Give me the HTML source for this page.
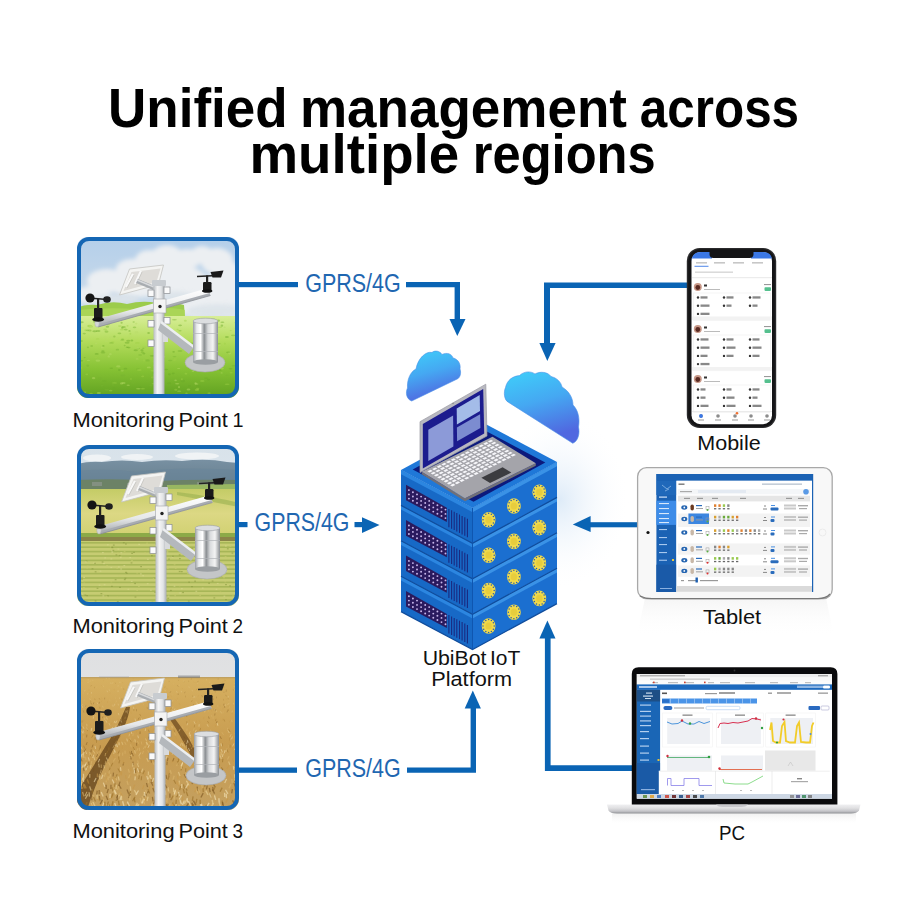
<!DOCTYPE html>
<html><head><meta charset="utf-8">
<style>
html,body{margin:0;padding:0;background:#fff;}
body{width:900px;height:900px;overflow:hidden;position:relative;font-family:"Liberation Sans",sans-serif;}
svg{position:absolute;left:0;top:0;}
</style></head>
<body>
<svg width="900" height="900" viewBox="0 0 900 900" font-family="Liberation Sans, sans-serif">
<defs>
  <filter id="cblur" x="-30%" y="-30%" width="160%" height="160%"><feGaussianBlur stdDeviation="2.2"/></filter>
  <clipPath id="pclip"><rect x="0" y="0" width="162" height="161" rx="11"/></clipPath>
  <linearGradient id="sky1" x1="0" y1="0" x2="0" y2="1">
    <stop offset="0" stop-color="#b4cfea"/><stop offset="0.6" stop-color="#d4e0ea"/><stop offset="1" stop-color="#dfe6ec"/>
  </linearGradient>
  <linearGradient id="grass1" x1="0" y1="0" x2="0" y2="1">
    <stop offset="0" stop-color="#d8ee98"/><stop offset="0.3" stop-color="#b4dc5c"/><stop offset="0.65" stop-color="#86c234"/><stop offset="1" stop-color="#5fa020"/>
  </linearGradient>
  <linearGradient id="sky2" x1="0" y1="0" x2="0" y2="1">
    <stop offset="0" stop-color="#d8e2ea"/><stop offset="1" stop-color="#e8eef0"/>
  </linearGradient>
  <linearGradient id="mtn2" x1="0" y1="0" x2="0" y2="1">
    <stop offset="0" stop-color="#7890a2"/><stop offset="1" stop-color="#67808e"/>
  </linearGradient>
  <linearGradient id="field2" x1="0" y1="0" x2="0" y2="1">
    <stop offset="0" stop-color="#c4cc66"/><stop offset="0.5" stop-color="#dcd884"/><stop offset="1" stop-color="#d0d070"/>
  </linearGradient>
  <linearGradient id="rice2" x1="0" y1="0" x2="0" y2="1">
    <stop offset="0" stop-color="#a8b050"/><stop offset="1" stop-color="#b8c060"/>
  </linearGradient>
  <pattern id="rows2" x="0" y="0" width="6" height="5" patternUnits="userSpaceOnUse">
    <rect width="6" height="5" fill="#c2c862"/>
    <rect y="3" width="6" height="2" fill="#8ea040"/>
    <rect x="2" y="0" width="1.5" height="3" fill="#d8d88a"/>
  </pattern>
  <linearGradient id="sky3" x1="0" y1="0" x2="0" y2="1">
    <stop offset="0" stop-color="#dfe0e2"/><stop offset="1" stop-color="#e8e8e6"/>
  </linearGradient>
  <linearGradient id="wheat3" x1="0" y1="0" x2="0" y2="1">
    <stop offset="0" stop-color="#d6b060"/><stop offset="0.5" stop-color="#c89c50"/><stop offset="1" stop-color="#c4a060"/>
  </linearGradient>
  <pattern id="wtex3" x="0" y="0" width="7" height="6" patternUnits="userSpaceOnUse">
    <rect width="7" height="6" fill="none"/>
    <path d="M1 5 L3 1 M4 6 L6 2" stroke="#e8c880" stroke-width="0.9" opacity="0.7"/>
    <path d="M0 2 L2 6" stroke="#7a5420" stroke-width="0.8" opacity="0.5"/>
  </pattern>
  <linearGradient id="poleG" x1="0" y1="0" x2="1" y2="0">
    <stop offset="0" stop-color="#b8bcc0"/><stop offset="0.35" stop-color="#f4f4f4"/><stop offset="0.7" stop-color="#e2e4e6"/><stop offset="1" stop-color="#a8acb0"/>
  </linearGradient>
  <linearGradient id="armG" x1="0" y1="0" x2="0" y2="1">
    <stop offset="0" stop-color="#ffffff"/><stop offset="0.6" stop-color="#e6e8ea"/><stop offset="1" stop-color="#a0a4a8"/>
  </linearGradient>
  <linearGradient id="canG" x1="0" y1="0" x2="1" y2="0">
    <stop offset="0" stop-color="#9a9ea2"/><stop offset="0.15" stop-color="#e8eaec"/><stop offset="0.3" stop-color="#ffffff"/><stop offset="0.45" stop-color="#8a8e92"/><stop offset="0.6" stop-color="#d8dadc"/><stop offset="0.8" stop-color="#f4f4f4"/><stop offset="1" stop-color="#8a8e92"/>
  </linearGradient>
  <g id="station">
    <!-- solar panel -->
    <path d="M42.5 58 L52.5 32 L86.5 28 L81.5 47.5 Z" fill="#f4f4f2" stroke="#c4c4c0" stroke-width="0.8"/>
    <path d="M46.5 54 L54.5 35 L83.5 31.5 L79.5 45 Z" fill="#dedcd8"/>
    <path d="M49 50 L56 37 M58 47 L64 34" stroke="#f8f8f8" stroke-width="2.2"/>
    <path d="M49 50 L56 37 M58 47 L64 34" stroke="#b8b8b4" stroke-width="0.6" transform="translate(1,1)"/>
    <path d="M60 44 L77 51" stroke="#a8acb0" stroke-width="4.5"/>
    <path d="M60 43 L77 50" stroke="#d8dadc" stroke-width="1.5"/>
    <!-- pole -->
    <rect x="76.5" y="46" width="11" height="112" fill="url(#poleG)"/>
    <rect x="75" y="43" width="14" height="6" rx="1" fill="#c8ccd0"/>
    <!-- crossarm -->
    <path d="M19 82.5 L131.5 51 L133.5 58.5 L21 90 Z" fill="url(#armG)"/>
    <path d="M20.2 87.5 L132.7 56 L133.5 58.5 L21 90 Z" fill="#a8acb2"/>
    <path d="M21 90 L133.5 58.5" stroke="#8a8e94" stroke-width="0.8"/>
    <ellipse cx="20" cy="86.3" rx="2.2" ry="3.8" fill="#d4d6d8" stroke="#aaa" stroke-width="0.5"/>
    <!-- brackets -->
    <rect x="71" y="53" width="6" height="6.5" fill="#fafafa" stroke="#8a8e92" stroke-width="0.7"/>
    <rect x="87" y="50" width="6" height="6.5" fill="#fafafa" stroke="#8a8e92" stroke-width="0.7"/>
    <rect x="76.5" y="62" width="12.5" height="14" fill="#f4f4f4" stroke="#a0a4a8" stroke-width="0.6"/>
    <circle cx="83" cy="69.5" r="1.7" fill="#222"/>
    <rect x="71" y="83.5" width="6" height="6.5" fill="#fafafa" stroke="#8a8e92" stroke-width="0.7"/>
    <rect x="87" y="80.5" width="6" height="6.5" fill="#fafafa" stroke="#8a8e92" stroke-width="0.7"/>
    <rect x="71" y="103" width="6" height="6.5" fill="#fafafa" stroke="#8a8e92" stroke-width="0.7"/>
    <rect x="86" y="97" width="5" height="8" fill="#d8dadc"/>
    <!-- support arm -->
    <path d="M84 85 L117 110 L112 117 L81 93 Z" fill="#b4b8bc"/>
    <path d="M84 85 L117 110" stroke="#eceef0" stroke-width="2.5"/>
    <!-- anemometer -->
    <rect x="17" y="71" width="8.5" height="11" rx="1" fill="#1c1c1c"/>
    <ellipse cx="21.2" cy="82.5" rx="6" ry="2.2" fill="#111"/>
    <rect x="20" y="62" width="2.2" height="10" fill="#222"/>
    <path d="M12 61 L30 62.5" stroke="#222" stroke-width="1.5"/>
    <ellipse cx="13" cy="61" rx="4.6" ry="4.5" fill="#151515"/>
    <ellipse cx="30" cy="62.5" rx="3.8" ry="3.2" fill="#202020"/>
    <!-- wind vane -->
    <rect x="126" y="45" width="8.5" height="9" rx="1.2" fill="#1a1a1a"/>
    <ellipse cx="130.2" cy="54" rx="5.2" ry="1.8" fill="#111"/>
    <rect x="129" y="38.5" width="2.2" height="7" fill="#222"/>
    <path d="M120 39.5 L140 38.5" stroke="#222" stroke-width="1.6"/>
    <path d="M133.5 35 L146.5 33.5 L144 40.5 L135.5 40.5 Z" fill="#1a1a1a"/>
    <!-- rain gauge -->
    <ellipse cx="128" cy="125.5" rx="20" ry="9.5" fill="#c4c6c8" stroke="#a8aaac" stroke-width="0.6"/>
    <rect x="116" y="84" width="25" height="41" fill="url(#canG)"/>
    <rect x="116" y="96" width="25" height="1" fill="#b0b4b8" opacity="0.7"/>
    <rect x="116" y="114" width="25" height="1" fill="#b0b4b8" opacity="0.7"/>
    <ellipse cx="128.5" cy="84" rx="12.5" ry="2.8" fill="#dcdee0" stroke="#9a9ea2" stroke-width="0.6"/>
    <ellipse cx="128.5" cy="125" rx="12.5" ry="2.8" fill="#9a9ea2"/>
  </g>
</defs>

<text transform="translate(108.11,127) scale(0.9633,1)" font-size="55" font-weight="bold" fill="#000">Unified</text>
<text transform="translate(299.94,127) scale(0.9642,1)" font-size="55" font-weight="bold" fill="#000">management</text>
<text transform="translate(639.80,127) scale(0.8983,1)" font-size="55" font-weight="bold" fill="#000">across</text>
<text transform="translate(249.42,172.5) scale(0.9951,1)" font-size="55" font-weight="bold" fill="#000">multiple</text>
<text transform="translate(472.82,172.5) scale(0.9208,1)" font-size="55" font-weight="bold" fill="#000">regions</text>
<g transform="translate(77,237)"><g clip-path="url(#pclip)">
<rect x="0" y="0" width="162" height="161" fill="url(#sky1)"/>
<g fill="#eceff2" filter="url(#cblur)">
<ellipse cx="55" cy="32" rx="16" ry="10"/>
<ellipse cx="72" cy="24" rx="14" ry="11"/>
<ellipse cx="90" cy="20" rx="16" ry="12"/>
<ellipse cx="110" cy="22" rx="14" ry="10"/>
<ellipse cx="125" cy="18" rx="12" ry="9"/>
<ellipse cx="140" cy="24" rx="16" ry="13"/>
<ellipse cx="150" cy="40" rx="16" ry="16"/>
<ellipse cx="30" cy="44" rx="20" ry="12"/>
<ellipse cx="60" cy="46" rx="30" ry="14"/>
<ellipse cx="100" cy="44" rx="30" ry="16"/>
<ellipse cx="135" cy="55" rx="28" ry="16"/>
<ellipse cx="15" cy="58" rx="18" ry="9"/>
<ellipse cx="150" cy="68" rx="22" ry="12"/>
<ellipse cx="120" cy="70" rx="20" ry="9"/>
</g>
<g fill="#dde4ea" opacity="0.9" filter="url(#cblur)"><ellipse cx="140" cy="74" rx="30" ry="7"/><ellipse cx="100" cy="60" rx="18" ry="6"/><ellipse cx="40" cy="62" rx="22" ry="5"/></g>
<path d="M0 71 Q8 67 20 68 Q35 63 50 67 Q65 63 80 66 Q95 64 107 68 L108 80 L0 80 Z" fill="#9ccc4c"/>
<path d="M0 73 Q30 70 60 72 Q90 69 108 73 L108 80 L0 80 Z" fill="#b0d85c" opacity="0.7"/>
<rect x="0" y="79" width="162" height="82" fill="url(#grass1)"/>
<ellipse cx="52.5" cy="93.9" rx="1.1" ry="0.9" fill="#6aa828" opacity="0.45"/>
<ellipse cx="59.2" cy="86.6" rx="1.1" ry="0.9" fill="#b8dc68" opacity="0.45"/>
<ellipse cx="11.3" cy="89.2" rx="1.1" ry="0.9" fill="#a0d048" opacity="0.45"/>
<ellipse cx="153.5" cy="131.8" rx="1.9" ry="0.8" fill="#6aa828" opacity="0.45"/>
<ellipse cx="158.2" cy="85.7" rx="1.4" ry="0.7" fill="#b8dc68" opacity="0.45"/>
<ellipse cx="19.1" cy="106.4" rx="1.2" ry="0.9" fill="#b8dc68" opacity="0.45"/>
<ellipse cx="30.4" cy="89.7" rx="1.8" ry="1.0" fill="#6aa828" opacity="0.45"/>
<ellipse cx="80.4" cy="124.0" rx="1.7" ry="1.2" fill="#78b430" opacity="0.45"/>
<ellipse cx="58.6" cy="101.6" rx="2.0" ry="0.7" fill="#b8dc68" opacity="0.45"/>
<ellipse cx="93.1" cy="123.5" rx="2.1" ry="0.8" fill="#78b430" opacity="0.45"/>
<ellipse cx="158.8" cy="91.3" rx="1.2" ry="0.8" fill="#a0d048" opacity="0.45"/>
<ellipse cx="151.2" cy="115.3" rx="2.1" ry="0.9" fill="#6aa828" opacity="0.45"/>
<ellipse cx="141.8" cy="106.8" rx="1.9" ry="0.9" fill="#78b430" opacity="0.45"/>
<ellipse cx="73.9" cy="148.4" rx="1.7" ry="1.0" fill="#78b430" opacity="0.45"/>
<ellipse cx="9.8" cy="137.4" rx="1.4" ry="0.8" fill="#a0d048" opacity="0.45"/>
<ellipse cx="108.3" cy="83.8" rx="1.5" ry="1.0" fill="#a0d048" opacity="0.45"/>
<ellipse cx="80.0" cy="99.2" rx="1.2" ry="0.7" fill="#78b430" opacity="0.45"/>
<ellipse cx="63.3" cy="150.8" rx="1.2" ry="0.8" fill="#6aa828" opacity="0.45"/>
<ellipse cx="45.0" cy="92.8" rx="2.3" ry="0.8" fill="#a0d048" opacity="0.45"/>
<ellipse cx="67.3" cy="110.3" rx="2.4" ry="0.7" fill="#a0d048" opacity="0.45"/>
<ellipse cx="28.5" cy="100.3" rx="1.0" ry="1.1" fill="#b8dc68" opacity="0.45"/>
<ellipse cx="29.5" cy="104.3" rx="1.6" ry="0.8" fill="#b8dc68" opacity="0.45"/>
<ellipse cx="91.7" cy="157.3" rx="1.7" ry="1.1" fill="#6aa828" opacity="0.45"/>
<ellipse cx="154.2" cy="135.8" rx="1.6" ry="0.8" fill="#a0d048" opacity="0.45"/>
<ellipse cx="78.0" cy="113.6" rx="1.1" ry="0.7" fill="#b8dc68" opacity="0.45"/>
<ellipse cx="26.3" cy="108.9" rx="1.2" ry="0.9" fill="#6aa828" opacity="0.45"/>
<ellipse cx="86.9" cy="157.0" rx="1.1" ry="0.7" fill="#6aa828" opacity="0.45"/>
<ellipse cx="60.9" cy="132.1" rx="1.9" ry="0.9" fill="#78b430" opacity="0.45"/>
<ellipse cx="18.7" cy="120.6" rx="1.7" ry="0.8" fill="#a0d048" opacity="0.45"/>
<ellipse cx="23.3" cy="141.2" rx="1.7" ry="1.0" fill="#78b430" opacity="0.45"/>
<ellipse cx="83.6" cy="98.2" rx="1.2" ry="0.9" fill="#78b430" opacity="0.45"/>
<ellipse cx="4.4" cy="123.7" rx="2.0" ry="0.8" fill="#6aa828" opacity="0.45"/>
<ellipse cx="59.4" cy="95.2" rx="1.8" ry="1.1" fill="#b8dc68" opacity="0.45"/>
<ellipse cx="53.4" cy="99.6" rx="2.2" ry="1.1" fill="#b8dc68" opacity="0.45"/>
<ellipse cx="119.9" cy="99.9" rx="1.5" ry="0.6" fill="#a0d048" opacity="0.45"/>
<ellipse cx="4.5" cy="104.1" rx="1.3" ry="1.0" fill="#78b430" opacity="0.45"/>
<ellipse cx="55.8" cy="145.9" rx="2.4" ry="0.8" fill="#78b430" opacity="0.45"/>
<ellipse cx="35.7" cy="99.9" rx="1.5" ry="0.9" fill="#b8dc68" opacity="0.45"/>
<ellipse cx="159.6" cy="130.2" rx="1.7" ry="1.0" fill="#6aa828" opacity="0.45"/>
<ellipse cx="129.5" cy="88.7" rx="2.4" ry="1.1" fill="#6aa828" opacity="0.45"/>
<ellipse cx="121.5" cy="119.8" rx="1.7" ry="1.0" fill="#b8dc68" opacity="0.45"/>
<ellipse cx="14.1" cy="156.7" rx="1.7" ry="1.0" fill="#a0d048" opacity="0.45"/>
<ellipse cx="13.8" cy="94.5" rx="1.0" ry="1.0" fill="#b8dc68" opacity="0.45"/>
<ellipse cx="75.4" cy="133.8" rx="2.0" ry="0.8" fill="#a0d048" opacity="0.45"/>
<ellipse cx="88.9" cy="92.3" rx="2.2" ry="1.0" fill="#6aa828" opacity="0.45"/>
<ellipse cx="16.6" cy="141.2" rx="1.7" ry="1.1" fill="#b8dc68" opacity="0.45"/>
<ellipse cx="133.8" cy="98.7" rx="1.3" ry="0.9" fill="#78b430" opacity="0.45"/>
<ellipse cx="123.7" cy="107.8" rx="2.3" ry="0.6" fill="#a0d048" opacity="0.45"/>
<ellipse cx="119.9" cy="152.9" rx="2.2" ry="1.1" fill="#a0d048" opacity="0.45"/>
<ellipse cx="21.2" cy="94.0" rx="2.3" ry="1.1" fill="#6aa828" opacity="0.45"/>
<ellipse cx="98.6" cy="143.3" rx="1.3" ry="0.9" fill="#b8dc68" opacity="0.45"/>
<ellipse cx="117.5" cy="126.0" rx="2.0" ry="0.9" fill="#78b430" opacity="0.45"/>
<ellipse cx="78.2" cy="143.3" rx="1.4" ry="0.8" fill="#6aa828" opacity="0.45"/>
<ellipse cx="125.1" cy="122.1" rx="2.1" ry="1.1" fill="#6aa828" opacity="0.45"/>
<ellipse cx="71.8" cy="130.4" rx="2.0" ry="0.9" fill="#b8dc68" opacity="0.45"/>
<ellipse cx="86.4" cy="119.8" rx="2.0" ry="1.1" fill="#b8dc68" opacity="0.45"/>
<ellipse cx="152.6" cy="102.5" rx="2.3" ry="0.7" fill="#b8dc68" opacity="0.45"/>
<ellipse cx="19.7" cy="116.9" rx="2.0" ry="0.9" fill="#6aa828" opacity="0.45"/>
<ellipse cx="34.5" cy="105.9" rx="2.3" ry="0.7" fill="#6aa828" opacity="0.45"/>
<ellipse cx="116.0" cy="134.2" rx="1.4" ry="0.7" fill="#b8dc68" opacity="0.45"/>
<ellipse cx="75.8" cy="141.0" rx="1.6" ry="0.9" fill="#6aa828" opacity="0.45"/>
<ellipse cx="160.4" cy="147.8" rx="2.1" ry="1.2" fill="#b8dc68" opacity="0.45"/>
<ellipse cx="65.4" cy="115.3" rx="1.5" ry="1.0" fill="#78b430" opacity="0.45"/>
<ellipse cx="3.2" cy="125.8" rx="2.1" ry="0.8" fill="#a0d048" opacity="0.45"/>
<ellipse cx="83.8" cy="105.3" rx="1.2" ry="1.2" fill="#6aa828" opacity="0.45"/>
<ellipse cx="37.0" cy="151.2" rx="1.4" ry="0.6" fill="#6aa828" opacity="0.45"/>
<ellipse cx="126.2" cy="103.4" rx="2.2" ry="1.1" fill="#b8dc68" opacity="0.45"/>
<ellipse cx="109.5" cy="156.7" rx="1.2" ry="1.2" fill="#a0d048" opacity="0.45"/>
<ellipse cx="92.4" cy="137.3" rx="1.4" ry="1.1" fill="#6aa828" opacity="0.45"/>
<ellipse cx="29.7" cy="152.7" rx="2.4" ry="1.0" fill="#78b430" opacity="0.45"/>
<ellipse cx="129.9" cy="88.6" rx="1.1" ry="1.1" fill="#b8dc68" opacity="0.45"/>
<ellipse cx="73.5" cy="108.8" rx="2.4" ry="0.8" fill="#a0d048" opacity="0.45"/>
<ellipse cx="20.9" cy="123.6" rx="2.4" ry="1.2" fill="#b8dc68" opacity="0.45"/>
<ellipse cx="42.4" cy="96.3" rx="1.9" ry="0.9" fill="#78b430" opacity="0.45"/>
<ellipse cx="33.4" cy="117.2" rx="1.4" ry="1.1" fill="#b8dc68" opacity="0.45"/>
<ellipse cx="161.1" cy="84.9" rx="2.1" ry="0.9" fill="#6aa828" opacity="0.45"/>
<ellipse cx="30.7" cy="119.5" rx="1.2" ry="1.1" fill="#a0d048" opacity="0.45"/>
<ellipse cx="70.0" cy="121.1" rx="2.5" ry="0.8" fill="#a0d048" opacity="0.45"/>
<ellipse cx="34.9" cy="100.1" rx="2.2" ry="1.0" fill="#b8dc68" opacity="0.45"/>
<ellipse cx="103.0" cy="114.0" rx="2.5" ry="1.1" fill="#78b430" opacity="0.45"/>
<ellipse cx="2.3" cy="131.4" rx="1.6" ry="0.6" fill="#78b430" opacity="0.45"/>
<ellipse cx="107.8" cy="112.1" rx="1.9" ry="1.0" fill="#78b430" opacity="0.45"/>
<ellipse cx="7.3" cy="96.6" rx="1.7" ry="0.8" fill="#78b430" opacity="0.45"/>
<ellipse cx="155.8" cy="158.8" rx="1.4" ry="1.2" fill="#78b430" opacity="0.45"/>
<ellipse cx="50.1" cy="110.2" rx="1.5" ry="0.7" fill="#6aa828" opacity="0.45"/>
<ellipse cx="45.2" cy="133.8" rx="1.8" ry="0.6" fill="#b8dc68" opacity="0.45"/>
<ellipse cx="42.8" cy="89.1" rx="1.9" ry="0.8" fill="#a0d048" opacity="0.45"/>
<ellipse cx="48.5" cy="131.7" rx="1.9" ry="0.9" fill="#6aa828" opacity="0.45"/>
<ellipse cx="121.6" cy="133.9" rx="2.1" ry="1.0" fill="#a0d048" opacity="0.45"/>
<ellipse cx="80.1" cy="104.4" rx="1.1" ry="1.1" fill="#b8dc68" opacity="0.45"/>
<ellipse cx="144.5" cy="131.6" rx="2.4" ry="1.1" fill="#b8dc68" opacity="0.45"/>
<ellipse cx="92.1" cy="146.2" rx="2.2" ry="1.0" fill="#6aa828" opacity="0.45"/>
<ellipse cx="144.6" cy="135.9" rx="1.1" ry="0.6" fill="#b8dc68" opacity="0.45"/>
<ellipse cx="103.2" cy="157.8" rx="2.3" ry="0.9" fill="#a0d048" opacity="0.45"/>
<ellipse cx="101.7" cy="131.5" rx="1.7" ry="0.6" fill="#b8dc68" opacity="0.45"/>
<ellipse cx="129.2" cy="141.1" rx="2.0" ry="0.6" fill="#6aa828" opacity="0.45"/>
<ellipse cx="119.4" cy="101.9" rx="2.3" ry="0.7" fill="#6aa828" opacity="0.45"/>
<ellipse cx="122.5" cy="100.2" rx="1.7" ry="0.8" fill="#a0d048" opacity="0.45"/>
<ellipse cx="77.6" cy="136.0" rx="1.9" ry="1.0" fill="#6aa828" opacity="0.45"/>
<ellipse cx="12.6" cy="93.6" rx="2.0" ry="1.0" fill="#78b430" opacity="0.45"/>
<ellipse cx="100.6" cy="92.5" rx="1.1" ry="0.8" fill="#a0d048" opacity="0.45"/>
<ellipse cx="108.9" cy="136.7" rx="1.4" ry="0.9" fill="#a0d048" opacity="0.45"/>
<ellipse cx="75.3" cy="118.8" rx="2.5" ry="0.9" fill="#6aa828" opacity="0.45"/>
<ellipse cx="50.5" cy="88.8" rx="1.0" ry="0.9" fill="#a0d048" opacity="0.45"/>
<ellipse cx="132.8" cy="158.5" rx="2.5" ry="0.8" fill="#a0d048" opacity="0.45"/>
<ellipse cx="148.5" cy="155.5" rx="1.9" ry="0.7" fill="#6aa828" opacity="0.45"/>
<ellipse cx="84.9" cy="157.3" rx="1.9" ry="1.0" fill="#b8dc68" opacity="0.45"/>
<ellipse cx="45.3" cy="90.9" rx="1.3" ry="1.1" fill="#78b430" opacity="0.45"/>
<ellipse cx="78.8" cy="84.0" rx="2.4" ry="1.0" fill="#6aa828" opacity="0.45"/>
<ellipse cx="65.7" cy="139.4" rx="1.5" ry="0.8" fill="#a0d048" opacity="0.45"/>
<ellipse cx="136.1" cy="82.1" rx="2.3" ry="0.7" fill="#78b430" opacity="0.45"/>
<ellipse cx="150.1" cy="138.3" rx="1.4" ry="0.6" fill="#78b430" opacity="0.45"/>
<ellipse cx="63.2" cy="150.7" rx="1.5" ry="0.9" fill="#6aa828" opacity="0.45"/>
<ellipse cx="44.6" cy="85.8" rx="1.1" ry="1.0" fill="#6aa828" opacity="0.45"/>
<ellipse cx="102.9" cy="93.8" rx="1.7" ry="0.8" fill="#78b430" opacity="0.45"/>
<ellipse cx="125.3" cy="144.0" rx="2.3" ry="1.1" fill="#a0d048" opacity="0.45"/>
<ellipse cx="102.2" cy="154.2" rx="2.1" ry="0.6" fill="#b8dc68" opacity="0.45"/>
<ellipse cx="118.6" cy="117.6" rx="2.0" ry="0.8" fill="#b8dc68" opacity="0.45"/>
<ellipse cx="7.9" cy="155.2" rx="1.3" ry="0.8" fill="#b8dc68" opacity="0.45"/>
<ellipse cx="45.6" cy="102.2" rx="1.6" ry="0.7" fill="#78b430" opacity="0.45"/>
<ellipse cx="78.3" cy="134.8" rx="1.3" ry="0.7" fill="#6aa828" opacity="0.45"/>
<ellipse cx="33.7" cy="153.6" rx="1.8" ry="0.9" fill="#a0d048" opacity="0.45"/>
<ellipse cx="53.9" cy="142.0" rx="1.2" ry="0.7" fill="#a0d048" opacity="0.45"/>
<ellipse cx="14.7" cy="109.0" rx="1.5" ry="0.8" fill="#6aa828" opacity="0.45"/>
<ellipse cx="131.1" cy="98.0" rx="2.1" ry="0.8" fill="#6aa828" opacity="0.45"/>
<ellipse cx="67.0" cy="123.4" rx="1.4" ry="1.1" fill="#a0d048" opacity="0.45"/>
<ellipse cx="80.7" cy="127.4" rx="1.2" ry="0.9" fill="#78b430" opacity="0.45"/>
<ellipse cx="102.0" cy="150.2" rx="1.1" ry="1.1" fill="#b8dc68" opacity="0.45"/>
<ellipse cx="62.3" cy="133.0" rx="2.4" ry="1.1" fill="#a0d048" opacity="0.45"/>
<ellipse cx="141.4" cy="83.7" rx="1.6" ry="1.1" fill="#6aa828" opacity="0.45"/>
<ellipse cx="130.3" cy="158.5" rx="1.0" ry="0.8" fill="#a0d048" opacity="0.45"/>
<ellipse cx="150.1" cy="147.2" rx="2.5" ry="0.7" fill="#a0d048" opacity="0.45"/>
<ellipse cx="17.7" cy="94.2" rx="2.4" ry="1.0" fill="#6aa828" opacity="0.45"/>
<ellipse cx="104.9" cy="142.4" rx="1.1" ry="1.1" fill="#a0d048" opacity="0.45"/>
<ellipse cx="0.2" cy="91.9" rx="2.0" ry="0.8" fill="#6aa828" opacity="0.45"/>
<ellipse cx="20.7" cy="101.9" rx="2.0" ry="0.7" fill="#a0d048" opacity="0.45"/>
<ellipse cx="11.4" cy="123.4" rx="1.6" ry="0.7" fill="#b8dc68" opacity="0.45"/>
<ellipse cx="97.4" cy="82.8" rx="2.5" ry="0.8" fill="#78b430" opacity="0.45"/>
<ellipse cx="51.2" cy="148.3" rx="1.7" ry="0.7" fill="#b8dc68" opacity="0.45"/>
<ellipse cx="40.0" cy="157.9" rx="1.1" ry="0.7" fill="#78b430" opacity="0.45"/>
<ellipse cx="143.3" cy="133.1" rx="1.4" ry="1.0" fill="#6aa828" opacity="0.45"/>
<ellipse cx="149.9" cy="99.9" rx="2.0" ry="1.0" fill="#6aa828" opacity="0.45"/>
<ellipse cx="58.7" cy="113.3" rx="2.2" ry="1.0" fill="#6aa828" opacity="0.45"/>
<ellipse cx="81.8" cy="98.2" rx="1.5" ry="1.1" fill="#b8dc68" opacity="0.45"/>
<ellipse cx="37.4" cy="99.5" rx="1.2" ry="1.0" fill="#78b430" opacity="0.45"/>
<ellipse cx="98.8" cy="152.8" rx="1.6" ry="1.0" fill="#a0d048" opacity="0.45"/>
<ellipse cx="153.7" cy="93.6" rx="1.1" ry="0.6" fill="#a0d048" opacity="0.45"/>
<ellipse cx="96.6" cy="114.8" rx="1.3" ry="0.9" fill="#6aa828" opacity="0.45"/>
<ellipse cx="115.3" cy="106.8" rx="2.5" ry="1.2" fill="#6aa828" opacity="0.45"/>
<ellipse cx="53.3" cy="96.7" rx="1.0" ry="1.0" fill="#a0d048" opacity="0.45"/>
<ellipse cx="61.3" cy="111.5" rx="1.7" ry="0.7" fill="#78b430" opacity="0.45"/>
<ellipse cx="12.7" cy="88.4" rx="2.4" ry="0.7" fill="#a0d048" opacity="0.45"/>
<ellipse cx="156.2" cy="98.4" rx="2.2" ry="0.8" fill="#78b430" opacity="0.45"/>
<ellipse cx="130.2" cy="88.9" rx="1.3" ry="0.9" fill="#a0d048" opacity="0.45"/>
<ellipse cx="72.3" cy="107.5" rx="1.0" ry="0.8" fill="#a0d048" opacity="0.45"/>
<ellipse cx="131.5" cy="142.6" rx="1.6" ry="0.9" fill="#6aa828" opacity="0.45"/>
<ellipse cx="130.1" cy="86.9" rx="2.1" ry="1.1" fill="#b8dc68" opacity="0.45"/>
<ellipse cx="54.9" cy="103.5" rx="1.4" ry="1.0" fill="#6aa828" opacity="0.45"/>
<ellipse cx="51.3" cy="103.8" rx="2.1" ry="1.0" fill="#6aa828" opacity="0.45"/>
<ellipse cx="130.5" cy="156.8" rx="1.0" ry="0.7" fill="#6aa828" opacity="0.45"/>
<ellipse cx="77.0" cy="157.6" rx="2.2" ry="1.1" fill="#a0d048" opacity="0.45"/>
<ellipse cx="132.0" cy="92.5" rx="1.3" ry="1.1" fill="#a0d048" opacity="0.45"/>
<ellipse cx="119.6" cy="147.0" rx="1.9" ry="0.8" fill="#b8dc68" opacity="0.45"/>
<ellipse cx="51.8" cy="110.6" rx="1.8" ry="0.8" fill="#6aa828" opacity="0.45"/>
<ellipse cx="25.9" cy="114.2" rx="1.7" ry="0.9" fill="#6aa828" opacity="0.45"/>
<ellipse cx="26.0" cy="115.7" rx="2.5" ry="0.8" fill="#6aa828" opacity="0.45"/>
<ellipse cx="13.6" cy="89.6" rx="2.5" ry="1.2" fill="#a0d048" opacity="0.45"/>
<ellipse cx="28.1" cy="92.5" rx="1.9" ry="1.0" fill="#a0d048" opacity="0.45"/>
<ellipse cx="121.2" cy="148.9" rx="2.2" ry="0.8" fill="#6aa828" opacity="0.45"/>
<ellipse cx="45.3" cy="103.1" rx="2.1" ry="0.7" fill="#78b430" opacity="0.45"/>
<ellipse cx="40.1" cy="101.4" rx="1.4" ry="1.1" fill="#b8dc68" opacity="0.45"/>
<ellipse cx="30.5" cy="87.1" rx="2.5" ry="0.9" fill="#78b430" opacity="0.45"/>
<ellipse cx="37.5" cy="145.9" rx="2.5" ry="0.7" fill="#a0d048" opacity="0.45"/>
<ellipse cx="76.9" cy="146.7" rx="2.4" ry="0.6" fill="#a0d048" opacity="0.45"/>
<ellipse cx="47.6" cy="91.4" rx="1.9" ry="1.1" fill="#b8dc68" opacity="0.45"/>
<ellipse cx="31.5" cy="87.9" rx="1.7" ry="0.8" fill="#b8dc68" opacity="0.45"/>
<ellipse cx="126.0" cy="156.7" rx="2.0" ry="1.0" fill="#6aa828" opacity="0.45"/>
<ellipse cx="56.7" cy="85.0" rx="1.2" ry="0.7" fill="#78b430" opacity="0.45"/>
<ellipse cx="41.3" cy="129.4" rx="2.2" ry="1.1" fill="#b8dc68" opacity="0.45"/>
<ellipse cx="66.3" cy="111.4" rx="1.1" ry="0.6" fill="#78b430" opacity="0.45"/>
<ellipse cx="80.3" cy="120.2" rx="1.2" ry="0.8" fill="#a0d048" opacity="0.45"/>
<ellipse cx="89.1" cy="132.5" rx="2.0" ry="0.8" fill="#6aa828" opacity="0.45"/>
<ellipse cx="43.9" cy="160.1" rx="1.6" ry="0.6" fill="#78b430" opacity="0.45"/>
<ellipse cx="120.7" cy="151.8" rx="1.6" ry="1.1" fill="#a0d048" opacity="0.45"/>
<ellipse cx="161.5" cy="110.7" rx="1.6" ry="0.8" fill="#b8dc68" opacity="0.45"/>
<ellipse cx="152.6" cy="116.3" rx="1.6" ry="1.1" fill="#b8dc68" opacity="0.45"/>
<ellipse cx="65.8" cy="151.7" rx="2.2" ry="0.7" fill="#a0d048" opacity="0.45"/>
<ellipse cx="8.4" cy="93.3" rx="1.1" ry="1.0" fill="#a0d048" opacity="0.45"/>
<ellipse cx="60.1" cy="121.9" rx="1.5" ry="0.7" fill="#b8dc68" opacity="0.45"/>
<ellipse cx="27.8" cy="87.3" rx="1.7" ry="1.1" fill="#a0d048" opacity="0.45"/>
<ellipse cx="156.6" cy="97.6" rx="2.3" ry="0.6" fill="#b8dc68" opacity="0.45"/>
<ellipse cx="147.9" cy="106.8" rx="1.1" ry="1.0" fill="#a0d048" opacity="0.45"/>
<ellipse cx="111.5" cy="152.4" rx="1.9" ry="1.0" fill="#b8dc68" opacity="0.45"/>
<ellipse cx="31.8" cy="119.4" rx="1.1" ry="1.2" fill="#b8dc68" opacity="0.45"/>
<ellipse cx="25.3" cy="110.4" rx="1.4" ry="1.0" fill="#b8dc68" opacity="0.45"/>
<ellipse cx="145.4" cy="85.2" rx="2.0" ry="0.8" fill="#6aa828" opacity="0.45"/>
<ellipse cx="63.2" cy="118.0" rx="2.0" ry="0.8" fill="#78b430" opacity="0.45"/>
<ellipse cx="40.4" cy="112.7" rx="1.7" ry="0.9" fill="#78b430" opacity="0.45"/>
<ellipse cx="3.8" cy="130.9" rx="1.7" ry="0.9" fill="#a0d048" opacity="0.45"/>
<ellipse cx="100.2" cy="146.7" rx="2.2" ry="0.8" fill="#b8dc68" opacity="0.45"/>
<ellipse cx="10.9" cy="110.3" rx="1.1" ry="0.9" fill="#78b430" opacity="0.45"/>
<ellipse cx="82.6" cy="85.2" rx="1.1" ry="1.0" fill="#b8dc68" opacity="0.45"/>
<ellipse cx="126.0" cy="122.4" rx="2.1" ry="1.1" fill="#6aa828" opacity="0.45"/>
<ellipse cx="105.7" cy="144.0" rx="2.3" ry="1.2" fill="#6aa828" opacity="0.45"/>
<ellipse cx="118.6" cy="146.4" rx="1.2" ry="1.1" fill="#b8dc68" opacity="0.45"/>
<ellipse cx="46.6" cy="146.1" rx="2.0" ry="1.0" fill="#b8dc68" opacity="0.45"/>
<ellipse cx="35.8" cy="147.8" rx="1.2" ry="1.1" fill="#78b430" opacity="0.45"/>
<ellipse cx="44.5" cy="146.4" rx="1.4" ry="1.2" fill="#b8dc68" opacity="0.45"/>
<ellipse cx="77.8" cy="128.8" rx="1.5" ry="0.6" fill="#b8dc68" opacity="0.45"/>
<ellipse cx="29.5" cy="94.7" rx="2.0" ry="1.1" fill="#78b430" opacity="0.45"/>
<ellipse cx="27.3" cy="144.0" rx="2.2" ry="0.6" fill="#6aa828" opacity="0.45"/>
<ellipse cx="139.0" cy="158.3" rx="1.8" ry="0.9" fill="#a0d048" opacity="0.45"/>
<ellipse cx="143.0" cy="90.3" rx="2.1" ry="0.8" fill="#a0d048" opacity="0.45"/>
<ellipse cx="60.9" cy="111.1" rx="1.5" ry="1.1" fill="#b8dc68" opacity="0.45"/>
<ellipse cx="71.6" cy="96.0" rx="1.4" ry="0.9" fill="#6aa828" opacity="0.45"/>
<ellipse cx="50.2" cy="158.3" rx="2.1" ry="1.0" fill="#78b430" opacity="0.45"/>
<ellipse cx="35.9" cy="105.0" rx="1.6" ry="0.8" fill="#a0d048" opacity="0.45"/>
<ellipse cx="7.7" cy="120.6" rx="1.0" ry="0.6" fill="#6aa828" opacity="0.45"/>
<ellipse cx="57.5" cy="90.4" rx="1.8" ry="0.8" fill="#78b430" opacity="0.45"/>
<ellipse cx="48.8" cy="92.6" rx="1.9" ry="0.9" fill="#78b430" opacity="0.45"/>
<ellipse cx="21.8" cy="156.0" rx="2.1" ry="0.9" fill="#b8dc68" opacity="0.45"/>
<ellipse cx="10.3" cy="93.4" rx="1.6" ry="0.8" fill="#78b430" opacity="0.45"/>
<ellipse cx="1.9" cy="133.0" rx="1.9" ry="0.9" fill="#78b430" opacity="0.45"/>
<ellipse cx="97.5" cy="122.9" rx="1.4" ry="1.1" fill="#a0d048" opacity="0.45"/>
<ellipse cx="7.1" cy="124.0" rx="1.3" ry="0.7" fill="#a0d048" opacity="0.45"/>
<ellipse cx="147.7" cy="90.3" rx="1.2" ry="0.7" fill="#b8dc68" opacity="0.45"/>
<ellipse cx="98.5" cy="122.0" rx="2.2" ry="0.7" fill="#a0d048" opacity="0.45"/>
<ellipse cx="50.1" cy="105.7" rx="2.5" ry="1.0" fill="#6aa828" opacity="0.45"/>
<ellipse cx="77.4" cy="124.5" rx="2.3" ry="1.0" fill="#a0d048" opacity="0.45"/>
<ellipse cx="75.4" cy="140.6" rx="1.3" ry="1.2" fill="#a0d048" opacity="0.45"/>
<ellipse cx="42.4" cy="132.9" rx="1.5" ry="1.0" fill="#6aa828" opacity="0.45"/>
<ellipse cx="112.6" cy="148.8" rx="1.4" ry="0.9" fill="#6aa828" opacity="0.45"/>
<ellipse cx="70.6" cy="144.3" rx="1.4" ry="1.2" fill="#78b430" opacity="0.45"/>
<ellipse cx="144.9" cy="88.7" rx="1.3" ry="1.1" fill="#6aa828" opacity="0.45"/>
<ellipse cx="136.4" cy="98.0" rx="2.1" ry="0.8" fill="#b8dc68" opacity="0.45"/>
<ellipse cx="142.6" cy="108.0" rx="1.6" ry="1.1" fill="#b8dc68" opacity="0.45"/>
<ellipse cx="149.3" cy="159.6" rx="1.7" ry="0.9" fill="#a0d048" opacity="0.45"/>
<ellipse cx="1.0" cy="84.1" rx="1.9" ry="0.8" fill="#b8dc68" opacity="0.45"/>
<ellipse cx="34.3" cy="131.2" rx="1.8" ry="0.7" fill="#6aa828" opacity="0.45"/>
<ellipse cx="5.3" cy="90.8" rx="1.5" ry="0.7" fill="#b8dc68" opacity="0.45"/>
<ellipse cx="4.7" cy="85.3" rx="2.0" ry="1.0" fill="#6aa828" opacity="0.45"/>
<ellipse cx="10.7" cy="128.6" rx="1.3" ry="1.2" fill="#78b430" opacity="0.45"/>
<ellipse cx="86.5" cy="134.5" rx="1.2" ry="0.7" fill="#a0d048" opacity="0.45"/>
<ellipse cx="18.1" cy="84.7" rx="2.2" ry="1.0" fill="#6aa828" opacity="0.45"/>
<ellipse cx="46.6" cy="89.9" rx="2.2" ry="1.0" fill="#6aa828" opacity="0.45"/>
<ellipse cx="47.7" cy="108.6" rx="1.0" ry="0.8" fill="#78b430" opacity="0.45"/>
<ellipse cx="45.8" cy="138.5" rx="2.4" ry="1.1" fill="#78b430" opacity="0.45"/>
<ellipse cx="97.5" cy="119.6" rx="1.9" ry="0.6" fill="#78b430" opacity="0.45"/>
<ellipse cx="66.9" cy="116.5" rx="1.5" ry="1.0" fill="#6aa828" opacity="0.45"/>
<ellipse cx="87.1" cy="99.1" rx="1.9" ry="0.8" fill="#6aa828" opacity="0.45"/>
<ellipse cx="70.6" cy="123.4" rx="2.1" ry="1.2" fill="#78b430" opacity="0.45"/>
<ellipse cx="0.7" cy="120.8" rx="2.0" ry="1.1" fill="#a0d048" opacity="0.45"/>
<ellipse cx="156.7" cy="128.8" rx="1.9" ry="0.7" fill="#78b430" opacity="0.45"/>
<ellipse cx="132.1" cy="156.1" rx="1.7" ry="0.7" fill="#b8dc68" opacity="0.45"/>
<ellipse cx="103.1" cy="88.4" rx="1.9" ry="0.8" fill="#6aa828" opacity="0.45"/>
<ellipse cx="65.0" cy="113.2" rx="1.6" ry="1.0" fill="#6aa828" opacity="0.45"/>
<ellipse cx="60.3" cy="105.9" rx="2.4" ry="0.9" fill="#a0d048" opacity="0.45"/>
<ellipse cx="61.4" cy="151.8" rx="2.4" ry="0.7" fill="#b8dc68" opacity="0.45"/>
<ellipse cx="96.2" cy="136.4" rx="1.5" ry="0.8" fill="#6aa828" opacity="0.45"/>
<ellipse cx="25.2" cy="148.6" rx="1.3" ry="0.9" fill="#78b430" opacity="0.45"/>
</g><use href="#station"/>
<rect x="2" y="2" width="158" height="157" rx="10" fill="none" stroke="#1466b4" stroke-width="4"/></g>
<g transform="translate(77,445)"><g clip-path="url(#pclip)">
<rect x="0" y="0" width="162" height="161" fill="url(#sky2)"/>
<g fill="#f4f6f7" opacity="0.85"><ellipse cx="20" cy="13" rx="14" ry="3.5"/><ellipse cx="60" cy="12" rx="16" ry="3"/><ellipse cx="120" cy="11" rx="22" ry="3.5"/></g>
<path d="M0 19 Q12 16 25 17 Q45 14 65 17 Q85 14 105 16 Q130 13 150 17 L162 18 L162 40 L0 40 Z" fill="url(#mtn2)"/>
<path d="M0 26 Q30 23 60 27 Q100 21 162 25 L162 40 L0 40 Z" fill="#68849a" opacity="0.5"/>
<path d="M0 35 Q40 33 80 36 Q120 34 162 35 L162 45 L0 45 Z" fill="#6c8266"/>
<path d="M15 37 h10 v4 h-10z M50 38 h8 v3 h-8z M120 37 h12 v3 h-12z" fill="#8a9488" opacity="0.8"/>
<path d="M90 40 L162 39 L162 45 L90 45 Z" fill="#a4c460" opacity="0.8"/>
<rect x="0" y="44" width="162" height="49" fill="url(#field2)"/>
<path d="M100 47 Q140 52 162 58 L162 62 Q130 56 100 50 Z" fill="#9ab050" opacity="0.6"/>
<rect x="0" y="88" width="162" height="9" fill="#8caa48"/>
<rect x="0" y="92" width="162" height="4" fill="#8a7a48" opacity="0.8"/>
<rect x="0" y="96" width="162" height="65" fill="#c6cc72"/>
<rect x="0" y="97.0" width="162" height="1.6" fill="#9aac4c" opacity="0.7"/>
<rect x="0" y="101.4" width="162" height="1.6" fill="#9aac4c" opacity="0.7"/>
<rect x="0" y="105.8" width="162" height="1.6" fill="#9aac4c" opacity="0.7"/>
<rect x="0" y="110.2" width="162" height="1.6" fill="#9aac4c" opacity="0.7"/>
<rect x="0" y="114.6" width="162" height="1.6" fill="#9aac4c" opacity="0.7"/>
<rect x="0" y="119.0" width="162" height="1.6" fill="#9aac4c" opacity="0.7"/>
<rect x="0" y="123.4" width="162" height="1.6" fill="#9aac4c" opacity="0.7"/>
<rect x="0" y="127.8" width="162" height="1.6" fill="#9aac4c" opacity="0.7"/>
<rect x="0" y="132.2" width="162" height="1.6" fill="#9aac4c" opacity="0.7"/>
<rect x="0" y="136.6" width="162" height="1.6" fill="#9aac4c" opacity="0.7"/>
<rect x="0" y="141.0" width="162" height="1.6" fill="#9aac4c" opacity="0.7"/>
<rect x="0" y="145.4" width="162" height="1.6" fill="#9aac4c" opacity="0.7"/>
<rect x="0" y="149.8" width="162" height="1.6" fill="#9aac4c" opacity="0.7"/>
<rect x="0" y="154.2" width="162" height="1.6" fill="#9aac4c" opacity="0.7"/>
<rect x="125.3" y="134.1" width="1.8" height="1.2" fill="#d8d890" opacity="0.6"/>
<rect x="54.1" y="138.1" width="1.8" height="1.2" fill="#c8cc70" opacity="0.6"/>
<rect x="38.5" y="109.3" width="1.8" height="1.2" fill="#8a9a40" opacity="0.6"/>
<rect x="122.3" y="149.9" width="1.8" height="1.2" fill="#c8cc70" opacity="0.6"/>
<rect x="25.0" y="107.0" width="1.8" height="1.2" fill="#d8d890" opacity="0.6"/>
<rect x="117.2" y="135.6" width="1.8" height="1.2" fill="#8a9a40" opacity="0.6"/>
<rect x="26.1" y="118.0" width="1.8" height="1.2" fill="#d8d890" opacity="0.6"/>
<rect x="41.9" y="158.1" width="1.8" height="1.2" fill="#d8d890" opacity="0.6"/>
<rect x="26.7" y="139.1" width="1.8" height="1.2" fill="#d8d890" opacity="0.6"/>
<rect x="62.2" y="160.0" width="1.8" height="1.2" fill="#8a9a40" opacity="0.6"/>
<rect x="118.8" y="124.8" width="1.8" height="1.2" fill="#d8d890" opacity="0.6"/>
<rect x="17.7" y="155.3" width="1.8" height="1.2" fill="#8a9a40" opacity="0.6"/>
<rect x="33.4" y="121.9" width="1.8" height="1.2" fill="#d8d890" opacity="0.6"/>
<rect x="2.0" y="151.7" width="1.8" height="1.2" fill="#8a9a40" opacity="0.6"/>
<rect x="112.3" y="129.0" width="1.8" height="1.2" fill="#c8cc70" opacity="0.6"/>
<rect x="48.0" y="98.4" width="1.8" height="1.2" fill="#8a9a40" opacity="0.6"/>
<rect x="97.8" y="122.9" width="1.8" height="1.2" fill="#c8cc70" opacity="0.6"/>
<rect x="39.3" y="151.6" width="1.8" height="1.2" fill="#c8cc70" opacity="0.6"/>
<rect x="93.0" y="144.9" width="1.8" height="1.2" fill="#8a9a40" opacity="0.6"/>
<rect x="137.1" y="139.7" width="1.8" height="1.2" fill="#c8cc70" opacity="0.6"/>
<rect x="142.6" y="146.5" width="1.8" height="1.2" fill="#c8cc70" opacity="0.6"/>
<rect x="94.6" y="111.6" width="1.8" height="1.2" fill="#d8d890" opacity="0.6"/>
<rect x="103.9" y="126.0" width="1.8" height="1.2" fill="#8a9a40" opacity="0.6"/>
<rect x="42.1" y="141.8" width="1.8" height="1.2" fill="#8a9a40" opacity="0.6"/>
<rect x="39.3" y="122.6" width="1.8" height="1.2" fill="#c8cc70" opacity="0.6"/>
<rect x="102.0" y="113.0" width="1.8" height="1.2" fill="#8a9a40" opacity="0.6"/>
<rect x="78.2" y="98.3" width="1.8" height="1.2" fill="#8a9a40" opacity="0.6"/>
<rect x="84.0" y="139.3" width="1.8" height="1.2" fill="#d8d890" opacity="0.6"/>
<rect x="144.9" y="118.0" width="1.8" height="1.2" fill="#d8d890" opacity="0.6"/>
<rect x="63.0" y="128.3" width="1.8" height="1.2" fill="#d8d890" opacity="0.6"/>
<rect x="6.2" y="131.8" width="1.8" height="1.2" fill="#d8d890" opacity="0.6"/>
<rect x="116.0" y="157.9" width="1.8" height="1.2" fill="#d8d890" opacity="0.6"/>
<rect x="84.1" y="103.5" width="1.8" height="1.2" fill="#c8cc70" opacity="0.6"/>
<rect x="74.0" y="110.1" width="1.8" height="1.2" fill="#8a9a40" opacity="0.6"/>
<rect x="83.0" y="137.9" width="1.8" height="1.2" fill="#8a9a40" opacity="0.6"/>
<rect x="84.5" y="123.3" width="1.8" height="1.2" fill="#8a9a40" opacity="0.6"/>
<rect x="34.0" y="140.8" width="1.8" height="1.2" fill="#8a9a40" opacity="0.6"/>
<rect x="83.2" y="156.7" width="1.8" height="1.2" fill="#c8cc70" opacity="0.6"/>
<rect x="159.5" y="119.8" width="1.8" height="1.2" fill="#d8d890" opacity="0.6"/>
<rect x="40.9" y="121.4" width="1.8" height="1.2" fill="#d8d890" opacity="0.6"/>
<rect x="2.2" y="123.8" width="1.8" height="1.2" fill="#8a9a40" opacity="0.6"/>
<rect x="101.8" y="140.2" width="1.8" height="1.2" fill="#c8cc70" opacity="0.6"/>
<rect x="43.0" y="111.4" width="1.8" height="1.2" fill="#c8cc70" opacity="0.6"/>
<rect x="64.9" y="158.0" width="1.8" height="1.2" fill="#d8d890" opacity="0.6"/>
<rect x="161.1" y="158.5" width="1.8" height="1.2" fill="#8a9a40" opacity="0.6"/>
<rect x="34.3" y="105.3" width="1.8" height="1.2" fill="#d8d890" opacity="0.6"/>
<rect x="131.2" y="137.6" width="1.8" height="1.2" fill="#8a9a40" opacity="0.6"/>
<rect x="104.0" y="143.1" width="1.8" height="1.2" fill="#d8d890" opacity="0.6"/>
<rect x="57.2" y="137.9" width="1.8" height="1.2" fill="#8a9a40" opacity="0.6"/>
<rect x="75.8" y="115.8" width="1.8" height="1.2" fill="#c8cc70" opacity="0.6"/>
<rect x="105.2" y="146.9" width="1.8" height="1.2" fill="#8a9a40" opacity="0.6"/>
<rect x="57.5" y="151.4" width="1.8" height="1.2" fill="#8a9a40" opacity="0.6"/>
<rect x="114.1" y="141.0" width="1.8" height="1.2" fill="#8a9a40" opacity="0.6"/>
<rect x="110.0" y="127.8" width="1.8" height="1.2" fill="#c8cc70" opacity="0.6"/>
<rect x="129.4" y="119.9" width="1.8" height="1.2" fill="#c8cc70" opacity="0.6"/>
<rect x="48.9" y="127.7" width="1.8" height="1.2" fill="#8a9a40" opacity="0.6"/>
<rect x="101.0" y="102.5" width="1.8" height="1.2" fill="#8a9a40" opacity="0.6"/>
<rect x="24.7" y="116.4" width="1.8" height="1.2" fill="#8a9a40" opacity="0.6"/>
<rect x="9.2" y="150.0" width="1.8" height="1.2" fill="#8a9a40" opacity="0.6"/>
<rect x="127.0" y="106.0" width="1.8" height="1.2" fill="#8a9a40" opacity="0.6"/>
<rect x="102.6" y="98.0" width="1.8" height="1.2" fill="#d8d890" opacity="0.6"/>
<rect x="34.0" y="101.6" width="1.8" height="1.2" fill="#8a9a40" opacity="0.6"/>
<rect x="40.5" y="103.5" width="1.8" height="1.2" fill="#d8d890" opacity="0.6"/>
<rect x="138.4" y="108.9" width="1.8" height="1.2" fill="#8a9a40" opacity="0.6"/>
<rect x="56.1" y="106.8" width="1.8" height="1.2" fill="#8a9a40" opacity="0.6"/>
<rect x="128.3" y="107.7" width="1.8" height="1.2" fill="#c8cc70" opacity="0.6"/>
<rect x="98.6" y="147.0" width="1.8" height="1.2" fill="#c8cc70" opacity="0.6"/>
<rect x="146.1" y="132.1" width="1.8" height="1.2" fill="#c8cc70" opacity="0.6"/>
<rect x="135.9" y="109.6" width="1.8" height="1.2" fill="#c8cc70" opacity="0.6"/>
<rect x="34.5" y="102.0" width="1.8" height="1.2" fill="#8a9a40" opacity="0.6"/>
<rect x="108.7" y="104.5" width="1.8" height="1.2" fill="#d8d890" opacity="0.6"/>
<rect x="42.8" y="112.0" width="1.8" height="1.2" fill="#d8d890" opacity="0.6"/>
<rect x="76.7" y="132.7" width="1.8" height="1.2" fill="#8a9a40" opacity="0.6"/>
<rect x="75.7" y="106.2" width="1.8" height="1.2" fill="#8a9a40" opacity="0.6"/>
<rect x="39.9" y="107.5" width="1.8" height="1.2" fill="#c8cc70" opacity="0.6"/>
<rect x="139.8" y="97.4" width="1.8" height="1.2" fill="#8a9a40" opacity="0.6"/>
<rect x="75.8" y="133.0" width="1.8" height="1.2" fill="#c8cc70" opacity="0.6"/>
<rect x="48.1" y="126.8" width="1.8" height="1.2" fill="#8a9a40" opacity="0.6"/>
<rect x="67.8" y="158.5" width="1.8" height="1.2" fill="#d8d890" opacity="0.6"/>
<rect x="29.2" y="120.1" width="1.8" height="1.2" fill="#c8cc70" opacity="0.6"/>
<rect x="4.6" y="136.0" width="1.8" height="1.2" fill="#c8cc70" opacity="0.6"/>
<rect x="119.3" y="160.9" width="1.8" height="1.2" fill="#d8d890" opacity="0.6"/>
<rect x="82.7" y="128.0" width="1.8" height="1.2" fill="#d8d890" opacity="0.6"/>
<rect x="5.5" y="143.0" width="1.8" height="1.2" fill="#c8cc70" opacity="0.6"/>
<rect x="20.6" y="103.0" width="1.8" height="1.2" fill="#c8cc70" opacity="0.6"/>
<rect x="59.3" y="127.4" width="1.8" height="1.2" fill="#c8cc70" opacity="0.6"/>
<rect x="89.8" y="155.4" width="1.8" height="1.2" fill="#8a9a40" opacity="0.6"/>
<rect x="70.5" y="124.0" width="1.8" height="1.2" fill="#c8cc70" opacity="0.6"/>
<rect x="8.5" y="115.5" width="1.8" height="1.2" fill="#8a9a40" opacity="0.6"/>
<rect x="134.1" y="122.8" width="1.8" height="1.2" fill="#c8cc70" opacity="0.6"/>
<rect x="159.5" y="152.9" width="1.8" height="1.2" fill="#8a9a40" opacity="0.6"/>
<rect x="157.9" y="138.9" width="1.8" height="1.2" fill="#d8d890" opacity="0.6"/>
<rect x="53.6" y="117.3" width="1.8" height="1.2" fill="#8a9a40" opacity="0.6"/>
<rect x="20.7" y="159.3" width="1.8" height="1.2" fill="#d8d890" opacity="0.6"/>
<rect x="127.0" y="99.6" width="1.8" height="1.2" fill="#c8cc70" opacity="0.6"/>
<rect x="89.8" y="123.0" width="1.8" height="1.2" fill="#c8cc70" opacity="0.6"/>
<rect x="8.1" y="116.2" width="1.8" height="1.2" fill="#d8d890" opacity="0.6"/>
<rect x="7.5" y="149.6" width="1.8" height="1.2" fill="#8a9a40" opacity="0.6"/>
<rect x="98.6" y="139.1" width="1.8" height="1.2" fill="#c8cc70" opacity="0.6"/>
<rect x="147.4" y="136.2" width="1.8" height="1.2" fill="#c8cc70" opacity="0.6"/>
<rect x="23.8" y="140.1" width="1.8" height="1.2" fill="#c8cc70" opacity="0.6"/>
<rect x="96.6" y="140.6" width="1.8" height="1.2" fill="#d8d890" opacity="0.6"/>
<rect x="6.4" y="137.5" width="1.8" height="1.2" fill="#c8cc70" opacity="0.6"/>
<rect x="123.6" y="103.5" width="1.8" height="1.2" fill="#d8d890" opacity="0.6"/>
<rect x="140.8" y="124.0" width="1.8" height="1.2" fill="#d8d890" opacity="0.6"/>
<rect x="148.1" y="139.0" width="1.8" height="1.2" fill="#8a9a40" opacity="0.6"/>
<rect x="141.3" y="105.9" width="1.8" height="1.2" fill="#8a9a40" opacity="0.6"/>
<rect x="91.1" y="113.5" width="1.8" height="1.2" fill="#8a9a40" opacity="0.6"/>
<rect x="29.9" y="99.2" width="1.8" height="1.2" fill="#d8d890" opacity="0.6"/>
<rect x="69.8" y="138.1" width="1.8" height="1.2" fill="#d8d890" opacity="0.6"/>
<rect x="80.6" y="130.4" width="1.8" height="1.2" fill="#d8d890" opacity="0.6"/>
<rect x="125.4" y="123.9" width="1.8" height="1.2" fill="#c8cc70" opacity="0.6"/>
<rect x="148.8" y="125.6" width="1.8" height="1.2" fill="#d8d890" opacity="0.6"/>
<rect x="110.2" y="135.0" width="1.8" height="1.2" fill="#c8cc70" opacity="0.6"/>
<rect x="158.9" y="127.4" width="1.8" height="1.2" fill="#8a9a40" opacity="0.6"/>
<rect x="88.9" y="102.3" width="1.8" height="1.2" fill="#8a9a40" opacity="0.6"/>
<rect x="34.4" y="106.7" width="1.8" height="1.2" fill="#d8d890" opacity="0.6"/>
<rect x="69.2" y="97.6" width="1.8" height="1.2" fill="#c8cc70" opacity="0.6"/>
<rect x="19.7" y="158.8" width="1.8" height="1.2" fill="#d8d890" opacity="0.6"/>
<rect x="35.4" y="104.8" width="1.8" height="1.2" fill="#8a9a40" opacity="0.6"/>
<rect x="2.9" y="143.0" width="1.8" height="1.2" fill="#d8d890" opacity="0.6"/>
<rect x="73.0" y="144.6" width="1.8" height="1.2" fill="#d8d890" opacity="0.6"/>
<rect x="59.3" y="144.8" width="1.8" height="1.2" fill="#c8cc70" opacity="0.6"/>
<rect x="138.6" y="143.7" width="1.8" height="1.2" fill="#d8d890" opacity="0.6"/>
<rect x="47.5" y="132.7" width="1.8" height="1.2" fill="#8a9a40" opacity="0.6"/>
<rect x="74.6" y="156.7" width="1.8" height="1.2" fill="#8a9a40" opacity="0.6"/>
<rect x="148.0" y="100.4" width="1.8" height="1.2" fill="#d8d890" opacity="0.6"/>
<rect x="1.8" y="97.9" width="1.8" height="1.2" fill="#c8cc70" opacity="0.6"/>
<rect x="111.2" y="136.6" width="1.8" height="1.2" fill="#8a9a40" opacity="0.6"/>
<rect x="50.4" y="143.7" width="1.8" height="1.2" fill="#d8d890" opacity="0.6"/>
<rect x="155.1" y="150.4" width="1.8" height="1.2" fill="#c8cc70" opacity="0.6"/>
<rect x="9.7" y="120.5" width="1.8" height="1.2" fill="#c8cc70" opacity="0.6"/>
<rect x="117.9" y="127.1" width="1.8" height="1.2" fill="#d8d890" opacity="0.6"/>
<rect x="23.5" y="148.0" width="1.8" height="1.2" fill="#8a9a40" opacity="0.6"/>
<rect x="154.5" y="107.5" width="1.8" height="1.2" fill="#8a9a40" opacity="0.6"/>
<rect x="77.3" y="146.8" width="1.8" height="1.2" fill="#8a9a40" opacity="0.6"/>
<rect x="153.1" y="147.2" width="1.8" height="1.2" fill="#c8cc70" opacity="0.6"/>
<rect x="54.1" y="114.9" width="1.8" height="1.2" fill="#c8cc70" opacity="0.6"/>
<rect x="157.8" y="142.0" width="1.8" height="1.2" fill="#c8cc70" opacity="0.6"/>
<rect x="53.8" y="135.8" width="1.8" height="1.2" fill="#d8d890" opacity="0.6"/>
<rect x="134.7" y="135.5" width="1.8" height="1.2" fill="#8a9a40" opacity="0.6"/>
<rect x="94.7" y="159.5" width="1.8" height="1.2" fill="#d8d890" opacity="0.6"/>
<rect x="61.0" y="140.8" width="1.8" height="1.2" fill="#c8cc70" opacity="0.6"/>
<rect x="125.0" y="112.0" width="1.8" height="1.2" fill="#8a9a40" opacity="0.6"/>
<rect x="45.9" y="97.1" width="1.8" height="1.2" fill="#8a9a40" opacity="0.6"/>
<rect x="43.4" y="107.1" width="1.8" height="1.2" fill="#d8d890" opacity="0.6"/>
<rect x="46.7" y="106.0" width="1.8" height="1.2" fill="#c8cc70" opacity="0.6"/>
<rect x="23.8" y="159.4" width="1.8" height="1.2" fill="#c8cc70" opacity="0.6"/>
<rect x="110.9" y="155.5" width="1.8" height="1.2" fill="#8a9a40" opacity="0.6"/>
<rect x="86.6" y="131.6" width="1.8" height="1.2" fill="#8a9a40" opacity="0.6"/>
<rect x="129.2" y="109.8" width="1.8" height="1.2" fill="#c8cc70" opacity="0.6"/>
<rect x="150.9" y="112.0" width="1.8" height="1.2" fill="#c8cc70" opacity="0.6"/>
<rect x="9.3" y="122.3" width="1.8" height="1.2" fill="#c8cc70" opacity="0.6"/>
<rect x="33.5" y="113.3" width="1.8" height="1.2" fill="#d8d890" opacity="0.6"/>
<rect x="128.2" y="126.4" width="1.8" height="1.2" fill="#d8d890" opacity="0.6"/>
<rect x="86.9" y="119.7" width="1.8" height="1.2" fill="#d8d890" opacity="0.6"/>
<rect x="37.7" y="134.1" width="1.8" height="1.2" fill="#8a9a40" opacity="0.6"/>
<rect x="143.4" y="130.4" width="1.8" height="1.2" fill="#8a9a40" opacity="0.6"/>
<rect x="82.0" y="109.9" width="1.8" height="1.2" fill="#d8d890" opacity="0.6"/>
<rect x="31.2" y="108.6" width="1.8" height="1.2" fill="#c8cc70" opacity="0.6"/>
<rect x="46.9" y="134.0" width="1.8" height="1.2" fill="#8a9a40" opacity="0.6"/>
<rect x="65.2" y="130.1" width="1.8" height="1.2" fill="#d8d890" opacity="0.6"/>
<rect x="39.9" y="156.0" width="1.8" height="1.2" fill="#8a9a40" opacity="0.6"/>
<rect x="60.6" y="103.8" width="1.8" height="1.2" fill="#c8cc70" opacity="0.6"/>
<rect x="75.1" y="102.2" width="1.8" height="1.2" fill="#8a9a40" opacity="0.6"/>
<rect x="96.7" y="119.1" width="1.8" height="1.2" fill="#c8cc70" opacity="0.6"/>
<rect x="98.4" y="103.0" width="1.8" height="1.2" fill="#d8d890" opacity="0.6"/>
<rect x="160.4" y="152.4" width="1.8" height="1.2" fill="#8a9a40" opacity="0.6"/>
<rect x="95.0" y="110.7" width="1.8" height="1.2" fill="#8a9a40" opacity="0.6"/>
<rect x="69.0" y="157.6" width="1.8" height="1.2" fill="#c8cc70" opacity="0.6"/>
<rect x="132.7" y="158.7" width="1.8" height="1.2" fill="#8a9a40" opacity="0.6"/>
<rect x="136.7" y="118.7" width="1.8" height="1.2" fill="#d8d890" opacity="0.6"/>
<rect x="61.3" y="98.8" width="1.8" height="1.2" fill="#d8d890" opacity="0.6"/>
<rect x="90.3" y="152.7" width="1.8" height="1.2" fill="#8a9a40" opacity="0.6"/>
<rect x="78.9" y="151.1" width="1.8" height="1.2" fill="#d8d890" opacity="0.6"/>
<rect x="139.8" y="137.9" width="1.8" height="1.2" fill="#d8d890" opacity="0.6"/>
<rect x="114.4" y="102.8" width="1.8" height="1.2" fill="#8a9a40" opacity="0.6"/>
<rect x="91.4" y="138.0" width="1.8" height="1.2" fill="#c8cc70" opacity="0.6"/>
<rect x="82.1" y="108.7" width="1.8" height="1.2" fill="#d8d890" opacity="0.6"/>
<rect x="60.1" y="112.0" width="1.8" height="1.2" fill="#c8cc70" opacity="0.6"/>
<rect x="35.9" y="99.5" width="1.8" height="1.2" fill="#8a9a40" opacity="0.6"/>
<rect x="152.5" y="100.8" width="1.8" height="1.2" fill="#c8cc70" opacity="0.6"/>
<rect x="146.5" y="150.6" width="1.8" height="1.2" fill="#d8d890" opacity="0.6"/>
<rect x="41.8" y="129.9" width="1.8" height="1.2" fill="#c8cc70" opacity="0.6"/>
<rect x="104.8" y="160.1" width="1.8" height="1.2" fill="#d8d890" opacity="0.6"/>
<rect x="16.4" y="117.3" width="1.8" height="1.2" fill="#d8d890" opacity="0.6"/>
<rect x="152.2" y="140.3" width="1.8" height="1.2" fill="#8a9a40" opacity="0.6"/>
<rect x="95.5" y="125.2" width="1.8" height="1.2" fill="#c8cc70" opacity="0.6"/>
<rect x="17.1" y="117.7" width="1.8" height="1.2" fill="#8a9a40" opacity="0.6"/>
<rect x="63.2" y="121.0" width="1.8" height="1.2" fill="#8a9a40" opacity="0.6"/>
<rect x="27.3" y="112.3" width="1.8" height="1.2" fill="#d8d890" opacity="0.6"/>
<rect x="148.1" y="154.1" width="1.8" height="1.2" fill="#8a9a40" opacity="0.6"/>
<rect x="116.2" y="109.5" width="1.8" height="1.2" fill="#d8d890" opacity="0.6"/>
<rect x="25.4" y="150.3" width="1.8" height="1.2" fill="#d8d890" opacity="0.6"/>
<rect x="151.3" y="152.5" width="1.8" height="1.2" fill="#c8cc70" opacity="0.6"/>
<rect x="22.6" y="125.6" width="1.8" height="1.2" fill="#d8d890" opacity="0.6"/>
<rect x="150.0" y="121.6" width="1.8" height="1.2" fill="#d8d890" opacity="0.6"/>
<rect x="101.8" y="125.9" width="1.8" height="1.2" fill="#8a9a40" opacity="0.6"/>
<rect x="52.3" y="112.0" width="1.8" height="1.2" fill="#d8d890" opacity="0.6"/>
<rect x="101.8" y="106.1" width="1.8" height="1.2" fill="#d8d890" opacity="0.6"/>
<rect x="119.2" y="108.5" width="1.8" height="1.2" fill="#8a9a40" opacity="0.6"/>
<rect x="89.6" y="106.3" width="1.8" height="1.2" fill="#d8d890" opacity="0.6"/>
<rect x="43.2" y="123.4" width="1.8" height="1.2" fill="#d8d890" opacity="0.6"/>
<rect x="4.1" y="133.5" width="1.8" height="1.2" fill="#8a9a40" opacity="0.6"/>
<rect x="54.2" y="107.7" width="1.8" height="1.2" fill="#8a9a40" opacity="0.6"/>
<rect x="17.7" y="126.2" width="1.8" height="1.2" fill="#8a9a40" opacity="0.6"/>
<rect x="18.5" y="159.6" width="1.8" height="1.2" fill="#d8d890" opacity="0.6"/>
<rect x="102.2" y="147.4" width="1.8" height="1.2" fill="#d8d890" opacity="0.6"/>
<rect x="90.7" y="150.5" width="1.8" height="1.2" fill="#d8d890" opacity="0.6"/>
<rect x="41.8" y="109.9" width="1.8" height="1.2" fill="#8a9a40" opacity="0.6"/>
<rect x="70.0" y="113.7" width="1.8" height="1.2" fill="#d8d890" opacity="0.6"/>
<rect x="149.9" y="103.2" width="1.8" height="1.2" fill="#8a9a40" opacity="0.6"/>
<rect x="67.3" y="107.4" width="1.8" height="1.2" fill="#c8cc70" opacity="0.6"/>
<rect x="158.5" y="106.2" width="1.8" height="1.2" fill="#c8cc70" opacity="0.6"/>
<rect x="2.6" y="148.6" width="1.8" height="1.2" fill="#8a9a40" opacity="0.6"/>
<rect x="82.7" y="125.4" width="1.8" height="1.2" fill="#c8cc70" opacity="0.6"/>
<rect x="46.4" y="120.0" width="1.8" height="1.2" fill="#d8d890" opacity="0.6"/>
<rect x="147.7" y="111.0" width="1.8" height="1.2" fill="#c8cc70" opacity="0.6"/>
<rect x="29.3" y="151.0" width="1.8" height="1.2" fill="#c8cc70" opacity="0.6"/>
<rect x="124.8" y="142.5" width="1.8" height="1.2" fill="#d8d890" opacity="0.6"/>
<rect x="97.3" y="150.1" width="1.8" height="1.2" fill="#c8cc70" opacity="0.6"/>
<rect x="118.4" y="145.7" width="1.8" height="1.2" fill="#d8d890" opacity="0.6"/>
<rect x="33.4" y="136.2" width="1.8" height="1.2" fill="#c8cc70" opacity="0.6"/>
<rect x="101.8" y="109.3" width="1.8" height="1.2" fill="#8a9a40" opacity="0.6"/>
<rect x="32.8" y="101.2" width="1.8" height="1.2" fill="#c8cc70" opacity="0.6"/>
<rect x="84.2" y="150.8" width="1.8" height="1.2" fill="#d8d890" opacity="0.6"/>
<rect x="84.0" y="119.2" width="1.8" height="1.2" fill="#8a9a40" opacity="0.6"/>
<rect x="136.4" y="152.3" width="1.8" height="1.2" fill="#8a9a40" opacity="0.6"/>
<rect x="14.6" y="123.2" width="1.8" height="1.2" fill="#8a9a40" opacity="0.6"/>
<rect x="21.6" y="139.6" width="1.8" height="1.2" fill="#d8d890" opacity="0.6"/>
<rect x="30.1" y="150.2" width="1.8" height="1.2" fill="#8a9a40" opacity="0.6"/>
<rect x="5.9" y="141.9" width="1.8" height="1.2" fill="#c8cc70" opacity="0.6"/>
<rect x="96.4" y="97.3" width="1.8" height="1.2" fill="#c8cc70" opacity="0.6"/>
<rect x="151.0" y="159.0" width="1.8" height="1.2" fill="#d8d890" opacity="0.6"/>
<rect x="19.6" y="142.7" width="1.8" height="1.2" fill="#8a9a40" opacity="0.6"/>
<rect x="126.2" y="152.6" width="1.8" height="1.2" fill="#c8cc70" opacity="0.6"/>
<rect x="121.7" y="100.9" width="1.8" height="1.2" fill="#d8d890" opacity="0.6"/>
<rect x="154.6" y="128.7" width="1.8" height="1.2" fill="#c8cc70" opacity="0.6"/>
<rect x="4.2" y="148.5" width="1.8" height="1.2" fill="#d8d890" opacity="0.6"/>
<rect x="3.4" y="158.9" width="1.8" height="1.2" fill="#d8d890" opacity="0.6"/>
</g><use href="#station" transform="translate(2,-1)"/>
<rect x="2" y="2" width="158" height="157" rx="10" fill="none" stroke="#1466b4" stroke-width="4"/></g>
<g transform="translate(77,649)"><g clip-path="url(#pclip)">
<rect x="0" y="0" width="162" height="161" fill="url(#sky3)"/>
<rect x="0" y="28" width="162" height="133" fill="url(#wheat3)"/>
<path d="M0 28.2 H162 V29.2 H0 Z" fill="#a89060" opacity="0.6"/>
<path d="M101 26.5 h22 v2.5 h-22z" fill="#777" opacity="0.55"/><path d="M22 27.6 h30 v1 h-30z" fill="#999" opacity="0.5"/>
<path d="M49 58 Q40 80 28 98 Q16 118 2 140 L0 146 L0 161 L10 161 Q18 136 28 116 Q40 94 48 76 Q52 66 53 58 Z" fill="#4a2c0c" opacity="0.6"/>
<path d="M90 66 Q100 80 107 94 Q113 104 117 113 L123 113 Q118 100 112 90 Q103 76 95 66 Z" fill="#4a2c0c" opacity="0.55"/>
<line x1="100.3" y1="52.0" x2="99.8" y2="50.2" stroke="#dcb870" stroke-width="0.7" opacity="0.40"/>
<line x1="132.4" y1="33.9" x2="133.0" y2="32.6" stroke="#ecd498" stroke-width="0.5" opacity="0.36"/>
<line x1="119.7" y1="64.2" x2="120.0" y2="62.1" stroke="#7a5420" stroke-width="0.7" opacity="0.43"/>
<line x1="75.2" y1="61.2" x2="74.2" y2="59.2" stroke="#f4e4b8" stroke-width="0.7" opacity="0.42"/>
<line x1="140.9" y1="123.9" x2="139.9" y2="120.2" stroke="#ecd498" stroke-width="1.1" opacity="0.57"/>
<line x1="75.3" y1="106.8" x2="73.8" y2="103.5" stroke="#dcb870" stroke-width="1.0" opacity="0.53"/>
<line x1="19.7" y1="145.9" x2="20.2" y2="141.6" stroke="#7a5420" stroke-width="1.3" opacity="0.62"/>
<line x1="139.5" y1="49.3" x2="139.4" y2="47.6" stroke="#7a5420" stroke-width="0.6" opacity="0.39"/>
<line x1="64.3" y1="154.2" x2="66.6" y2="149.7" stroke="#ecd498" stroke-width="1.4" opacity="0.63"/>
<line x1="63.0" y1="85.1" x2="63.1" y2="82.4" stroke="#7a5420" stroke-width="0.9" opacity="0.48"/>
<line x1="64.1" y1="153.3" x2="63.2" y2="148.8" stroke="#dcb870" stroke-width="1.3" opacity="0.63"/>
<line x1="38.9" y1="73.9" x2="39.9" y2="71.5" stroke="#f4e4b8" stroke-width="0.8" opacity="0.45"/>
<line x1="91.4" y1="159.1" x2="93.2" y2="154.5" stroke="#dcb870" stroke-width="1.4" opacity="0.65"/>
<line x1="137.3" y1="37.0" x2="136.7" y2="35.6" stroke="#7a5420" stroke-width="0.5" opacity="0.37"/>
<line x1="110.2" y1="76.3" x2="110.7" y2="73.9" stroke="#f4e4b8" stroke-width="0.8" opacity="0.46"/>
<line x1="1.9" y1="44.3" x2="1.1" y2="42.7" stroke="#9a7028" stroke-width="0.6" opacity="0.38"/>
<line x1="70.2" y1="96.1" x2="69.2" y2="93.2" stroke="#ecd498" stroke-width="1.0" opacity="0.50"/>
<line x1="68.2" y1="82.0" x2="68.6" y2="79.4" stroke="#f4e4b8" stroke-width="0.9" opacity="0.47"/>
<line x1="131.1" y1="145.9" x2="128.7" y2="141.6" stroke="#ecd498" stroke-width="1.3" opacity="0.62"/>
<line x1="103.9" y1="64.8" x2="104.3" y2="62.7" stroke="#c89848" stroke-width="0.7" opacity="0.43"/>
<line x1="101.8" y1="135.6" x2="102.4" y2="131.6" stroke="#ecd498" stroke-width="1.2" opacity="0.59"/>
<line x1="40.6" y1="98.2" x2="39.6" y2="95.1" stroke="#f4e4b8" stroke-width="1.0" opacity="0.51"/>
<line x1="6.4" y1="44.8" x2="6.7" y2="43.2" stroke="#dcb870" stroke-width="0.6" opacity="0.38"/>
<line x1="19.5" y1="107.9" x2="21.1" y2="104.6" stroke="#7a5420" stroke-width="1.0" opacity="0.53"/>
<line x1="13.7" y1="107.3" x2="13.4" y2="104.1" stroke="#9a7028" stroke-width="1.0" opacity="0.53"/>
<line x1="82.9" y1="146.0" x2="83.3" y2="141.7" stroke="#f4e4b8" stroke-width="1.3" opacity="0.62"/>
<line x1="44.4" y1="126.4" x2="44.6" y2="122.6" stroke="#c89848" stroke-width="1.2" opacity="0.57"/>
<line x1="136.0" y1="109.9" x2="134.9" y2="106.6" stroke="#7a5420" stroke-width="1.0" opacity="0.53"/>
<line x1="62.6" y1="101.9" x2="62.5" y2="98.7" stroke="#dcb870" stroke-width="1.0" opacity="0.51"/>
<line x1="88.8" y1="110.3" x2="90.1" y2="106.9" stroke="#f4e4b8" stroke-width="1.1" opacity="0.53"/>
<line x1="5.0" y1="73.7" x2="5.1" y2="71.3" stroke="#9a7028" stroke-width="0.8" opacity="0.45"/>
<line x1="62.1" y1="106.7" x2="63.7" y2="103.5" stroke="#ecd498" stroke-width="1.0" opacity="0.53"/>
<line x1="26.3" y1="154.7" x2="26.6" y2="150.2" stroke="#dcb870" stroke-width="1.4" opacity="0.64"/>
<line x1="79.6" y1="67.3" x2="79.1" y2="65.1" stroke="#9a7028" stroke-width="0.8" opacity="0.44"/>
<line x1="125.1" y1="50.8" x2="125.3" y2="49.0" stroke="#ecd498" stroke-width="0.6" opacity="0.40"/>
<line x1="56.4" y1="116.2" x2="55.9" y2="112.7" stroke="#7a5420" stroke-width="1.1" opacity="0.55"/>
<line x1="71.3" y1="126.3" x2="71.4" y2="122.6" stroke="#ecd498" stroke-width="1.2" opacity="0.57"/>
<line x1="160.3" y1="118.8" x2="159.9" y2="115.2" stroke="#9a7028" stroke-width="1.1" opacity="0.55"/>
<line x1="108.3" y1="48.4" x2="108.5" y2="46.7" stroke="#9a7028" stroke-width="0.6" opacity="0.39"/>
<line x1="137.7" y1="137.6" x2="135.7" y2="133.5" stroke="#7a5420" stroke-width="1.2" opacity="0.60"/>
<line x1="138.7" y1="150.8" x2="137.5" y2="146.4" stroke="#f4e4b8" stroke-width="1.3" opacity="0.63"/>
<line x1="102.2" y1="112.8" x2="100.6" y2="109.4" stroke="#c89848" stroke-width="1.1" opacity="0.54"/>
<line x1="141.1" y1="30.6" x2="141.2" y2="29.4" stroke="#7a5420" stroke-width="0.5" opacity="0.35"/>
<line x1="80.7" y1="156.1" x2="78.7" y2="151.5" stroke="#7a5420" stroke-width="1.4" opacity="0.64"/>
<line x1="137.7" y1="66.6" x2="138.0" y2="64.4" stroke="#7a5420" stroke-width="0.8" opacity="0.43"/>
<line x1="61.5" y1="89.2" x2="60.8" y2="86.5" stroke="#f4e4b8" stroke-width="0.9" opacity="0.49"/>
<line x1="57.1" y1="76.2" x2="57.3" y2="73.8" stroke="#7a5420" stroke-width="0.8" opacity="0.46"/>
<line x1="62.3" y1="72.2" x2="63.3" y2="69.9" stroke="#c89848" stroke-width="0.8" opacity="0.45"/>
<line x1="80.9" y1="88.2" x2="81.0" y2="85.4" stroke="#9a7028" stroke-width="0.9" opacity="0.48"/>
<line x1="130.1" y1="87.1" x2="130.3" y2="84.3" stroke="#f4e4b8" stroke-width="0.9" opacity="0.48"/>
<line x1="14.2" y1="150.5" x2="16.7" y2="146.1" stroke="#dcb870" stroke-width="1.3" opacity="0.63"/>
<line x1="98.5" y1="61.8" x2="97.8" y2="59.7" stroke="#dcb870" stroke-width="0.7" opacity="0.42"/>
<line x1="69.1" y1="149.3" x2="66.6" y2="144.9" stroke="#ecd498" stroke-width="1.3" opacity="0.62"/>
<line x1="41.6" y1="147.4" x2="43.7" y2="143.0" stroke="#dcb870" stroke-width="1.3" opacity="0.62"/>
<line x1="125.3" y1="100.5" x2="125.4" y2="97.5" stroke="#f4e4b8" stroke-width="1.0" opacity="0.51"/>
<line x1="83.8" y1="119.8" x2="83.6" y2="116.2" stroke="#f4e4b8" stroke-width="1.1" opacity="0.56"/>
<line x1="6.6" y1="118.6" x2="8.5" y2="115.0" stroke="#f4e4b8" stroke-width="1.1" opacity="0.55"/>
<line x1="109.6" y1="98.8" x2="109.3" y2="95.8" stroke="#ecd498" stroke-width="1.0" opacity="0.51"/>
<line x1="81.1" y1="115.0" x2="79.7" y2="111.5" stroke="#7a5420" stroke-width="1.1" opacity="0.54"/>
<line x1="30.5" y1="85.2" x2="30.3" y2="82.5" stroke="#f4e4b8" stroke-width="0.9" opacity="0.48"/>
<line x1="101.2" y1="160.5" x2="102.3" y2="155.8" stroke="#dcb870" stroke-width="1.4" opacity="0.65"/>
<line x1="120.9" y1="42.1" x2="120.6" y2="40.6" stroke="#dcb870" stroke-width="0.6" opacity="0.38"/>
<line x1="158.5" y1="138.2" x2="156.9" y2="134.1" stroke="#7a5420" stroke-width="1.2" opacity="0.60"/>
<line x1="106.3" y1="68.6" x2="107.1" y2="66.4" stroke="#dcb870" stroke-width="0.8" opacity="0.44"/>
<line x1="160.4" y1="146.3" x2="161.1" y2="142.0" stroke="#f4e4b8" stroke-width="1.3" opacity="0.62"/>
<line x1="84.9" y1="136.9" x2="84.9" y2="132.9" stroke="#9a7028" stroke-width="1.2" opacity="0.59"/>
<line x1="30.5" y1="53.9" x2="30.6" y2="52.1" stroke="#c89848" stroke-width="0.7" opacity="0.40"/>
<line x1="17.3" y1="104.7" x2="17.8" y2="101.5" stroke="#c89848" stroke-width="1.0" opacity="0.52"/>
<line x1="6.9" y1="83.9" x2="6.2" y2="81.3" stroke="#ecd498" stroke-width="0.9" opacity="0.47"/>
<line x1="111.9" y1="30.5" x2="111.7" y2="29.3" stroke="#dcb870" stroke-width="0.5" opacity="0.35"/>
<line x1="16.0" y1="32.0" x2="15.5" y2="30.8" stroke="#ecd498" stroke-width="0.5" opacity="0.35"/>
<line x1="80.7" y1="102.5" x2="82.1" y2="99.3" stroke="#dcb870" stroke-width="1.0" opacity="0.52"/>
<line x1="145.1" y1="97.4" x2="145.3" y2="94.4" stroke="#9a7028" stroke-width="1.0" opacity="0.50"/>
<line x1="66.6" y1="45.9" x2="66.6" y2="44.3" stroke="#9a7028" stroke-width="0.6" opacity="0.39"/>
<line x1="82.5" y1="33.8" x2="82.0" y2="32.5" stroke="#ecd498" stroke-width="0.5" opacity="0.36"/>
<line x1="84.6" y1="137.8" x2="84.3" y2="133.8" stroke="#7a5420" stroke-width="1.2" opacity="0.60"/>
<line x1="129.6" y1="115.2" x2="130.8" y2="111.7" stroke="#c89848" stroke-width="1.1" opacity="0.55"/>
<line x1="52.3" y1="123.7" x2="51.3" y2="120.0" stroke="#dcb870" stroke-width="1.1" opacity="0.56"/>
<line x1="5.3" y1="112.4" x2="3.5" y2="109.0" stroke="#7a5420" stroke-width="1.1" opacity="0.54"/>
<line x1="31.0" y1="111.7" x2="29.2" y2="108.4" stroke="#ecd498" stroke-width="1.1" opacity="0.54"/>
<line x1="144.3" y1="106.3" x2="144.0" y2="103.1" stroke="#ecd498" stroke-width="1.0" opacity="0.52"/>
<line x1="100.5" y1="62.7" x2="99.6" y2="60.6" stroke="#ecd498" stroke-width="0.7" opacity="0.42"/>
<line x1="95.1" y1="52.7" x2="96.0" y2="50.9" stroke="#ecd498" stroke-width="0.7" opacity="0.40"/>
<line x1="132.2" y1="69.8" x2="131.5" y2="67.5" stroke="#7a5420" stroke-width="0.8" opacity="0.44"/>
<line x1="143.7" y1="158.3" x2="142.2" y2="153.7" stroke="#ecd498" stroke-width="1.4" opacity="0.64"/>
<line x1="63.1" y1="124.1" x2="62.8" y2="120.4" stroke="#9a7028" stroke-width="1.1" opacity="0.57"/>
<line x1="64.6" y1="123.2" x2="65.9" y2="119.6" stroke="#ecd498" stroke-width="1.1" opacity="0.56"/>
<line x1="39.4" y1="52.7" x2="39.2" y2="50.9" stroke="#dcb870" stroke-width="0.7" opacity="0.40"/>
<line x1="1.2" y1="145.6" x2="1.6" y2="141.3" stroke="#f4e4b8" stroke-width="1.3" opacity="0.61"/>
<line x1="18.6" y1="99.9" x2="18.0" y2="96.9" stroke="#f4e4b8" stroke-width="1.0" opacity="0.51"/>
<line x1="105.5" y1="155.9" x2="107.3" y2="151.4" stroke="#f4e4b8" stroke-width="1.4" opacity="0.64"/>
<line x1="56.9" y1="62.1" x2="56.8" y2="60.0" stroke="#9a7028" stroke-width="0.7" opacity="0.42"/>
<line x1="55.8" y1="87.1" x2="56.3" y2="84.3" stroke="#dcb870" stroke-width="0.9" opacity="0.48"/>
<line x1="55.3" y1="50.4" x2="54.5" y2="48.7" stroke="#c89848" stroke-width="0.6" opacity="0.40"/>
<line x1="31.8" y1="101.4" x2="32.0" y2="98.3" stroke="#9a7028" stroke-width="1.0" opacity="0.51"/>
<line x1="75.7" y1="134.1" x2="74.0" y2="130.2" stroke="#9a7028" stroke-width="1.2" opacity="0.59"/>
<line x1="57.2" y1="124.6" x2="57.8" y2="120.9" stroke="#f4e4b8" stroke-width="1.2" opacity="0.57"/>
<line x1="94.1" y1="68.9" x2="94.1" y2="66.7" stroke="#f4e4b8" stroke-width="0.8" opacity="0.44"/>
<line x1="36.8" y1="89.3" x2="38.3" y2="86.5" stroke="#9a7028" stroke-width="0.9" opacity="0.49"/>
<line x1="161.7" y1="108.1" x2="162.0" y2="104.8" stroke="#f4e4b8" stroke-width="1.0" opacity="0.53"/>
<line x1="59.6" y1="62.3" x2="59.6" y2="60.2" stroke="#7a5420" stroke-width="0.7" opacity="0.42"/>
<line x1="20.3" y1="128.3" x2="20.4" y2="124.5" stroke="#c89848" stroke-width="1.2" opacity="0.58"/>
<line x1="87.9" y1="65.4" x2="86.7" y2="63.3" stroke="#f4e4b8" stroke-width="0.7" opacity="0.43"/>
<line x1="116.4" y1="49.0" x2="116.1" y2="47.3" stroke="#ecd498" stroke-width="0.6" opacity="0.39"/>
<line x1="13.9" y1="53.2" x2="13.5" y2="51.4" stroke="#9a7028" stroke-width="0.7" opacity="0.40"/>
<line x1="107.4" y1="44.3" x2="108.2" y2="42.7" stroke="#7a5420" stroke-width="0.6" opacity="0.38"/>
<line x1="130.4" y1="129.4" x2="128.4" y2="125.5" stroke="#9a7028" stroke-width="1.2" opacity="0.58"/>
<line x1="50.4" y1="59.7" x2="51.2" y2="57.7" stroke="#9a7028" stroke-width="0.7" opacity="0.42"/>
<line x1="64.6" y1="76.6" x2="65.4" y2="74.2" stroke="#f4e4b8" stroke-width="0.8" opacity="0.46"/>
<line x1="143.0" y1="142.8" x2="145.2" y2="138.6" stroke="#9a7028" stroke-width="1.3" opacity="0.61"/>
<line x1="28.6" y1="78.0" x2="29.1" y2="75.5" stroke="#c89848" stroke-width="0.8" opacity="0.46"/>
<line x1="145.3" y1="33.3" x2="145.6" y2="32.0" stroke="#c89848" stroke-width="0.5" opacity="0.36"/>
<line x1="40.2" y1="140.9" x2="42.3" y2="136.8" stroke="#dcb870" stroke-width="1.3" opacity="0.60"/>
<line x1="15.8" y1="68.2" x2="16.9" y2="66.0" stroke="#dcb870" stroke-width="0.8" opacity="0.44"/>
<line x1="118.9" y1="123.3" x2="118.5" y2="119.7" stroke="#ecd498" stroke-width="1.1" opacity="0.56"/>
<line x1="98.6" y1="86.4" x2="97.5" y2="83.7" stroke="#dcb870" stroke-width="0.9" opacity="0.48"/>
<line x1="119.6" y1="102.4" x2="120.1" y2="99.2" stroke="#c89848" stroke-width="1.0" opacity="0.52"/>
<line x1="29.1" y1="140.0" x2="29.1" y2="135.8" stroke="#7a5420" stroke-width="1.3" opacity="0.60"/>
<line x1="84.4" y1="151.3" x2="85.3" y2="146.8" stroke="#c89848" stroke-width="1.3" opacity="0.63"/>
<line x1="56.5" y1="30.1" x2="56.2" y2="28.9" stroke="#c89848" stroke-width="0.5" opacity="0.35"/>
<line x1="7.0" y1="141.9" x2="7.9" y2="137.7" stroke="#7a5420" stroke-width="1.3" opacity="0.61"/>
<line x1="157.8" y1="119.2" x2="159.1" y2="115.6" stroke="#ecd498" stroke-width="1.1" opacity="0.55"/>
<line x1="34.0" y1="149.8" x2="36.2" y2="145.4" stroke="#c89848" stroke-width="1.3" opacity="0.62"/>
<line x1="67.6" y1="127.5" x2="68.1" y2="123.7" stroke="#c89848" stroke-width="1.2" opacity="0.57"/>
<line x1="35.8" y1="99.1" x2="37.4" y2="96.0" stroke="#dcb870" stroke-width="1.0" opacity="0.51"/>
<line x1="68.7" y1="151.9" x2="68.7" y2="147.4" stroke="#c89848" stroke-width="1.3" opacity="0.63"/>
<line x1="111.5" y1="139.9" x2="111.3" y2="135.8" stroke="#c89848" stroke-width="1.3" opacity="0.60"/>
<line x1="8.8" y1="121.5" x2="9.6" y2="117.8" stroke="#f4e4b8" stroke-width="1.1" opacity="0.56"/>
<line x1="137.1" y1="132.0" x2="138.4" y2="128.0" stroke="#f4e4b8" stroke-width="1.2" opacity="0.58"/>
<line x1="7.1" y1="122.1" x2="6.0" y2="118.4" stroke="#7a5420" stroke-width="1.1" opacity="0.56"/>
<line x1="88.5" y1="157.0" x2="87.1" y2="152.4" stroke="#c89848" stroke-width="1.4" opacity="0.64"/>
<line x1="42.2" y1="156.2" x2="41.4" y2="151.7" stroke="#9a7028" stroke-width="1.4" opacity="0.64"/>
<line x1="66.7" y1="56.4" x2="65.9" y2="54.5" stroke="#dcb870" stroke-width="0.7" opacity="0.41"/>
<line x1="111.2" y1="93.7" x2="110.3" y2="90.8" stroke="#f4e4b8" stroke-width="0.9" opacity="0.50"/>
<line x1="39.2" y1="97.5" x2="37.8" y2="94.5" stroke="#f4e4b8" stroke-width="1.0" opacity="0.50"/>
<line x1="103.8" y1="121.4" x2="105.5" y2="117.8" stroke="#9a7028" stroke-width="1.1" opacity="0.56"/>
<line x1="23.0" y1="103.8" x2="23.5" y2="100.6" stroke="#dcb870" stroke-width="1.0" opacity="0.52"/>
<line x1="19.1" y1="85.6" x2="19.7" y2="82.9" stroke="#9a7028" stroke-width="0.9" opacity="0.48"/>
<line x1="25.1" y1="158.3" x2="26.9" y2="153.7" stroke="#f4e4b8" stroke-width="1.4" opacity="0.64"/>
<line x1="18.5" y1="67.9" x2="18.5" y2="65.7" stroke="#dcb870" stroke-width="0.8" opacity="0.44"/>
<line x1="7.0" y1="147.4" x2="5.5" y2="143.0" stroke="#dcb870" stroke-width="1.3" opacity="0.62"/>
<line x1="113.7" y1="88.7" x2="112.5" y2="85.9" stroke="#ecd498" stroke-width="0.9" opacity="0.48"/>
<line x1="72.1" y1="104.6" x2="70.8" y2="101.4" stroke="#dcb870" stroke-width="1.0" opacity="0.52"/>
<line x1="11.6" y1="31.4" x2="11.0" y2="30.2" stroke="#f4e4b8" stroke-width="0.5" opacity="0.35"/>
<line x1="116.2" y1="158.4" x2="114.9" y2="153.8" stroke="#7a5420" stroke-width="1.4" opacity="0.64"/>
<line x1="104.5" y1="155.3" x2="102.8" y2="150.8" stroke="#f4e4b8" stroke-width="1.4" opacity="0.64"/>
<line x1="88.0" y1="31.1" x2="88.2" y2="29.9" stroke="#ecd498" stroke-width="0.5" opacity="0.35"/>
<line x1="101.7" y1="152.5" x2="102.8" y2="148.0" stroke="#c89848" stroke-width="1.3" opacity="0.63"/>
<line x1="105.8" y1="40.2" x2="105.0" y2="38.8" stroke="#c89848" stroke-width="0.6" opacity="0.37"/>
<line x1="125.5" y1="140.0" x2="124.8" y2="135.8" stroke="#dcb870" stroke-width="1.3" opacity="0.60"/>
<line x1="155.8" y1="98.8" x2="154.6" y2="95.8" stroke="#c89848" stroke-width="1.0" opacity="0.51"/>
<line x1="127.1" y1="138.8" x2="127.7" y2="134.7" stroke="#c89848" stroke-width="1.2" opacity="0.60"/>
<line x1="61.5" y1="114.8" x2="60.7" y2="111.3" stroke="#dcb870" stroke-width="1.1" opacity="0.54"/>
<line x1="59.7" y1="102.2" x2="61.0" y2="99.1" stroke="#dcb870" stroke-width="1.0" opacity="0.52"/>
<line x1="41.1" y1="37.6" x2="41.2" y2="36.2" stroke="#ecd498" stroke-width="0.6" opacity="0.37"/>
<line x1="101.8" y1="137.4" x2="101.3" y2="133.3" stroke="#c89848" stroke-width="1.2" opacity="0.60"/>
<line x1="8.2" y1="58.4" x2="8.2" y2="56.4" stroke="#f4e4b8" stroke-width="0.7" opacity="0.41"/>
<line x1="25.5" y1="69.2" x2="25.9" y2="67.0" stroke="#7a5420" stroke-width="0.8" opacity="0.44"/>
<line x1="23.0" y1="59.8" x2="22.8" y2="57.8" stroke="#9a7028" stroke-width="0.7" opacity="0.42"/>
<line x1="157.1" y1="41.7" x2="157.7" y2="40.2" stroke="#ecd498" stroke-width="0.6" opacity="0.38"/>
<line x1="77.7" y1="58.6" x2="76.5" y2="56.6" stroke="#dcb870" stroke-width="0.7" opacity="0.42"/>
<line x1="136.2" y1="142.0" x2="135.8" y2="137.9" stroke="#7a5420" stroke-width="1.3" opacity="0.61"/>
<line x1="45.9" y1="116.7" x2="46.8" y2="113.2" stroke="#7a5420" stroke-width="1.1" opacity="0.55"/>
<line x1="144.3" y1="38.2" x2="144.6" y2="36.8" stroke="#ecd498" stroke-width="0.6" opacity="0.37"/>
<line x1="133.8" y1="148.4" x2="133.2" y2="144.1" stroke="#9a7028" stroke-width="1.3" opacity="0.62"/>
<line x1="0.7" y1="135.3" x2="-0.1" y2="131.3" stroke="#c89848" stroke-width="1.2" opacity="0.59"/>
<line x1="31.7" y1="41.1" x2="31.7" y2="39.6" stroke="#dcb870" stroke-width="0.6" opacity="0.38"/>
<line x1="69.4" y1="100.0" x2="70.7" y2="97.0" stroke="#c89848" stroke-width="1.0" opacity="0.51"/>
<line x1="157.8" y1="156.0" x2="155.6" y2="151.4" stroke="#7a5420" stroke-width="1.4" opacity="0.64"/>
<line x1="131.2" y1="124.7" x2="131.7" y2="121.0" stroke="#dcb870" stroke-width="1.2" opacity="0.57"/>
<line x1="48.1" y1="104.8" x2="48.0" y2="101.6" stroke="#dcb870" stroke-width="1.0" opacity="0.52"/>
<line x1="104.9" y1="69.2" x2="105.0" y2="67.0" stroke="#dcb870" stroke-width="0.8" opacity="0.44"/>
<line x1="102.7" y1="141.1" x2="103.6" y2="136.9" stroke="#9a7028" stroke-width="1.3" opacity="0.60"/>
<line x1="72.5" y1="41.2" x2="72.6" y2="39.7" stroke="#c89848" stroke-width="0.6" opacity="0.38"/>
<line x1="89.9" y1="153.6" x2="90.1" y2="149.1" stroke="#dcb870" stroke-width="1.3" opacity="0.63"/>
<line x1="91.5" y1="81.9" x2="90.7" y2="79.3" stroke="#ecd498" stroke-width="0.9" opacity="0.47"/>
<line x1="156.9" y1="56.6" x2="156.0" y2="54.7" stroke="#c89848" stroke-width="0.7" opacity="0.41"/>
<line x1="139.7" y1="63.2" x2="138.9" y2="61.1" stroke="#ecd498" stroke-width="0.7" opacity="0.43"/>
<line x1="108.6" y1="122.9" x2="108.8" y2="119.2" stroke="#9a7028" stroke-width="1.1" opacity="0.56"/>
<line x1="36.7" y1="105.0" x2="37.6" y2="101.8" stroke="#ecd498" stroke-width="1.0" opacity="0.52"/>
<line x1="147.3" y1="104.3" x2="148.0" y2="101.1" stroke="#f4e4b8" stroke-width="1.0" opacity="0.52"/>
<line x1="129.7" y1="47.6" x2="129.8" y2="45.9" stroke="#7a5420" stroke-width="0.6" opacity="0.39"/>
<line x1="115.8" y1="129.2" x2="116.4" y2="125.3" stroke="#ecd498" stroke-width="1.2" opacity="0.58"/>
<line x1="155.6" y1="97.5" x2="156.8" y2="94.5" stroke="#f4e4b8" stroke-width="1.0" opacity="0.50"/>
<line x1="63.5" y1="52.4" x2="63.6" y2="50.6" stroke="#9a7028" stroke-width="0.7" opacity="0.40"/>
<line x1="125.5" y1="47.9" x2="124.7" y2="46.2" stroke="#7a5420" stroke-width="0.6" opacity="0.39"/>
<line x1="38.4" y1="78.8" x2="39.0" y2="76.3" stroke="#ecd498" stroke-width="0.8" opacity="0.46"/>
<line x1="154.8" y1="90.2" x2="155.5" y2="87.4" stroke="#ecd498" stroke-width="0.9" opacity="0.49"/>
<line x1="69.0" y1="146.4" x2="71.5" y2="142.1" stroke="#7a5420" stroke-width="1.3" opacity="0.62"/>
<line x1="32.7" y1="45.0" x2="33.4" y2="43.4" stroke="#c89848" stroke-width="0.6" opacity="0.38"/>
<line x1="27.2" y1="127.7" x2="28.6" y2="123.8" stroke="#dcb870" stroke-width="1.2" opacity="0.57"/>
<line x1="119.2" y1="31.5" x2="118.7" y2="30.3" stroke="#dcb870" stroke-width="0.5" opacity="0.35"/>
<line x1="60.4" y1="126.6" x2="61.4" y2="122.8" stroke="#dcb870" stroke-width="1.2" opacity="0.57"/>
<line x1="7.0" y1="109.1" x2="6.5" y2="105.8" stroke="#ecd498" stroke-width="1.0" opacity="0.53"/>
<line x1="53.0" y1="109.0" x2="54.7" y2="105.7" stroke="#ecd498" stroke-width="1.0" opacity="0.53"/>
<line x1="109.4" y1="63.4" x2="109.9" y2="61.3" stroke="#9a7028" stroke-width="0.7" opacity="0.43"/>
<line x1="3.4" y1="159.5" x2="1.3" y2="154.9" stroke="#f4e4b8" stroke-width="1.4" opacity="0.65"/>
<line x1="3.4" y1="44.5" x2="2.8" y2="42.9" stroke="#dcb870" stroke-width="0.6" opacity="0.38"/>
<line x1="89.8" y1="68.0" x2="90.2" y2="65.8" stroke="#c89848" stroke-width="0.8" opacity="0.44"/>
<line x1="135.5" y1="107.1" x2="135.6" y2="103.8" stroke="#dcb870" stroke-width="1.0" opacity="0.53"/>
<line x1="111.7" y1="135.9" x2="109.4" y2="131.8" stroke="#f4e4b8" stroke-width="1.2" opacity="0.59"/>
<line x1="55.5" y1="49.8" x2="55.4" y2="48.0" stroke="#7a5420" stroke-width="0.6" opacity="0.40"/>
<line x1="5.1" y1="139.7" x2="3.6" y2="135.5" stroke="#ecd498" stroke-width="1.3" opacity="0.60"/>
<line x1="132.6" y1="119.0" x2="134.0" y2="115.4" stroke="#f4e4b8" stroke-width="1.1" opacity="0.55"/>
<line x1="156.7" y1="120.8" x2="156.3" y2="117.1" stroke="#f4e4b8" stroke-width="1.1" opacity="0.56"/>
<line x1="141.4" y1="110.0" x2="140.9" y2="106.7" stroke="#ecd498" stroke-width="1.0" opacity="0.53"/>
<line x1="85.6" y1="70.8" x2="85.8" y2="68.5" stroke="#9a7028" stroke-width="0.8" opacity="0.44"/>
<line x1="7.1" y1="52.2" x2="7.6" y2="50.4" stroke="#dcb870" stroke-width="0.7" opacity="0.40"/>
<line x1="53.7" y1="91.4" x2="53.0" y2="88.5" stroke="#dcb870" stroke-width="0.9" opacity="0.49"/>
<line x1="54.4" y1="93.3" x2="52.7" y2="90.4" stroke="#9a7028" stroke-width="0.9" opacity="0.50"/>
<line x1="74.4" y1="159.2" x2="75.2" y2="154.6" stroke="#ecd498" stroke-width="1.4" opacity="0.65"/>
<line x1="117.8" y1="48.8" x2="117.3" y2="47.1" stroke="#f4e4b8" stroke-width="0.6" opacity="0.39"/>
<line x1="81.0" y1="64.3" x2="81.2" y2="62.2" stroke="#7a5420" stroke-width="0.7" opacity="0.43"/>
<line x1="94.7" y1="48.2" x2="93.7" y2="46.5" stroke="#c89848" stroke-width="0.6" opacity="0.39"/>
<line x1="90.8" y1="131.0" x2="92.1" y2="127.1" stroke="#9a7028" stroke-width="1.2" opacity="0.58"/>
<line x1="102.6" y1="113.1" x2="103.8" y2="109.7" stroke="#dcb870" stroke-width="1.1" opacity="0.54"/>
<line x1="128.5" y1="61.2" x2="128.9" y2="59.1" stroke="#9a7028" stroke-width="0.7" opacity="0.42"/>
<line x1="49.2" y1="130.0" x2="48.6" y2="126.1" stroke="#c89848" stroke-width="1.2" opacity="0.58"/>
<line x1="138.2" y1="62.1" x2="138.8" y2="60.1" stroke="#7a5420" stroke-width="0.7" opacity="0.42"/>
<line x1="54.2" y1="122.3" x2="53.4" y2="118.6" stroke="#c89848" stroke-width="1.1" opacity="0.56"/>
<line x1="160.1" y1="93.1" x2="161.5" y2="90.2" stroke="#dcb870" stroke-width="0.9" opacity="0.49"/>
<line x1="131.1" y1="160.6" x2="129.0" y2="155.9" stroke="#9a7028" stroke-width="1.4" opacity="0.65"/>
<line x1="1.2" y1="144.1" x2="0.7" y2="139.8" stroke="#f4e4b8" stroke-width="1.3" opacity="0.61"/>
<line x1="64.2" y1="131.2" x2="64.6" y2="127.3" stroke="#9a7028" stroke-width="1.2" opacity="0.58"/>
<line x1="23.3" y1="124.3" x2="24.3" y2="120.6" stroke="#dcb870" stroke-width="1.1" opacity="0.57"/>
<line x1="89.3" y1="152.8" x2="87.0" y2="148.3" stroke="#dcb870" stroke-width="1.3" opacity="0.63"/>
<line x1="30.8" y1="151.1" x2="29.1" y2="146.7" stroke="#7a5420" stroke-width="1.3" opacity="0.63"/>
<line x1="94.0" y1="159.4" x2="96.7" y2="154.7" stroke="#dcb870" stroke-width="1.4" opacity="0.65"/>
<line x1="111.8" y1="124.5" x2="113.3" y2="120.8" stroke="#ecd498" stroke-width="1.1" opacity="0.57"/>
<line x1="51.7" y1="53.0" x2="51.8" y2="51.1" stroke="#dcb870" stroke-width="0.7" opacity="0.40"/>
<line x1="122.9" y1="112.1" x2="123.7" y2="108.7" stroke="#9a7028" stroke-width="1.1" opacity="0.54"/>
<line x1="35.4" y1="82.3" x2="36.6" y2="79.7" stroke="#9a7028" stroke-width="0.9" opacity="0.47"/>
<line x1="45.8" y1="95.8" x2="44.7" y2="92.8" stroke="#ecd498" stroke-width="1.0" opacity="0.50"/>
<line x1="118.9" y1="156.2" x2="116.4" y2="151.6" stroke="#7a5420" stroke-width="1.4" opacity="0.64"/>
<line x1="11.9" y1="136.9" x2="11.1" y2="132.9" stroke="#7a5420" stroke-width="1.2" opacity="0.59"/>
<line x1="22.1" y1="54.7" x2="22.5" y2="52.8" stroke="#7a5420" stroke-width="0.7" opacity="0.41"/>
<line x1="2.4" y1="72.3" x2="1.6" y2="70.0" stroke="#ecd498" stroke-width="0.8" opacity="0.45"/>
<line x1="52.9" y1="128.2" x2="52.9" y2="124.3" stroke="#c89848" stroke-width="1.2" opacity="0.57"/>
<line x1="98.8" y1="134.8" x2="96.7" y2="130.8" stroke="#9a7028" stroke-width="1.2" opacity="0.59"/>
<line x1="67.1" y1="36.0" x2="67.3" y2="34.6" stroke="#c89848" stroke-width="0.5" opacity="0.36"/>
<line x1="125.7" y1="159.4" x2="124.3" y2="154.7" stroke="#f4e4b8" stroke-width="1.4" opacity="0.65"/>
<line x1="75.1" y1="31.8" x2="75.2" y2="30.5" stroke="#dcb870" stroke-width="0.5" opacity="0.35"/>
<line x1="160.0" y1="37.3" x2="160.3" y2="35.9" stroke="#7a5420" stroke-width="0.6" opacity="0.37"/>
<line x1="135.3" y1="50.5" x2="134.5" y2="48.8" stroke="#ecd498" stroke-width="0.6" opacity="0.40"/>
<line x1="23.1" y1="130.5" x2="22.4" y2="126.6" stroke="#ecd498" stroke-width="1.2" opacity="0.58"/>
<line x1="58.6" y1="75.1" x2="58.9" y2="72.7" stroke="#c89848" stroke-width="0.8" opacity="0.45"/>
<line x1="89.9" y1="116.1" x2="90.2" y2="112.6" stroke="#7a5420" stroke-width="1.1" opacity="0.55"/>
<line x1="37.3" y1="111.0" x2="37.2" y2="107.7" stroke="#c89848" stroke-width="1.1" opacity="0.54"/>
<line x1="5.1" y1="114.8" x2="6.3" y2="111.3" stroke="#c89848" stroke-width="1.1" opacity="0.54"/>
<line x1="158.3" y1="89.4" x2="157.9" y2="86.6" stroke="#dcb870" stroke-width="0.9" opacity="0.49"/>
<line x1="85.8" y1="65.9" x2="84.5" y2="63.7" stroke="#dcb870" stroke-width="0.7" opacity="0.43"/>
<line x1="77.1" y1="115.9" x2="75.6" y2="112.4" stroke="#dcb870" stroke-width="1.1" opacity="0.55"/>
<line x1="101.9" y1="82.5" x2="103.2" y2="79.9" stroke="#ecd498" stroke-width="0.9" opacity="0.47"/>
<line x1="101.2" y1="46.0" x2="101.2" y2="44.4" stroke="#7a5420" stroke-width="0.6" opacity="0.39"/>
<line x1="90.0" y1="53.8" x2="89.7" y2="52.0" stroke="#7a5420" stroke-width="0.7" opacity="0.40"/>
<line x1="24.2" y1="53.2" x2="25.0" y2="51.4" stroke="#c89848" stroke-width="0.7" opacity="0.40"/>
<line x1="126.2" y1="99.2" x2="127.2" y2="96.2" stroke="#dcb870" stroke-width="1.0" opacity="0.51"/>
<line x1="39.3" y1="158.7" x2="37.7" y2="154.0" stroke="#f4e4b8" stroke-width="1.4" opacity="0.64"/>
<line x1="147.8" y1="148.0" x2="147.6" y2="143.7" stroke="#f4e4b8" stroke-width="1.3" opacity="0.62"/>
<line x1="52.5" y1="148.4" x2="53.3" y2="144.0" stroke="#ecd498" stroke-width="1.3" opacity="0.62"/>
<line x1="2.5" y1="135.7" x2="3.3" y2="131.7" stroke="#f4e4b8" stroke-width="1.2" opacity="0.59"/>
<line x1="56.8" y1="59.9" x2="56.6" y2="57.9" stroke="#f4e4b8" stroke-width="0.7" opacity="0.42"/>
<line x1="148.9" y1="153.8" x2="150.8" y2="149.3" stroke="#c89848" stroke-width="1.4" opacity="0.63"/>
<line x1="5.0" y1="32.7" x2="4.9" y2="31.4" stroke="#c89848" stroke-width="0.5" opacity="0.36"/>
<line x1="37.5" y1="56.6" x2="37.8" y2="54.7" stroke="#f4e4b8" stroke-width="0.7" opacity="0.41"/>
<line x1="48.4" y1="160.3" x2="51.1" y2="155.6" stroke="#9a7028" stroke-width="1.4" opacity="0.65"/>
<line x1="128.1" y1="92.5" x2="129.7" y2="89.7" stroke="#dcb870" stroke-width="0.9" opacity="0.49"/>
<line x1="22.1" y1="69.3" x2="21.7" y2="67.1" stroke="#ecd498" stroke-width="0.8" opacity="0.44"/>
<line x1="78.7" y1="146.7" x2="77.7" y2="142.4" stroke="#9a7028" stroke-width="1.3" opacity="0.62"/>
<line x1="98.9" y1="155.3" x2="99.3" y2="150.8" stroke="#9a7028" stroke-width="1.4" opacity="0.64"/>
<line x1="143.0" y1="57.5" x2="142.7" y2="55.6" stroke="#c89848" stroke-width="0.7" opacity="0.41"/>
<line x1="126.3" y1="143.1" x2="126.0" y2="138.9" stroke="#9a7028" stroke-width="1.3" opacity="0.61"/>
<line x1="22.6" y1="152.6" x2="20.1" y2="148.2" stroke="#c89848" stroke-width="1.3" opacity="0.63"/>
<line x1="18.1" y1="157.6" x2="16.0" y2="153.0" stroke="#ecd498" stroke-width="1.4" opacity="0.64"/>
<line x1="49.0" y1="95.8" x2="47.6" y2="92.9" stroke="#dcb870" stroke-width="1.0" opacity="0.50"/>
<line x1="27.3" y1="119.4" x2="27.0" y2="115.9" stroke="#ecd498" stroke-width="1.1" opacity="0.55"/>
<line x1="104.0" y1="117.2" x2="105.6" y2="113.6" stroke="#f4e4b8" stroke-width="1.1" opacity="0.55"/>
<line x1="158.7" y1="34.3" x2="158.2" y2="33.0" stroke="#9a7028" stroke-width="0.5" opacity="0.36"/>
<line x1="101.6" y1="32.0" x2="101.6" y2="30.8" stroke="#9a7028" stroke-width="0.5" opacity="0.35"/>
<line x1="37.5" y1="86.4" x2="38.3" y2="83.7" stroke="#ecd498" stroke-width="0.9" opacity="0.48"/>
<line x1="7.8" y1="147.1" x2="9.8" y2="142.8" stroke="#ecd498" stroke-width="1.3" opacity="0.62"/>
<line x1="19.5" y1="93.8" x2="19.6" y2="90.9" stroke="#9a7028" stroke-width="0.9" opacity="0.50"/>
<line x1="0.4" y1="59.3" x2="-0.4" y2="57.3" stroke="#7a5420" stroke-width="0.7" opacity="0.42"/>
<line x1="119.6" y1="95.6" x2="119.7" y2="92.6" stroke="#ecd498" stroke-width="1.0" opacity="0.50"/>
<line x1="136.0" y1="155.4" x2="135.2" y2="150.8" stroke="#ecd498" stroke-width="1.4" opacity="0.64"/>
<line x1="34.9" y1="156.7" x2="36.1" y2="152.2" stroke="#9a7028" stroke-width="1.4" opacity="0.64"/>
<line x1="44.2" y1="53.2" x2="43.7" y2="51.4" stroke="#dcb870" stroke-width="0.7" opacity="0.40"/>
<line x1="156.5" y1="55.7" x2="156.3" y2="53.8" stroke="#ecd498" stroke-width="0.7" opacity="0.41"/>
<line x1="90.2" y1="77.5" x2="89.7" y2="75.0" stroke="#ecd498" stroke-width="0.8" opacity="0.46"/>
<line x1="6.7" y1="89.4" x2="6.9" y2="86.7" stroke="#dcb870" stroke-width="0.9" opacity="0.49"/>
<line x1="111.8" y1="158.7" x2="113.0" y2="154.1" stroke="#c89848" stroke-width="1.4" opacity="0.64"/>
<line x1="64.7" y1="71.7" x2="64.4" y2="69.4" stroke="#f4e4b8" stroke-width="0.8" opacity="0.45"/>
<line x1="24.5" y1="129.7" x2="25.9" y2="125.8" stroke="#f4e4b8" stroke-width="1.2" opacity="0.58"/>
<line x1="145.5" y1="113.2" x2="145.9" y2="109.8" stroke="#9a7028" stroke-width="1.1" opacity="0.54"/>
<line x1="150.1" y1="63.4" x2="150.6" y2="61.3" stroke="#7a5420" stroke-width="0.7" opacity="0.43"/>
<line x1="160.5" y1="138.1" x2="158.7" y2="134.1" stroke="#c89848" stroke-width="1.2" opacity="0.60"/>
<line x1="136.6" y1="132.7" x2="134.4" y2="128.8" stroke="#c89848" stroke-width="1.2" opacity="0.59"/>
<line x1="112.5" y1="72.5" x2="112.3" y2="70.2" stroke="#c89848" stroke-width="0.8" opacity="0.45"/>
<line x1="108.2" y1="89.7" x2="106.5" y2="86.9" stroke="#7a5420" stroke-width="0.9" opacity="0.49"/>
<line x1="120.9" y1="141.8" x2="120.1" y2="137.6" stroke="#7a5420" stroke-width="1.3" opacity="0.61"/>
<line x1="88.5" y1="79.8" x2="89.4" y2="77.2" stroke="#c89848" stroke-width="0.8" opacity="0.46"/>
<line x1="140.8" y1="76.5" x2="140.5" y2="74.1" stroke="#ecd498" stroke-width="0.8" opacity="0.46"/>
<line x1="85.3" y1="110.3" x2="86.6" y2="106.9" stroke="#c89848" stroke-width="1.1" opacity="0.53"/>
<line x1="11.7" y1="134.4" x2="10.3" y2="130.5" stroke="#c89848" stroke-width="1.2" opacity="0.59"/>
<line x1="99.2" y1="64.7" x2="100.1" y2="62.6" stroke="#f4e4b8" stroke-width="0.7" opacity="0.43"/>
<line x1="56.3" y1="107.2" x2="55.2" y2="104.0" stroke="#7a5420" stroke-width="1.0" opacity="0.53"/>
<line x1="23.0" y1="151.5" x2="22.3" y2="147.0" stroke="#7a5420" stroke-width="1.3" opacity="0.63"/>
<line x1="33.2" y1="52.2" x2="32.6" y2="50.4" stroke="#dcb870" stroke-width="0.7" opacity="0.40"/>
<line x1="27.9" y1="137.7" x2="26.3" y2="133.6" stroke="#f4e4b8" stroke-width="1.2" opacity="0.60"/>
<line x1="153.5" y1="142.1" x2="155.3" y2="137.9" stroke="#c89848" stroke-width="1.3" opacity="0.61"/>
<line x1="7.0" y1="79.9" x2="5.9" y2="77.4" stroke="#f4e4b8" stroke-width="0.8" opacity="0.46"/>
<line x1="24.9" y1="62.9" x2="24.6" y2="60.9" stroke="#ecd498" stroke-width="0.7" opacity="0.43"/>
<line x1="107.4" y1="98.5" x2="107.2" y2="95.4" stroke="#dcb870" stroke-width="1.0" opacity="0.51"/>
<line x1="14.3" y1="81.8" x2="14.9" y2="79.2" stroke="#f4e4b8" stroke-width="0.9" opacity="0.47"/>
<line x1="72.8" y1="92.7" x2="73.7" y2="89.8" stroke="#9a7028" stroke-width="0.9" opacity="0.49"/>
<line x1="24.3" y1="119.1" x2="24.2" y2="115.5" stroke="#dcb870" stroke-width="1.1" opacity="0.55"/>
<line x1="107.0" y1="111.6" x2="106.3" y2="108.2" stroke="#7a5420" stroke-width="1.1" opacity="0.54"/>
<line x1="61.7" y1="32.3" x2="61.0" y2="31.1" stroke="#9a7028" stroke-width="0.5" opacity="0.36"/>
<line x1="42.1" y1="107.4" x2="42.9" y2="104.1" stroke="#dcb870" stroke-width="1.0" opacity="0.53"/>
<line x1="44.5" y1="72.4" x2="43.8" y2="70.1" stroke="#9a7028" stroke-width="0.8" opacity="0.45"/>
<line x1="71.0" y1="98.8" x2="72.3" y2="95.8" stroke="#f4e4b8" stroke-width="1.0" opacity="0.51"/>
<line x1="32.7" y1="85.4" x2="33.1" y2="82.8" stroke="#dcb870" stroke-width="0.9" opacity="0.48"/>
<line x1="60.2" y1="35.8" x2="60.0" y2="34.4" stroke="#f4e4b8" stroke-width="0.5" opacity="0.36"/>
<line x1="6.8" y1="128.7" x2="6.4" y2="124.8" stroke="#f4e4b8" stroke-width="1.2" opacity="0.58"/>
<line x1="98.4" y1="63.6" x2="98.1" y2="61.5" stroke="#9a7028" stroke-width="0.7" opacity="0.43"/>
<line x1="93.7" y1="151.2" x2="96.3" y2="146.7" stroke="#9a7028" stroke-width="1.3" opacity="0.63"/>
<line x1="138.0" y1="106.0" x2="138.6" y2="102.8" stroke="#ecd498" stroke-width="1.0" opacity="0.52"/>
<line x1="53.4" y1="39.3" x2="53.2" y2="37.8" stroke="#f4e4b8" stroke-width="0.6" opacity="0.37"/>
<line x1="85.2" y1="95.1" x2="86.1" y2="92.1" stroke="#c89848" stroke-width="0.9" opacity="0.50"/>
<line x1="4.1" y1="107.7" x2="5.9" y2="104.4" stroke="#f4e4b8" stroke-width="1.0" opacity="0.53"/>
<line x1="113.6" y1="87.1" x2="112.5" y2="84.4" stroke="#f4e4b8" stroke-width="0.9" opacity="0.48"/>
<line x1="10.5" y1="82.1" x2="10.6" y2="79.5" stroke="#9a7028" stroke-width="0.9" opacity="0.47"/>
<line x1="133.6" y1="117.8" x2="132.3" y2="114.3" stroke="#c89848" stroke-width="1.1" opacity="0.55"/>
<line x1="87.7" y1="151.3" x2="88.0" y2="146.8" stroke="#dcb870" stroke-width="1.3" opacity="0.63"/>
<line x1="124.6" y1="130.9" x2="122.7" y2="127.0" stroke="#ecd498" stroke-width="1.2" opacity="0.58"/>
<line x1="137.4" y1="104.8" x2="135.8" y2="101.6" stroke="#ecd498" stroke-width="1.0" opacity="0.52"/>
<line x1="14.3" y1="128.7" x2="14.1" y2="124.8" stroke="#7a5420" stroke-width="1.2" opacity="0.58"/>
<line x1="133.5" y1="56.2" x2="133.4" y2="54.3" stroke="#dcb870" stroke-width="0.7" opacity="0.41"/>
<line x1="8.9" y1="120.5" x2="10.4" y2="116.9" stroke="#f4e4b8" stroke-width="1.1" opacity="0.56"/>
<line x1="22.7" y1="83.3" x2="23.9" y2="80.7" stroke="#ecd498" stroke-width="0.9" opacity="0.47"/>
<line x1="23.6" y1="73.8" x2="24.9" y2="71.4" stroke="#7a5420" stroke-width="0.8" opacity="0.45"/>
<line x1="30.2" y1="100.6" x2="29.3" y2="97.5" stroke="#7a5420" stroke-width="1.0" opacity="0.51"/>
<line x1="50.7" y1="63.4" x2="50.9" y2="61.3" stroke="#dcb870" stroke-width="0.7" opacity="0.43"/>
<line x1="82.8" y1="85.0" x2="82.2" y2="82.4" stroke="#ecd498" stroke-width="0.9" opacity="0.48"/>
<line x1="40.3" y1="79.8" x2="41.3" y2="77.3" stroke="#f4e4b8" stroke-width="0.8" opacity="0.46"/>
<line x1="41.6" y1="56.5" x2="41.0" y2="54.6" stroke="#ecd498" stroke-width="0.7" opacity="0.41"/>
<line x1="105.7" y1="152.2" x2="105.6" y2="147.7" stroke="#c89848" stroke-width="1.3" opacity="0.63"/>
<line x1="94.6" y1="77.9" x2="93.7" y2="75.4" stroke="#dcb870" stroke-width="0.8" opacity="0.46"/>
<line x1="148.9" y1="102.9" x2="149.8" y2="99.7" stroke="#ecd498" stroke-width="1.0" opacity="0.52"/>
<line x1="1.4" y1="38.9" x2="1.9" y2="37.4" stroke="#7a5420" stroke-width="0.6" opacity="0.37"/>
<line x1="5.7" y1="58.8" x2="5.2" y2="56.8" stroke="#f4e4b8" stroke-width="0.7" opacity="0.42"/>
<line x1="115.1" y1="135.1" x2="115.6" y2="131.1" stroke="#7a5420" stroke-width="1.2" opacity="0.59"/>
<line x1="65.8" y1="125.3" x2="67.5" y2="121.6" stroke="#9a7028" stroke-width="1.2" opacity="0.57"/>
<line x1="9.4" y1="86.8" x2="8.1" y2="84.1" stroke="#c89848" stroke-width="0.9" opacity="0.48"/>
<line x1="22.2" y1="145.3" x2="22.2" y2="141.0" stroke="#7a5420" stroke-width="1.3" opacity="0.61"/>
<line x1="2.3" y1="124.5" x2="3.6" y2="120.8" stroke="#c89848" stroke-width="1.1" opacity="0.57"/>
<line x1="80.7" y1="118.3" x2="81.8" y2="114.7" stroke="#c89848" stroke-width="1.1" opacity="0.55"/>
<line x1="129.9" y1="100.0" x2="128.6" y2="96.9" stroke="#9a7028" stroke-width="1.0" opacity="0.51"/>
<line x1="148.7" y1="57.1" x2="148.6" y2="55.2" stroke="#ecd498" stroke-width="0.7" opacity="0.41"/>
<line x1="32.7" y1="42.0" x2="32.5" y2="40.5" stroke="#ecd498" stroke-width="0.6" opacity="0.38"/>
<line x1="106.7" y1="63.7" x2="107.2" y2="61.6" stroke="#f4e4b8" stroke-width="0.7" opacity="0.43"/>
<line x1="25.1" y1="37.4" x2="24.5" y2="36.0" stroke="#c89848" stroke-width="0.6" opacity="0.37"/>
<line x1="25.9" y1="88.5" x2="27.2" y2="85.7" stroke="#9a7028" stroke-width="0.9" opacity="0.48"/>
<line x1="129.1" y1="122.6" x2="127.6" y2="118.9" stroke="#c89848" stroke-width="1.1" opacity="0.56"/>
<line x1="147.7" y1="72.5" x2="146.8" y2="70.2" stroke="#9a7028" stroke-width="0.8" opacity="0.45"/>
<line x1="129.5" y1="158.4" x2="132.1" y2="153.8" stroke="#f4e4b8" stroke-width="1.4" opacity="0.64"/>
<line x1="53.1" y1="50.4" x2="52.5" y2="48.7" stroke="#dcb870" stroke-width="0.6" opacity="0.40"/>
<line x1="88.4" y1="42.3" x2="87.8" y2="40.7" stroke="#f4e4b8" stroke-width="0.6" opacity="0.38"/>
<line x1="29.8" y1="73.6" x2="28.7" y2="71.3" stroke="#f4e4b8" stroke-width="0.8" opacity="0.45"/>
<line x1="134.2" y1="46.0" x2="135.2" y2="44.4" stroke="#9a7028" stroke-width="0.6" opacity="0.39"/>
<line x1="152.2" y1="98.9" x2="152.2" y2="95.9" stroke="#dcb870" stroke-width="1.0" opacity="0.51"/>
<line x1="2.9" y1="132.4" x2="1.5" y2="128.4" stroke="#ecd498" stroke-width="1.2" opacity="0.58"/>
<line x1="45.4" y1="69.7" x2="45.5" y2="67.4" stroke="#7a5420" stroke-width="0.8" opacity="0.44"/>
<line x1="14.3" y1="48.3" x2="14.9" y2="46.6" stroke="#dcb870" stroke-width="0.6" opacity="0.39"/>
<line x1="123.9" y1="148.5" x2="126.2" y2="144.1" stroke="#7a5420" stroke-width="1.3" opacity="0.62"/>
<line x1="5.2" y1="108.4" x2="4.6" y2="105.1" stroke="#ecd498" stroke-width="1.0" opacity="0.53"/>
<line x1="153.0" y1="116.0" x2="151.6" y2="112.5" stroke="#ecd498" stroke-width="1.1" opacity="0.55"/>
<line x1="56.7" y1="93.0" x2="57.6" y2="90.1" stroke="#dcb870" stroke-width="0.9" opacity="0.49"/>
<line x1="29.0" y1="133.2" x2="30.4" y2="129.2" stroke="#dcb870" stroke-width="1.2" opacity="0.59"/>
<line x1="117.2" y1="89.6" x2="117.4" y2="86.8" stroke="#c89848" stroke-width="0.9" opacity="0.49"/>
<line x1="127.7" y1="108.0" x2="125.8" y2="104.7" stroke="#f4e4b8" stroke-width="1.0" opacity="0.53"/>
<line x1="6.4" y1="105.9" x2="7.0" y2="102.7" stroke="#f4e4b8" stroke-width="1.0" opacity="0.52"/>
<line x1="21.4" y1="105.7" x2="19.7" y2="102.5" stroke="#dcb870" stroke-width="1.0" opacity="0.52"/>
<line x1="117.9" y1="126.2" x2="116.4" y2="122.4" stroke="#dcb870" stroke-width="1.2" opacity="0.57"/>
<line x1="152.5" y1="73.4" x2="153.6" y2="71.1" stroke="#c89848" stroke-width="0.8" opacity="0.45"/>
<line x1="77.8" y1="49.5" x2="77.0" y2="47.8" stroke="#ecd498" stroke-width="0.6" opacity="0.39"/>
<line x1="38.7" y1="50.1" x2="38.7" y2="48.3" stroke="#dcb870" stroke-width="0.6" opacity="0.40"/>
<line x1="19.0" y1="91.3" x2="19.3" y2="88.4" stroke="#9a7028" stroke-width="0.9" opacity="0.49"/>
<line x1="6.8" y1="63.6" x2="6.3" y2="61.5" stroke="#9a7028" stroke-width="0.7" opacity="0.43"/>
<line x1="90.0" y1="159.4" x2="91.2" y2="154.8" stroke="#9a7028" stroke-width="1.4" opacity="0.65"/>
<line x1="86.6" y1="61.4" x2="85.5" y2="59.4" stroke="#ecd498" stroke-width="0.7" opacity="0.42"/>
<line x1="152.8" y1="94.0" x2="153.1" y2="91.1" stroke="#c89848" stroke-width="0.9" opacity="0.50"/>
<line x1="111.6" y1="60.0" x2="110.8" y2="58.0" stroke="#9a7028" stroke-width="0.7" opacity="0.42"/>
<line x1="42.8" y1="34.1" x2="43.0" y2="32.7" stroke="#f4e4b8" stroke-width="0.5" opacity="0.36"/>
<line x1="17.8" y1="104.6" x2="16.2" y2="101.5" stroke="#ecd498" stroke-width="1.0" opacity="0.52"/>
<line x1="93.7" y1="60.6" x2="94.4" y2="58.6" stroke="#7a5420" stroke-width="0.7" opacity="0.42"/>
<line x1="83.1" y1="137.3" x2="81.0" y2="133.2" stroke="#9a7028" stroke-width="1.2" opacity="0.60"/>
<line x1="54.6" y1="42.8" x2="54.9" y2="41.3" stroke="#9a7028" stroke-width="0.6" opacity="0.38"/>
<line x1="112.1" y1="136.7" x2="110.1" y2="132.7" stroke="#dcb870" stroke-width="1.2" opacity="0.59"/>
<line x1="123.0" y1="107.5" x2="121.1" y2="104.3" stroke="#9a7028" stroke-width="1.0" opacity="0.53"/>
<line x1="152.3" y1="84.0" x2="150.8" y2="81.3" stroke="#f4e4b8" stroke-width="0.9" opacity="0.47"/>
<line x1="127.8" y1="49.4" x2="128.1" y2="47.7" stroke="#7a5420" stroke-width="0.6" opacity="0.39"/>
<line x1="24.5" y1="75.1" x2="23.6" y2="72.7" stroke="#9a7028" stroke-width="0.8" opacity="0.45"/>
<line x1="149.8" y1="119.9" x2="151.9" y2="116.3" stroke="#c89848" stroke-width="1.1" opacity="0.56"/>
<line x1="161.6" y1="133.7" x2="159.4" y2="129.7" stroke="#f4e4b8" stroke-width="1.2" opacity="0.59"/>
<line x1="85.1" y1="73.2" x2="85.9" y2="70.9" stroke="#ecd498" stroke-width="0.8" opacity="0.45"/>
<line x1="103.1" y1="56.1" x2="102.1" y2="54.2" stroke="#c89848" stroke-width="0.7" opacity="0.41"/>
<line x1="59.2" y1="83.9" x2="59.9" y2="81.2" stroke="#c89848" stroke-width="0.9" opacity="0.47"/>
<line x1="56.6" y1="51.3" x2="56.9" y2="49.5" stroke="#f4e4b8" stroke-width="0.6" opacity="0.40"/>
<line x1="120.8" y1="47.7" x2="121.7" y2="46.0" stroke="#c89848" stroke-width="0.6" opacity="0.39"/>
<line x1="146.6" y1="127.6" x2="147.0" y2="123.8" stroke="#c89848" stroke-width="1.2" opacity="0.57"/>
<line x1="70.5" y1="138.1" x2="69.5" y2="134.0" stroke="#7a5420" stroke-width="1.2" opacity="0.60"/>
<line x1="155.7" y1="99.6" x2="154.3" y2="96.6" stroke="#c89848" stroke-width="1.0" opacity="0.51"/>
<line x1="156.9" y1="133.2" x2="158.1" y2="129.2" stroke="#dcb870" stroke-width="1.2" opacity="0.59"/>
<line x1="137.3" y1="61.5" x2="137.2" y2="59.4" stroke="#7a5420" stroke-width="0.7" opacity="0.42"/>
<line x1="38.3" y1="94.5" x2="39.7" y2="91.6" stroke="#c89848" stroke-width="0.9" opacity="0.50"/>
<line x1="8.1" y1="116.9" x2="9.4" y2="113.4" stroke="#f4e4b8" stroke-width="1.1" opacity="0.55"/>
<line x1="110.6" y1="153.4" x2="110.1" y2="148.9" stroke="#f4e4b8" stroke-width="1.3" opacity="0.63"/>
<line x1="14.1" y1="115.5" x2="14.8" y2="112.0" stroke="#dcb870" stroke-width="1.1" opacity="0.55"/>
<line x1="146.5" y1="85.9" x2="144.9" y2="83.2" stroke="#dcb870" stroke-width="0.9" opacity="0.48"/>
<line x1="79.2" y1="32.1" x2="79.8" y2="30.9" stroke="#ecd498" stroke-width="0.5" opacity="0.35"/>
<line x1="77.0" y1="83.8" x2="76.9" y2="81.2" stroke="#dcb870" stroke-width="0.9" opacity="0.47"/>
<line x1="54.3" y1="58.0" x2="54.1" y2="56.0" stroke="#dcb870" stroke-width="0.7" opacity="0.41"/>
<line x1="75.5" y1="34.3" x2="74.8" y2="33.0" stroke="#dcb870" stroke-width="0.5" opacity="0.36"/>
<line x1="43.9" y1="121.9" x2="43.5" y2="118.2" stroke="#f4e4b8" stroke-width="1.1" opacity="0.56"/>
<line x1="87.2" y1="61.7" x2="87.6" y2="59.6" stroke="#9a7028" stroke-width="0.7" opacity="0.42"/>
<line x1="6.7" y1="137.8" x2="6.2" y2="133.7" stroke="#9a7028" stroke-width="1.2" opacity="0.60"/>
<line x1="53.9" y1="49.8" x2="53.3" y2="48.0" stroke="#9a7028" stroke-width="0.6" opacity="0.40"/>
<line x1="144.2" y1="109.9" x2="143.4" y2="106.6" stroke="#f4e4b8" stroke-width="1.0" opacity="0.53"/>
<line x1="51.6" y1="144.8" x2="50.0" y2="140.5" stroke="#7a5420" stroke-width="1.3" opacity="0.61"/>
<line x1="134.6" y1="51.3" x2="133.5" y2="49.5" stroke="#7a5420" stroke-width="0.6" opacity="0.40"/>
<line x1="138.3" y1="43.6" x2="138.2" y2="42.0" stroke="#9a7028" stroke-width="0.6" opacity="0.38"/>
<line x1="131.1" y1="62.9" x2="131.6" y2="60.8" stroke="#dcb870" stroke-width="0.7" opacity="0.43"/>
<line x1="159.5" y1="126.2" x2="160.2" y2="122.5" stroke="#7a5420" stroke-width="1.2" opacity="0.57"/>
<line x1="21.9" y1="128.7" x2="22.6" y2="124.8" stroke="#dcb870" stroke-width="1.2" opacity="0.58"/>
<line x1="12.3" y1="111.7" x2="11.3" y2="108.4" stroke="#f4e4b8" stroke-width="1.1" opacity="0.54"/>
<line x1="47.9" y1="70.0" x2="48.3" y2="67.7" stroke="#c89848" stroke-width="0.8" opacity="0.44"/>
<line x1="60.9" y1="98.4" x2="59.3" y2="95.4" stroke="#c89848" stroke-width="1.0" opacity="0.51"/>
<line x1="106.0" y1="94.6" x2="107.7" y2="91.7" stroke="#c89848" stroke-width="0.9" opacity="0.50"/>
<line x1="9.2" y1="139.4" x2="7.3" y2="135.2" stroke="#c89848" stroke-width="1.3" opacity="0.60"/>
<line x1="61.1" y1="70.8" x2="62.2" y2="68.5" stroke="#7a5420" stroke-width="0.8" opacity="0.44"/>
<line x1="118.1" y1="128.2" x2="120.1" y2="124.4" stroke="#ecd498" stroke-width="1.2" opacity="0.57"/>
<line x1="78.2" y1="30.9" x2="77.6" y2="29.7" stroke="#dcb870" stroke-width="0.5" opacity="0.35"/>
<line x1="95.2" y1="105.6" x2="97.1" y2="102.3" stroke="#ecd498" stroke-width="1.0" opacity="0.52"/>
<line x1="28.1" y1="107.2" x2="28.6" y2="104.0" stroke="#dcb870" stroke-width="1.0" opacity="0.53"/>
<line x1="39.2" y1="131.2" x2="38.8" y2="127.3" stroke="#ecd498" stroke-width="1.2" opacity="0.58"/>
<line x1="158.5" y1="115.0" x2="159.0" y2="111.5" stroke="#c89848" stroke-width="1.1" opacity="0.54"/>
<line x1="79.9" y1="157.7" x2="80.9" y2="153.1" stroke="#dcb870" stroke-width="1.4" opacity="0.64"/>
<line x1="45.0" y1="51.2" x2="44.9" y2="49.4" stroke="#7a5420" stroke-width="0.6" opacity="0.40"/>
<line x1="7.8" y1="99.7" x2="6.7" y2="96.7" stroke="#9a7028" stroke-width="1.0" opacity="0.51"/>
<line x1="130.8" y1="38.1" x2="131.2" y2="36.7" stroke="#dcb870" stroke-width="0.6" opacity="0.37"/>
<line x1="27.6" y1="70.9" x2="27.9" y2="68.6" stroke="#ecd498" stroke-width="0.8" opacity="0.44"/>
<line x1="157.4" y1="131.8" x2="159.6" y2="127.9" stroke="#dcb870" stroke-width="1.2" opacity="0.58"/>
<line x1="30.3" y1="70.5" x2="29.5" y2="68.2" stroke="#f4e4b8" stroke-width="0.8" opacity="0.44"/>
<line x1="52.0" y1="87.4" x2="52.6" y2="84.7" stroke="#ecd498" stroke-width="0.9" opacity="0.48"/>
<line x1="58.6" y1="71.9" x2="58.0" y2="69.6" stroke="#f4e4b8" stroke-width="0.8" opacity="0.45"/>
<line x1="33.0" y1="149.0" x2="33.1" y2="144.7" stroke="#f4e4b8" stroke-width="1.3" opacity="0.62"/>
<line x1="66.1" y1="50.9" x2="65.2" y2="49.2" stroke="#dcb870" stroke-width="0.6" opacity="0.40"/>
<line x1="45.2" y1="100.2" x2="45.4" y2="97.1" stroke="#c89848" stroke-width="1.0" opacity="0.51"/>
<line x1="108.6" y1="128.6" x2="108.1" y2="124.8" stroke="#dcb870" stroke-width="1.2" opacity="0.58"/>
<line x1="116.2" y1="81.8" x2="117.3" y2="79.2" stroke="#dcb870" stroke-width="0.9" opacity="0.47"/>
<line x1="19.6" y1="88.9" x2="18.1" y2="86.1" stroke="#ecd498" stroke-width="0.9" opacity="0.48"/>
<line x1="133.9" y1="104.2" x2="134.3" y2="101.0" stroke="#dcb870" stroke-width="1.0" opacity="0.52"/>
<line x1="58.3" y1="158.4" x2="60.4" y2="153.8" stroke="#ecd498" stroke-width="1.4" opacity="0.64"/>
<line x1="15.6" y1="109.0" x2="16.9" y2="105.7" stroke="#f4e4b8" stroke-width="1.0" opacity="0.53"/>
<line x1="115.3" y1="151.8" x2="116.1" y2="147.4" stroke="#9a7028" stroke-width="1.3" opacity="0.63"/>
<line x1="156.7" y1="113.0" x2="155.1" y2="109.6" stroke="#c89848" stroke-width="1.1" opacity="0.54"/>
<line x1="65.4" y1="140.3" x2="67.1" y2="136.1" stroke="#c89848" stroke-width="1.3" opacity="0.60"/>
<line x1="64.8" y1="95.5" x2="64.3" y2="92.5" stroke="#dcb870" stroke-width="0.9" opacity="0.50"/>
<line x1="30.1" y1="144.2" x2="31.3" y2="139.9" stroke="#7a5420" stroke-width="1.3" opacity="0.61"/>
<line x1="67.0" y1="151.5" x2="65.1" y2="147.0" stroke="#dcb870" stroke-width="1.3" opacity="0.63"/>
<line x1="54.9" y1="38.6" x2="54.1" y2="37.2" stroke="#f4e4b8" stroke-width="0.6" opacity="0.37"/>
<line x1="0.5" y1="105.2" x2="0.8" y2="102.0" stroke="#9a7028" stroke-width="1.0" opacity="0.52"/>
<line x1="65.4" y1="105.2" x2="66.5" y2="101.9" stroke="#dcb870" stroke-width="1.0" opacity="0.52"/>
<line x1="110.1" y1="141.7" x2="108.3" y2="137.6" stroke="#9a7028" stroke-width="1.3" opacity="0.61"/>
<line x1="108.8" y1="128.8" x2="107.1" y2="124.9" stroke="#7a5420" stroke-width="1.2" opacity="0.58"/>
<line x1="45.8" y1="34.4" x2="45.6" y2="33.1" stroke="#c89848" stroke-width="0.5" opacity="0.36"/>
<line x1="46.6" y1="114.8" x2="46.1" y2="111.4" stroke="#c89848" stroke-width="1.1" opacity="0.54"/>
<line x1="145.2" y1="123.3" x2="145.7" y2="119.6" stroke="#7a5420" stroke-width="1.1" opacity="0.56"/>
<line x1="82.5" y1="109.6" x2="81.7" y2="106.3" stroke="#9a7028" stroke-width="1.0" opacity="0.53"/>
<line x1="58.3" y1="104.5" x2="57.7" y2="101.3" stroke="#ecd498" stroke-width="1.0" opacity="0.52"/>
<line x1="113.3" y1="39.5" x2="112.8" y2="38.0" stroke="#dcb870" stroke-width="0.6" opacity="0.37"/>
<line x1="74.2" y1="130.1" x2="73.1" y2="126.2" stroke="#f4e4b8" stroke-width="1.2" opacity="0.58"/>
<line x1="9.6" y1="88.4" x2="9.9" y2="85.6" stroke="#7a5420" stroke-width="0.9" opacity="0.48"/>
<line x1="5.2" y1="100.5" x2="3.8" y2="97.4" stroke="#f4e4b8" stroke-width="1.0" opacity="0.51"/>
<line x1="36.4" y1="112.5" x2="38.3" y2="109.1" stroke="#dcb870" stroke-width="1.1" opacity="0.54"/>
<line x1="86.0" y1="60.2" x2="86.7" y2="58.2" stroke="#7a5420" stroke-width="0.7" opacity="0.42"/>
<line x1="33.9" y1="140.0" x2="34.0" y2="135.8" stroke="#7a5420" stroke-width="1.3" opacity="0.60"/>
<line x1="4.9" y1="131.9" x2="6.4" y2="128.0" stroke="#ecd498" stroke-width="1.2" opacity="0.58"/>
<line x1="43.4" y1="79.0" x2="42.7" y2="76.5" stroke="#c89848" stroke-width="0.8" opacity="0.46"/>
<line x1="14.5" y1="44.7" x2="14.5" y2="43.1" stroke="#f4e4b8" stroke-width="0.6" opacity="0.38"/>
<line x1="95.4" y1="59.6" x2="96.1" y2="57.7" stroke="#ecd498" stroke-width="0.7" opacity="0.42"/>
<line x1="155.7" y1="73.2" x2="154.5" y2="70.8" stroke="#dcb870" stroke-width="0.8" opacity="0.45"/>
<line x1="77.4" y1="47.5" x2="78.4" y2="45.9" stroke="#f4e4b8" stroke-width="0.6" opacity="0.39"/>
<line x1="142.6" y1="110.9" x2="142.0" y2="107.6" stroke="#9a7028" stroke-width="1.1" opacity="0.54"/>
<line x1="30.8" y1="82.8" x2="31.6" y2="80.2" stroke="#dcb870" stroke-width="0.9" opacity="0.47"/>
<line x1="12.4" y1="147.6" x2="12.1" y2="143.2" stroke="#ecd498" stroke-width="1.3" opacity="0.62"/>
<line x1="32.0" y1="122.2" x2="33.2" y2="118.5" stroke="#9a7028" stroke-width="1.1" opacity="0.56"/>
<line x1="32.6" y1="129.0" x2="33.7" y2="125.1" stroke="#dcb870" stroke-width="1.2" opacity="0.58"/>
<line x1="153.6" y1="150.5" x2="154.2" y2="146.1" stroke="#c89848" stroke-width="1.3" opacity="0.63"/>
<line x1="2.6" y1="76.4" x2="1.1" y2="73.9" stroke="#f4e4b8" stroke-width="0.8" opacity="0.46"/>
<line x1="139.9" y1="124.6" x2="140.1" y2="120.9" stroke="#c89848" stroke-width="1.1" opacity="0.57"/>
<line x1="90.4" y1="112.2" x2="90.9" y2="108.8" stroke="#7a5420" stroke-width="1.1" opacity="0.54"/>
<line x1="160.6" y1="70.1" x2="161.3" y2="67.8" stroke="#ecd498" stroke-width="0.8" opacity="0.44"/>
<line x1="112.0" y1="85.2" x2="113.0" y2="82.5" stroke="#ecd498" stroke-width="0.9" opacity="0.48"/>
<line x1="73.7" y1="43.4" x2="74.4" y2="41.8" stroke="#ecd498" stroke-width="0.6" opacity="0.38"/>
<line x1="58.9" y1="145.8" x2="61.5" y2="141.5" stroke="#f4e4b8" stroke-width="1.3" opacity="0.62"/>
<line x1="147.7" y1="134.1" x2="149.6" y2="130.1" stroke="#f4e4b8" stroke-width="1.2" opacity="0.59"/>
<line x1="158.2" y1="141.3" x2="158.5" y2="137.2" stroke="#7a5420" stroke-width="1.3" opacity="0.60"/>
<line x1="82.3" y1="57.4" x2="82.6" y2="55.5" stroke="#dcb870" stroke-width="0.7" opacity="0.41"/>
<line x1="151.9" y1="55.3" x2="152.9" y2="53.4" stroke="#dcb870" stroke-width="0.7" opacity="0.41"/>
<line x1="158.8" y1="87.2" x2="159.6" y2="84.5" stroke="#c89848" stroke-width="0.9" opacity="0.48"/>
<line x1="26.1" y1="147.4" x2="24.2" y2="143.1" stroke="#f4e4b8" stroke-width="1.3" opacity="0.62"/>
<line x1="2.1" y1="58.0" x2="2.2" y2="56.1" stroke="#7a5420" stroke-width="0.7" opacity="0.41"/>
<line x1="4.5" y1="136.5" x2="4.3" y2="132.5" stroke="#ecd498" stroke-width="1.2" opacity="0.59"/>
<line x1="7.0" y1="146.5" x2="9.1" y2="142.2" stroke="#7a5420" stroke-width="1.3" opacity="0.62"/>
<line x1="139.1" y1="74.3" x2="140.2" y2="72.0" stroke="#7a5420" stroke-width="0.8" opacity="0.45"/>
<line x1="78.5" y1="113.8" x2="76.5" y2="110.3" stroke="#9a7028" stroke-width="1.1" opacity="0.54"/>
<line x1="33.1" y1="76.5" x2="31.9" y2="74.0" stroke="#ecd498" stroke-width="0.8" opacity="0.46"/>
<line x1="142.2" y1="153.8" x2="141.9" y2="149.3" stroke="#f4e4b8" stroke-width="1.4" opacity="0.63"/>
<line x1="94.9" y1="113.4" x2="96.6" y2="109.9" stroke="#c89848" stroke-width="1.1" opacity="0.54"/>
<line x1="123.4" y1="104.7" x2="121.7" y2="101.5" stroke="#c89848" stroke-width="1.0" opacity="0.52"/>
<line x1="76.2" y1="82.4" x2="77.4" y2="79.8" stroke="#c89848" stroke-width="0.9" opacity="0.47"/>
<line x1="160.4" y1="123.9" x2="161.2" y2="120.2" stroke="#f4e4b8" stroke-width="1.1" opacity="0.57"/>
<line x1="76.4" y1="48.6" x2="76.6" y2="46.9" stroke="#f4e4b8" stroke-width="0.6" opacity="0.39"/>
<line x1="10.2" y1="61.3" x2="9.0" y2="59.2" stroke="#9a7028" stroke-width="0.7" opacity="0.42"/>
<line x1="91.7" y1="127.6" x2="92.3" y2="123.8" stroke="#9a7028" stroke-width="1.2" opacity="0.57"/>
<line x1="120.1" y1="35.0" x2="120.8" y2="33.7" stroke="#ecd498" stroke-width="0.5" opacity="0.36"/>
<line x1="32.4" y1="30.1" x2="31.8" y2="28.9" stroke="#f4e4b8" stroke-width="0.5" opacity="0.35"/>
<line x1="39.0" y1="151.9" x2="40.4" y2="147.5" stroke="#9a7028" stroke-width="1.3" opacity="0.63"/>
<line x1="7.2" y1="102.9" x2="8.7" y2="99.7" stroke="#7a5420" stroke-width="1.0" opacity="0.52"/>
<line x1="42.6" y1="50.1" x2="42.6" y2="48.4" stroke="#ecd498" stroke-width="0.6" opacity="0.40"/>
<line x1="154.9" y1="129.5" x2="153.1" y2="125.6" stroke="#c89848" stroke-width="1.2" opacity="0.58"/>
<line x1="23.2" y1="99.3" x2="23.3" y2="96.3" stroke="#7a5420" stroke-width="1.0" opacity="0.51"/>
<line x1="17.1" y1="133.1" x2="19.1" y2="129.1" stroke="#f4e4b8" stroke-width="1.2" opacity="0.59"/>
<line x1="0.4" y1="141.5" x2="1.1" y2="137.4" stroke="#7a5420" stroke-width="1.3" opacity="0.61"/>
<line x1="13.9" y1="103.6" x2="14.2" y2="100.4" stroke="#7a5420" stroke-width="1.0" opacity="0.52"/>
<line x1="129.5" y1="40.2" x2="129.8" y2="38.7" stroke="#ecd498" stroke-width="0.6" opacity="0.37"/>
<line x1="99.6" y1="89.9" x2="98.0" y2="87.1" stroke="#c89848" stroke-width="0.9" opacity="0.49"/>
<line x1="120.7" y1="33.2" x2="121.2" y2="31.9" stroke="#7a5420" stroke-width="0.5" opacity="0.36"/>
<line x1="74.2" y1="46.0" x2="74.7" y2="44.4" stroke="#c89848" stroke-width="0.6" opacity="0.39"/>
<line x1="108.8" y1="158.8" x2="111.5" y2="154.2" stroke="#7a5420" stroke-width="1.4" opacity="0.64"/>
<line x1="88.5" y1="76.2" x2="87.3" y2="73.7" stroke="#ecd498" stroke-width="0.8" opacity="0.46"/>
<line x1="38.7" y1="145.5" x2="36.6" y2="141.2" stroke="#ecd498" stroke-width="1.3" opacity="0.61"/>
<line x1="44.4" y1="70.5" x2="43.4" y2="68.2" stroke="#dcb870" stroke-width="0.8" opacity="0.44"/>
<line x1="98.2" y1="158.2" x2="95.5" y2="153.6" stroke="#9a7028" stroke-width="1.4" opacity="0.64"/>
<line x1="12.1" y1="44.9" x2="12.7" y2="43.3" stroke="#c89848" stroke-width="0.6" opacity="0.38"/>
<line x1="34.6" y1="80.5" x2="35.9" y2="77.9" stroke="#f4e4b8" stroke-width="0.8" opacity="0.47"/>
<line x1="93.1" y1="57.6" x2="93.7" y2="55.7" stroke="#c89848" stroke-width="0.7" opacity="0.41"/>
<line x1="12.9" y1="32.8" x2="13.3" y2="31.5" stroke="#ecd498" stroke-width="0.5" opacity="0.36"/>
<line x1="5.0" y1="119.2" x2="6.3" y2="115.6" stroke="#f4e4b8" stroke-width="1.1" opacity="0.55"/>
<line x1="8.9" y1="111.1" x2="8.6" y2="107.7" stroke="#dcb870" stroke-width="1.1" opacity="0.54"/>
<line x1="114.5" y1="63.1" x2="115.3" y2="61.0" stroke="#dcb870" stroke-width="0.7" opacity="0.43"/>
<line x1="4.6" y1="80.1" x2="4.4" y2="77.5" stroke="#9a7028" stroke-width="0.8" opacity="0.46"/>
<line x1="158.9" y1="115.7" x2="160.0" y2="112.2" stroke="#f4e4b8" stroke-width="1.1" opacity="0.55"/>
<line x1="135.6" y1="160.2" x2="134.3" y2="155.6" stroke="#dcb870" stroke-width="1.4" opacity="0.65"/>
<line x1="40.5" y1="84.0" x2="40.0" y2="81.4" stroke="#ecd498" stroke-width="0.9" opacity="0.47"/>
<line x1="88.1" y1="76.7" x2="86.7" y2="74.3" stroke="#dcb870" stroke-width="0.8" opacity="0.46"/>
<line x1="124.9" y1="61.3" x2="125.6" y2="59.2" stroke="#dcb870" stroke-width="0.7" opacity="0.42"/>
<line x1="86.2" y1="43.7" x2="86.0" y2="42.2" stroke="#dcb870" stroke-width="0.6" opacity="0.38"/>
<line x1="54.6" y1="38.4" x2="55.4" y2="37.0" stroke="#ecd498" stroke-width="0.6" opacity="0.37"/>
<line x1="26.1" y1="99.6" x2="26.7" y2="96.5" stroke="#c89848" stroke-width="1.0" opacity="0.51"/>
<line x1="39.7" y1="150.2" x2="40.7" y2="145.8" stroke="#7a5420" stroke-width="1.3" opacity="0.63"/>
<line x1="156.7" y1="41.7" x2="156.2" y2="40.2" stroke="#9a7028" stroke-width="0.6" opacity="0.38"/>
<line x1="122.3" y1="146.0" x2="121.1" y2="141.7" stroke="#c89848" stroke-width="1.3" opacity="0.62"/>
<line x1="116.0" y1="159.7" x2="116.6" y2="155.0" stroke="#9a7028" stroke-width="1.4" opacity="0.65"/>
<line x1="99.5" y1="51.8" x2="99.1" y2="50.0" stroke="#c89848" stroke-width="0.6" opacity="0.40"/>
<line x1="63.3" y1="74.8" x2="62.2" y2="72.4" stroke="#ecd498" stroke-width="0.8" opacity="0.45"/>
<line x1="140.3" y1="114.0" x2="142.3" y2="110.5" stroke="#7a5420" stroke-width="1.1" opacity="0.54"/>
<line x1="104.2" y1="107.4" x2="102.5" y2="104.2" stroke="#c89848" stroke-width="1.0" opacity="0.53"/>
<line x1="11.0" y1="81.2" x2="9.7" y2="78.7" stroke="#ecd498" stroke-width="0.9" opacity="0.47"/>
<line x1="10.8" y1="31.9" x2="10.2" y2="30.7" stroke="#dcb870" stroke-width="0.5" opacity="0.35"/>
<line x1="90.3" y1="124.6" x2="92.4" y2="120.9" stroke="#c89848" stroke-width="1.2" opacity="0.57"/>
<line x1="111.4" y1="65.8" x2="110.5" y2="63.7" stroke="#f4e4b8" stroke-width="0.7" opacity="0.43"/>
<line x1="16.2" y1="69.7" x2="16.7" y2="67.5" stroke="#f4e4b8" stroke-width="0.8" opacity="0.44"/>
<line x1="28.1" y1="159.6" x2="30.1" y2="154.9" stroke="#ecd498" stroke-width="1.4" opacity="0.65"/>
<line x1="74.6" y1="72.3" x2="73.3" y2="69.9" stroke="#9a7028" stroke-width="0.8" opacity="0.45"/>
<line x1="134.3" y1="59.6" x2="135.0" y2="57.6" stroke="#9a7028" stroke-width="0.7" opacity="0.42"/>
<line x1="108.7" y1="66.4" x2="109.6" y2="64.2" stroke="#ecd498" stroke-width="0.7" opacity="0.43"/>
<line x1="11.8" y1="41.7" x2="12.1" y2="40.2" stroke="#c89848" stroke-width="0.6" opacity="0.38"/>
<line x1="50.5" y1="64.5" x2="49.6" y2="62.3" stroke="#ecd498" stroke-width="0.7" opacity="0.43"/>
<line x1="15.7" y1="158.7" x2="14.4" y2="154.1" stroke="#f4e4b8" stroke-width="1.4" opacity="0.64"/>
<line x1="14.4" y1="106.5" x2="12.7" y2="103.2" stroke="#ecd498" stroke-width="1.0" opacity="0.53"/>
<line x1="2.4" y1="141.7" x2="4.6" y2="137.5" stroke="#9a7028" stroke-width="1.3" opacity="0.61"/>
<line x1="57.6" y1="101.0" x2="56.2" y2="97.9" stroke="#9a7028" stroke-width="1.0" opacity="0.51"/>
<line x1="127.7" y1="63.0" x2="126.8" y2="60.9" stroke="#dcb870" stroke-width="0.7" opacity="0.43"/>
<line x1="107.4" y1="144.3" x2="106.3" y2="140.0" stroke="#9a7028" stroke-width="1.3" opacity="0.61"/>
<line x1="61.7" y1="130.2" x2="62.4" y2="126.3" stroke="#9a7028" stroke-width="1.2" opacity="0.58"/>
<line x1="143.6" y1="129.9" x2="142.4" y2="126.0" stroke="#dcb870" stroke-width="1.2" opacity="0.58"/>
<line x1="144.6" y1="64.4" x2="143.5" y2="62.3" stroke="#ecd498" stroke-width="0.7" opacity="0.43"/>
<line x1="107.5" y1="139.6" x2="106.4" y2="135.4" stroke="#9a7028" stroke-width="1.3" opacity="0.60"/>
<line x1="76.6" y1="93.9" x2="76.4" y2="90.9" stroke="#ecd498" stroke-width="0.9" opacity="0.50"/>
<line x1="115.3" y1="42.3" x2="115.2" y2="40.8" stroke="#ecd498" stroke-width="0.6" opacity="0.38"/>
<line x1="149.5" y1="149.2" x2="149.2" y2="144.8" stroke="#f4e4b8" stroke-width="1.3" opacity="0.62"/>
<line x1="19.2" y1="38.9" x2="19.1" y2="37.5" stroke="#dcb870" stroke-width="0.6" opacity="0.37"/>
<line x1="38.7" y1="74.3" x2="37.5" y2="72.0" stroke="#ecd498" stroke-width="0.8" opacity="0.45"/>
<line x1="36.0" y1="127.5" x2="36.5" y2="123.7" stroke="#7a5420" stroke-width="1.2" opacity="0.57"/>
<line x1="162.0" y1="151.6" x2="159.9" y2="147.2" stroke="#f4e4b8" stroke-width="1.3" opacity="0.63"/>
<line x1="152.9" y1="98.8" x2="153.0" y2="95.7" stroke="#9a7028" stroke-width="1.0" opacity="0.51"/>
<line x1="82.7" y1="71.4" x2="81.5" y2="69.1" stroke="#ecd498" stroke-width="0.8" opacity="0.44"/>
<line x1="43.0" y1="151.1" x2="44.5" y2="146.6" stroke="#f4e4b8" stroke-width="1.3" opacity="0.63"/>
<line x1="21.3" y1="135.7" x2="20.5" y2="131.7" stroke="#c89848" stroke-width="1.2" opacity="0.59"/>
<line x1="33.3" y1="116.8" x2="31.4" y2="113.3" stroke="#dcb870" stroke-width="1.1" opacity="0.55"/>
<line x1="114.0" y1="92.2" x2="112.9" y2="89.4" stroke="#dcb870" stroke-width="0.9" opacity="0.49"/>
<line x1="1.8" y1="115.5" x2="3.4" y2="112.1" stroke="#7a5420" stroke-width="1.1" opacity="0.55"/>
<line x1="104.3" y1="120.0" x2="104.4" y2="116.4" stroke="#ecd498" stroke-width="1.1" opacity="0.56"/>
<line x1="37.9" y1="95.4" x2="36.6" y2="92.4" stroke="#7a5420" stroke-width="0.9" opacity="0.50"/>
<line x1="59.0" y1="80.7" x2="59.8" y2="78.2" stroke="#dcb870" stroke-width="0.8" opacity="0.47"/>
<line x1="138.9" y1="78.2" x2="137.9" y2="75.7" stroke="#c89848" stroke-width="0.8" opacity="0.46"/>
<line x1="36.8" y1="108.3" x2="35.1" y2="105.0" stroke="#c89848" stroke-width="1.0" opacity="0.53"/>
<line x1="35.1" y1="34.7" x2="35.9" y2="33.4" stroke="#f4e4b8" stroke-width="0.5" opacity="0.36"/>
<line x1="136.0" y1="69.9" x2="136.2" y2="67.6" stroke="#dcb870" stroke-width="0.8" opacity="0.44"/>
<line x1="152.2" y1="82.7" x2="151.1" y2="80.1" stroke="#c89848" stroke-width="0.9" opacity="0.47"/>
<line x1="58.3" y1="93.4" x2="58.2" y2="90.5" stroke="#ecd498" stroke-width="0.9" opacity="0.50"/>
<line x1="82.9" y1="154.2" x2="83.8" y2="149.7" stroke="#f4e4b8" stroke-width="1.4" opacity="0.63"/>
<line x1="34.4" y1="148.7" x2="36.1" y2="144.3" stroke="#9a7028" stroke-width="1.3" opacity="0.62"/>
<line x1="32.7" y1="160.9" x2="31.4" y2="156.2" stroke="#f4e4b8" stroke-width="1.4" opacity="0.65"/>
<line x1="157.9" y1="129.0" x2="157.5" y2="125.2" stroke="#ecd498" stroke-width="1.2" opacity="0.58"/>
<line x1="55.6" y1="117.6" x2="55.9" y2="114.1" stroke="#ecd498" stroke-width="1.1" opacity="0.55"/>
<line x1="124.7" y1="61.2" x2="123.9" y2="59.2" stroke="#ecd498" stroke-width="0.7" opacity="0.42"/>
<line x1="131.5" y1="109.5" x2="131.7" y2="106.1" stroke="#f4e4b8" stroke-width="1.0" opacity="0.53"/>
<line x1="115.3" y1="48.0" x2="115.4" y2="46.4" stroke="#9a7028" stroke-width="0.6" opacity="0.39"/>
<line x1="44.4" y1="84.5" x2="46.0" y2="81.8" stroke="#9a7028" stroke-width="0.9" opacity="0.47"/>
<line x1="21.9" y1="72.1" x2="21.0" y2="69.8" stroke="#ecd498" stroke-width="0.8" opacity="0.45"/>
<line x1="68.5" y1="40.5" x2="69.0" y2="39.0" stroke="#f4e4b8" stroke-width="0.6" opacity="0.37"/>
<line x1="41.0" y1="104.7" x2="42.4" y2="101.5" stroke="#9a7028" stroke-width="1.0" opacity="0.52"/>
<line x1="155.0" y1="65.2" x2="154.8" y2="63.1" stroke="#c89848" stroke-width="0.7" opacity="0.43"/>
<line x1="8.4" y1="149.8" x2="10.8" y2="145.4" stroke="#ecd498" stroke-width="1.3" opacity="0.62"/>
<line x1="146.4" y1="39.2" x2="147.1" y2="37.8" stroke="#9a7028" stroke-width="0.6" opacity="0.37"/>
<line x1="68.1" y1="99.3" x2="69.2" y2="96.3" stroke="#dcb870" stroke-width="1.0" opacity="0.51"/>
<line x1="105.9" y1="97.2" x2="105.7" y2="94.2" stroke="#ecd498" stroke-width="1.0" opacity="0.50"/>
<line x1="80.9" y1="99.5" x2="82.0" y2="96.4" stroke="#c89848" stroke-width="1.0" opacity="0.51"/>
<line x1="145.6" y1="156.1" x2="145.2" y2="151.5" stroke="#9a7028" stroke-width="1.4" opacity="0.64"/>
<line x1="95.9" y1="63.2" x2="95.1" y2="61.1" stroke="#f4e4b8" stroke-width="0.7" opacity="0.43"/>
<line x1="112.1" y1="63.5" x2="111.9" y2="61.4" stroke="#9a7028" stroke-width="0.7" opacity="0.43"/>
<line x1="154.9" y1="63.7" x2="155.4" y2="61.6" stroke="#ecd498" stroke-width="0.7" opacity="0.43"/>
<line x1="9.2" y1="119.4" x2="10.0" y2="115.8" stroke="#9a7028" stroke-width="1.1" opacity="0.55"/>
<line x1="129.5" y1="31.3" x2="129.3" y2="30.0" stroke="#f4e4b8" stroke-width="0.5" opacity="0.35"/>
<line x1="123.2" y1="155.2" x2="123.1" y2="150.7" stroke="#9a7028" stroke-width="1.4" opacity="0.64"/>
<line x1="52.5" y1="157.2" x2="50.3" y2="152.6" stroke="#f4e4b8" stroke-width="1.4" opacity="0.64"/>
<line x1="157.3" y1="101.1" x2="159.0" y2="98.0" stroke="#f4e4b8" stroke-width="1.0" opacity="0.51"/>
<line x1="145.8" y1="60.5" x2="146.3" y2="58.4" stroke="#c89848" stroke-width="0.7" opacity="0.42"/>
<line x1="61.6" y1="94.8" x2="60.3" y2="91.8" stroke="#dcb870" stroke-width="0.9" opacity="0.50"/>
<line x1="36.1" y1="58.2" x2="35.1" y2="56.2" stroke="#dcb870" stroke-width="0.7" opacity="0.41"/>
<line x1="82.6" y1="145.9" x2="82.2" y2="141.6" stroke="#7a5420" stroke-width="1.3" opacity="0.62"/>
<line x1="12.6" y1="106.3" x2="12.9" y2="103.0" stroke="#dcb870" stroke-width="1.0" opacity="0.52"/>
<line x1="57.6" y1="122.3" x2="56.8" y2="118.6" stroke="#f4e4b8" stroke-width="1.1" opacity="0.56"/>
<line x1="131.4" y1="120.8" x2="132.2" y2="117.2" stroke="#c89848" stroke-width="1.1" opacity="0.56"/>
<line x1="26.1" y1="78.4" x2="26.9" y2="75.9" stroke="#c89848" stroke-width="0.8" opacity="0.46"/>
<line x1="135.4" y1="114.1" x2="134.3" y2="110.7" stroke="#c89848" stroke-width="1.1" opacity="0.54"/>
<line x1="95.9" y1="130.7" x2="97.2" y2="126.8" stroke="#dcb870" stroke-width="1.2" opacity="0.58"/>
<line x1="48.7" y1="63.5" x2="49.0" y2="61.4" stroke="#ecd498" stroke-width="0.7" opacity="0.43"/>
<line x1="137.6" y1="144.6" x2="135.3" y2="140.4" stroke="#7a5420" stroke-width="1.3" opacity="0.61"/>
<line x1="145.3" y1="108.0" x2="146.2" y2="104.7" stroke="#f4e4b8" stroke-width="1.0" opacity="0.53"/>
<line x1="44.1" y1="39.2" x2="44.7" y2="37.7" stroke="#ecd498" stroke-width="0.6" opacity="0.37"/>
<line x1="13.9" y1="62.6" x2="13.2" y2="60.5" stroke="#9a7028" stroke-width="0.7" opacity="0.42"/>
<line x1="43.0" y1="123.2" x2="40.8" y2="119.5" stroke="#9a7028" stroke-width="1.1" opacity="0.56"/>
<line x1="18.5" y1="152.4" x2="16.6" y2="148.0" stroke="#9a7028" stroke-width="1.3" opacity="0.63"/>
<line x1="54.3" y1="98.4" x2="53.6" y2="95.4" stroke="#dcb870" stroke-width="1.0" opacity="0.51"/>
<line x1="121.1" y1="144.6" x2="118.8" y2="140.3" stroke="#dcb870" stroke-width="1.3" opacity="0.61"/>
<line x1="13.6" y1="51.3" x2="12.7" y2="49.5" stroke="#ecd498" stroke-width="0.6" opacity="0.40"/>
<line x1="8.5" y1="157.5" x2="10.1" y2="152.9" stroke="#9a7028" stroke-width="1.4" opacity="0.64"/>
<line x1="118.1" y1="74.8" x2="117.0" y2="72.4" stroke="#f4e4b8" stroke-width="0.8" opacity="0.45"/>
<line x1="98.0" y1="159.6" x2="99.4" y2="155.0" stroke="#ecd498" stroke-width="1.4" opacity="0.65"/>
<line x1="135.9" y1="85.4" x2="136.6" y2="82.7" stroke="#dcb870" stroke-width="0.9" opacity="0.48"/>
<line x1="37.2" y1="134.4" x2="35.2" y2="130.4" stroke="#f4e4b8" stroke-width="1.2" opacity="0.59"/>
<line x1="95.0" y1="55.1" x2="94.9" y2="53.2" stroke="#c89848" stroke-width="0.7" opacity="0.41"/>
<line x1="75.9" y1="136.7" x2="73.9" y2="132.7" stroke="#7a5420" stroke-width="1.2" opacity="0.59"/>
<line x1="107.5" y1="104.0" x2="105.6" y2="100.8" stroke="#9a7028" stroke-width="1.0" opacity="0.52"/>
<line x1="151.2" y1="58.3" x2="151.1" y2="56.3" stroke="#c89848" stroke-width="0.7" opacity="0.41"/>
<line x1="121.6" y1="95.7" x2="121.8" y2="92.7" stroke="#7a5420" stroke-width="1.0" opacity="0.50"/>
<line x1="117.4" y1="34.0" x2="116.6" y2="32.7" stroke="#c89848" stroke-width="0.5" opacity="0.36"/>
<line x1="83.1" y1="57.7" x2="83.5" y2="55.8" stroke="#c89848" stroke-width="0.7" opacity="0.41"/>
<line x1="99.6" y1="148.1" x2="102.1" y2="143.8" stroke="#9a7028" stroke-width="1.3" opacity="0.62"/>
<line x1="161.2" y1="147.7" x2="159.5" y2="143.4" stroke="#9a7028" stroke-width="1.3" opacity="0.62"/>
<line x1="36.7" y1="131.0" x2="37.7" y2="127.1" stroke="#c89848" stroke-width="1.2" opacity="0.58"/>
<line x1="155.3" y1="134.1" x2="154.8" y2="130.1" stroke="#dcb870" stroke-width="1.2" opacity="0.59"/>
<line x1="84.7" y1="70.1" x2="84.2" y2="67.9" stroke="#7a5420" stroke-width="0.8" opacity="0.44"/>
<line x1="47.5" y1="72.6" x2="46.6" y2="70.2" stroke="#9a7028" stroke-width="0.8" opacity="0.45"/>
<line x1="150.9" y1="144.9" x2="148.5" y2="140.7" stroke="#f4e4b8" stroke-width="1.3" opacity="0.61"/>
<line x1="51.9" y1="132.8" x2="52.0" y2="128.9" stroke="#c89848" stroke-width="1.2" opacity="0.59"/>
<line x1="58.8" y1="123.8" x2="57.9" y2="120.1" stroke="#7a5420" stroke-width="1.1" opacity="0.56"/>
<line x1="12.1" y1="116.3" x2="11.7" y2="112.8" stroke="#7a5420" stroke-width="1.1" opacity="0.55"/>
<line x1="78.3" y1="63.1" x2="78.4" y2="61.0" stroke="#c89848" stroke-width="0.7" opacity="0.43"/>
<line x1="72.8" y1="141.7" x2="72.4" y2="137.5" stroke="#c89848" stroke-width="1.3" opacity="0.61"/>
<line x1="114.2" y1="100.1" x2="115.8" y2="97.0" stroke="#c89848" stroke-width="1.0" opacity="0.51"/>
<line x1="100.2" y1="43.7" x2="99.5" y2="42.2" stroke="#f4e4b8" stroke-width="0.6" opacity="0.38"/>
<line x1="149.4" y1="47.4" x2="148.7" y2="45.8" stroke="#7a5420" stroke-width="0.6" opacity="0.39"/>
<line x1="75.5" y1="111.1" x2="76.1" y2="107.8" stroke="#dcb870" stroke-width="1.1" opacity="0.54"/>
<line x1="138.1" y1="116.5" x2="137.8" y2="113.0" stroke="#dcb870" stroke-width="1.1" opacity="0.55"/>
<line x1="13.9" y1="81.6" x2="14.6" y2="79.0" stroke="#ecd498" stroke-width="0.9" opacity="0.47"/>
<line x1="119.2" y1="34.2" x2="118.7" y2="32.9" stroke="#c89848" stroke-width="0.5" opacity="0.36"/>
<line x1="17.3" y1="39.3" x2="17.8" y2="37.8" stroke="#9a7028" stroke-width="0.6" opacity="0.37"/>
<line x1="97.8" y1="83.2" x2="96.8" y2="80.6" stroke="#9a7028" stroke-width="0.9" opacity="0.47"/>
<line x1="123.9" y1="85.8" x2="123.5" y2="83.1" stroke="#dcb870" stroke-width="0.9" opacity="0.48"/>
<line x1="144.4" y1="90.0" x2="143.1" y2="87.2" stroke="#7a5420" stroke-width="0.9" opacity="0.49"/>
<line x1="42.1" y1="127.0" x2="43.9" y2="123.2" stroke="#c89848" stroke-width="1.2" opacity="0.57"/>
<line x1="76.6" y1="155.3" x2="78.3" y2="150.7" stroke="#7a5420" stroke-width="1.4" opacity="0.64"/>
<line x1="122.9" y1="81.5" x2="123.6" y2="78.9" stroke="#9a7028" stroke-width="0.9" opacity="0.47"/>
<line x1="21.0" y1="55.4" x2="20.1" y2="53.5" stroke="#f4e4b8" stroke-width="0.7" opacity="0.41"/>
<line x1="131.8" y1="74.4" x2="130.4" y2="72.0" stroke="#9a7028" stroke-width="0.8" opacity="0.45"/>
<line x1="83.1" y1="136.7" x2="81.4" y2="132.6" stroke="#c89848" stroke-width="1.2" opacity="0.59"/>
<line x1="138.4" y1="72.1" x2="139.1" y2="69.8" stroke="#9a7028" stroke-width="0.8" opacity="0.45"/>
<line x1="137.5" y1="119.4" x2="137.1" y2="115.8" stroke="#c89848" stroke-width="1.1" opacity="0.55"/>
<line x1="133.1" y1="143.1" x2="132.3" y2="138.8" stroke="#7a5420" stroke-width="1.3" opacity="0.61"/>
<line x1="127.6" y1="63.3" x2="128.6" y2="61.2" stroke="#ecd498" stroke-width="0.7" opacity="0.43"/>
<line x1="154.2" y1="72.8" x2="155.1" y2="70.5" stroke="#dcb870" stroke-width="0.8" opacity="0.45"/>
<line x1="43.1" y1="77.9" x2="43.4" y2="75.4" stroke="#dcb870" stroke-width="0.8" opacity="0.46"/>
<line x1="63.9" y1="67.2" x2="62.6" y2="65.0" stroke="#9a7028" stroke-width="0.8" opacity="0.44"/>
<line x1="109.5" y1="129.1" x2="110.7" y2="125.2" stroke="#7a5420" stroke-width="1.2" opacity="0.58"/>
<line x1="39.6" y1="150.5" x2="42.2" y2="146.0" stroke="#ecd498" stroke-width="1.3" opacity="0.63"/>
<line x1="117.9" y1="128.9" x2="116.8" y2="125.0" stroke="#dcb870" stroke-width="1.2" opacity="0.58"/>
<line x1="106.3" y1="79.9" x2="105.1" y2="77.3" stroke="#dcb870" stroke-width="0.8" opacity="0.46"/>
<line x1="87.3" y1="74.1" x2="86.9" y2="71.7" stroke="#ecd498" stroke-width="0.8" opacity="0.45"/>
<line x1="136.7" y1="141.1" x2="138.5" y2="136.9" stroke="#9a7028" stroke-width="1.3" opacity="0.60"/>
<line x1="154.7" y1="144.4" x2="155.4" y2="140.1" stroke="#7a5420" stroke-width="1.3" opacity="0.61"/>
<line x1="7.8" y1="144.0" x2="10.2" y2="139.7" stroke="#7a5420" stroke-width="1.3" opacity="0.61"/>
<line x1="153.3" y1="91.6" x2="154.2" y2="88.8" stroke="#f4e4b8" stroke-width="0.9" opacity="0.49"/>
<line x1="140.9" y1="58.1" x2="140.6" y2="56.1" stroke="#dcb870" stroke-width="0.7" opacity="0.41"/>
<line x1="10.4" y1="45.5" x2="11.2" y2="43.9" stroke="#ecd498" stroke-width="0.6" opacity="0.39"/>
<line x1="4.1" y1="78.5" x2="2.8" y2="76.0" stroke="#7a5420" stroke-width="0.8" opacity="0.46"/>
<line x1="120.1" y1="56.0" x2="120.4" y2="54.1" stroke="#f4e4b8" stroke-width="0.7" opacity="0.41"/>
<line x1="50.4" y1="92.4" x2="49.8" y2="89.6" stroke="#f4e4b8" stroke-width="0.9" opacity="0.49"/>
<line x1="102.4" y1="147.2" x2="101.5" y2="142.9" stroke="#f4e4b8" stroke-width="1.3" opacity="0.62"/>
<line x1="55.9" y1="139.9" x2="57.7" y2="135.8" stroke="#c89848" stroke-width="1.3" opacity="0.60"/>
<line x1="92.9" y1="43.9" x2="93.8" y2="42.3" stroke="#7a5420" stroke-width="0.6" opacity="0.38"/>
<line x1="145.2" y1="39.0" x2="145.0" y2="37.5" stroke="#f4e4b8" stroke-width="0.6" opacity="0.37"/>
<line x1="142.6" y1="117.2" x2="141.4" y2="113.7" stroke="#9a7028" stroke-width="1.1" opacity="0.55"/>
<line x1="87.9" y1="151.5" x2="89.0" y2="147.1" stroke="#c89848" stroke-width="1.3" opacity="0.63"/>
<line x1="20.2" y1="149.8" x2="20.0" y2="145.4" stroke="#ecd498" stroke-width="1.3" opacity="0.62"/>
<line x1="92.2" y1="33.1" x2="92.1" y2="31.8" stroke="#9a7028" stroke-width="0.5" opacity="0.36"/>
<line x1="15.0" y1="98.6" x2="16.0" y2="95.6" stroke="#7a5420" stroke-width="1.0" opacity="0.51"/>
<line x1="57.8" y1="59.1" x2="58.0" y2="57.1" stroke="#c89848" stroke-width="0.7" opacity="0.42"/>
<line x1="9.4" y1="78.0" x2="9.2" y2="75.6" stroke="#c89848" stroke-width="0.8" opacity="0.46"/>
<line x1="61.7" y1="123.0" x2="60.3" y2="119.3" stroke="#f4e4b8" stroke-width="1.1" opacity="0.56"/>
<line x1="48.9" y1="73.1" x2="50.2" y2="70.8" stroke="#c89848" stroke-width="0.8" opacity="0.45"/>
<line x1="79.6" y1="128.5" x2="80.4" y2="124.7" stroke="#ecd498" stroke-width="1.2" opacity="0.58"/>
<line x1="23.2" y1="155.3" x2="25.4" y2="150.8" stroke="#7a5420" stroke-width="1.4" opacity="0.64"/>
<line x1="26.6" y1="32.3" x2="26.7" y2="31.0" stroke="#c89848" stroke-width="0.5" opacity="0.36"/>
<line x1="123.0" y1="143.8" x2="120.8" y2="139.5" stroke="#dcb870" stroke-width="1.3" opacity="0.61"/>
<line x1="9.0" y1="96.1" x2="10.2" y2="93.2" stroke="#7a5420" stroke-width="1.0" opacity="0.50"/>
<line x1="115.7" y1="123.3" x2="115.8" y2="119.6" stroke="#9a7028" stroke-width="1.1" opacity="0.56"/>
<line x1="151.1" y1="103.4" x2="149.8" y2="100.2" stroke="#9a7028" stroke-width="1.0" opacity="0.52"/>
<line x1="71.0" y1="34.0" x2="71.2" y2="32.7" stroke="#9a7028" stroke-width="0.5" opacity="0.36"/>
<line x1="42.0" y1="66.2" x2="41.2" y2="64.0" stroke="#f4e4b8" stroke-width="0.7" opacity="0.43"/>
<line x1="101.8" y1="37.1" x2="102.3" y2="35.7" stroke="#ecd498" stroke-width="0.5" opacity="0.37"/>
<line x1="146.3" y1="51.7" x2="146.4" y2="49.9" stroke="#9a7028" stroke-width="0.6" opacity="0.40"/>
<line x1="37.6" y1="137.7" x2="38.1" y2="133.6" stroke="#9a7028" stroke-width="1.2" opacity="0.60"/>
<line x1="146.5" y1="56.5" x2="147.0" y2="54.6" stroke="#7a5420" stroke-width="0.7" opacity="0.41"/>
<line x1="17.8" y1="90.6" x2="18.5" y2="87.7" stroke="#7a5420" stroke-width="0.9" opacity="0.49"/>
<line x1="44.2" y1="139.8" x2="41.9" y2="135.7" stroke="#7a5420" stroke-width="1.3" opacity="0.60"/>
<line x1="152.9" y1="88.0" x2="154.2" y2="85.2" stroke="#ecd498" stroke-width="0.9" opacity="0.48"/>
<line x1="145.4" y1="103.3" x2="144.1" y2="100.1" stroke="#f4e4b8" stroke-width="1.0" opacity="0.52"/>
<line x1="74.5" y1="113.7" x2="73.8" y2="110.2" stroke="#7a5420" stroke-width="1.1" opacity="0.54"/>
<line x1="124.2" y1="62.1" x2="123.5" y2="60.1" stroke="#9a7028" stroke-width="0.7" opacity="0.42"/>
<line x1="140.8" y1="76.7" x2="140.2" y2="74.3" stroke="#f4e4b8" stroke-width="0.8" opacity="0.46"/>
<line x1="26.2" y1="58.6" x2="25.4" y2="56.7" stroke="#ecd498" stroke-width="0.7" opacity="0.42"/>
<line x1="95.5" y1="46.3" x2="94.9" y2="44.7" stroke="#dcb870" stroke-width="0.6" opacity="0.39"/>
<line x1="77.7" y1="87.6" x2="77.7" y2="84.9" stroke="#7a5420" stroke-width="0.9" opacity="0.48"/>
<line x1="153.1" y1="91.8" x2="153.0" y2="88.9" stroke="#9a7028" stroke-width="0.9" opacity="0.49"/>
<line x1="82.5" y1="95.5" x2="80.9" y2="92.6" stroke="#9a7028" stroke-width="1.0" opacity="0.50"/>
<line x1="113.6" y1="156.7" x2="111.4" y2="152.1" stroke="#f4e4b8" stroke-width="1.4" opacity="0.64"/>
<line x1="118.9" y1="74.0" x2="119.5" y2="71.6" stroke="#c89848" stroke-width="0.8" opacity="0.45"/>
<line x1="63.5" y1="50.0" x2="63.6" y2="48.2" stroke="#7a5420" stroke-width="0.6" opacity="0.40"/>
<line x1="6.7" y1="132.8" x2="6.1" y2="128.8" stroke="#f4e4b8" stroke-width="1.2" opacity="0.59"/>
<line x1="102.1" y1="150.5" x2="104.5" y2="146.1" stroke="#f4e4b8" stroke-width="1.3" opacity="0.63"/>
<line x1="100.4" y1="50.5" x2="100.7" y2="48.7" stroke="#c89848" stroke-width="0.6" opacity="0.40"/>
<line x1="119.1" y1="154.4" x2="119.8" y2="149.8" stroke="#9a7028" stroke-width="1.4" opacity="0.63"/>
<line x1="109.8" y1="82.2" x2="110.1" y2="79.6" stroke="#dcb870" stroke-width="0.9" opacity="0.47"/>
<line x1="109.7" y1="74.5" x2="109.9" y2="72.2" stroke="#9a7028" stroke-width="0.8" opacity="0.45"/>
<line x1="65.2" y1="53.9" x2="64.4" y2="52.1" stroke="#ecd498" stroke-width="0.7" opacity="0.40"/>
<line x1="146.5" y1="157.8" x2="145.5" y2="153.2" stroke="#7a5420" stroke-width="1.4" opacity="0.64"/>
<line x1="77.7" y1="94.9" x2="77.8" y2="92.0" stroke="#dcb870" stroke-width="0.9" opacity="0.50"/>
<line x1="3.2" y1="101.9" x2="3.7" y2="98.8" stroke="#dcb870" stroke-width="1.0" opacity="0.51"/>
<line x1="77.3" y1="73.6" x2="77.6" y2="71.2" stroke="#f4e4b8" stroke-width="0.8" opacity="0.45"/>
<line x1="91.6" y1="142.3" x2="90.9" y2="138.1" stroke="#ecd498" stroke-width="1.3" opacity="0.61"/>
<line x1="62.8" y1="77.5" x2="62.9" y2="75.1" stroke="#c89848" stroke-width="0.8" opacity="0.46"/>
<line x1="44.7" y1="73.5" x2="43.7" y2="71.2" stroke="#f4e4b8" stroke-width="0.8" opacity="0.45"/>
<line x1="111.8" y1="32.9" x2="111.3" y2="31.6" stroke="#9a7028" stroke-width="0.5" opacity="0.36"/>
<line x1="119.3" y1="48.4" x2="118.8" y2="46.7" stroke="#dcb870" stroke-width="0.6" opacity="0.39"/>
<line x1="9.3" y1="64.6" x2="10.5" y2="62.4" stroke="#c89848" stroke-width="0.7" opacity="0.43"/>
<line x1="146.9" y1="44.0" x2="147.0" y2="42.5" stroke="#9a7028" stroke-width="0.6" opacity="0.38"/>
<line x1="149.4" y1="41.7" x2="149.2" y2="40.2" stroke="#9a7028" stroke-width="0.6" opacity="0.38"/>
<line x1="31.3" y1="128.0" x2="30.7" y2="124.2" stroke="#c89848" stroke-width="1.2" opacity="0.57"/>
<line x1="15.1" y1="144.4" x2="15.6" y2="140.1" stroke="#9a7028" stroke-width="1.3" opacity="0.61"/>
<line x1="158.2" y1="35.0" x2="157.7" y2="33.7" stroke="#ecd498" stroke-width="0.5" opacity="0.36"/>
<line x1="6.3" y1="72.9" x2="6.7" y2="70.6" stroke="#c89848" stroke-width="0.8" opacity="0.45"/>
<line x1="18.2" y1="51.2" x2="17.6" y2="49.5" stroke="#9a7028" stroke-width="0.6" opacity="0.40"/>
<line x1="58.0" y1="153.3" x2="57.2" y2="148.8" stroke="#9a7028" stroke-width="1.3" opacity="0.63"/>
<line x1="158.6" y1="86.9" x2="158.3" y2="84.2" stroke="#f4e4b8" stroke-width="0.9" opacity="0.48"/>
<line x1="72.3" y1="93.3" x2="74.0" y2="90.4" stroke="#ecd498" stroke-width="0.9" opacity="0.49"/>
<line x1="114.4" y1="52.9" x2="115.2" y2="51.1" stroke="#9a7028" stroke-width="0.7" opacity="0.40"/>
<line x1="128.6" y1="112.0" x2="126.8" y2="108.6" stroke="#c89848" stroke-width="1.1" opacity="0.54"/>
<line x1="85.9" y1="119.2" x2="87.1" y2="115.6" stroke="#ecd498" stroke-width="1.1" opacity="0.55"/>
<line x1="88.7" y1="145.9" x2="88.4" y2="141.6" stroke="#ecd498" stroke-width="1.3" opacity="0.62"/>
<line x1="142.8" y1="108.7" x2="143.4" y2="105.4" stroke="#dcb870" stroke-width="1.0" opacity="0.53"/>
<line x1="82.8" y1="49.3" x2="83.7" y2="47.6" stroke="#ecd498" stroke-width="0.6" opacity="0.39"/>
<line x1="90.9" y1="48.7" x2="91.2" y2="47.0" stroke="#9a7028" stroke-width="0.6" opacity="0.39"/>
<line x1="25.4" y1="114.6" x2="26.6" y2="111.2" stroke="#7a5420" stroke-width="1.1" opacity="0.54"/>
<line x1="127.3" y1="97.4" x2="128.6" y2="94.4" stroke="#ecd498" stroke-width="1.0" opacity="0.50"/>
<line x1="58.6" y1="122.4" x2="58.9" y2="118.8" stroke="#9a7028" stroke-width="1.1" opacity="0.56"/>
<line x1="118.0" y1="83.6" x2="119.4" y2="80.9" stroke="#f4e4b8" stroke-width="0.9" opacity="0.47"/>
<line x1="150.5" y1="110.6" x2="152.1" y2="107.2" stroke="#dcb870" stroke-width="1.1" opacity="0.53"/>
<line x1="30.9" y1="160.1" x2="32.6" y2="155.5" stroke="#9a7028" stroke-width="1.4" opacity="0.65"/>
<line x1="127.7" y1="137.6" x2="128.6" y2="133.5" stroke="#7a5420" stroke-width="1.2" opacity="0.60"/>
<line x1="51.6" y1="129.2" x2="53.0" y2="125.4" stroke="#dcb870" stroke-width="1.2" opacity="0.58"/>
<line x1="54.6" y1="105.1" x2="54.5" y2="101.9" stroke="#7a5420" stroke-width="1.0" opacity="0.52"/>
<line x1="44.6" y1="150.9" x2="44.5" y2="146.5" stroke="#ecd498" stroke-width="1.3" opacity="0.63"/>
<line x1="134.2" y1="36.1" x2="134.7" y2="34.7" stroke="#f4e4b8" stroke-width="0.5" opacity="0.36"/>
<line x1="92.9" y1="148.8" x2="92.9" y2="144.5" stroke="#7a5420" stroke-width="1.3" opacity="0.62"/>
<line x1="114.2" y1="30.6" x2="114.6" y2="29.4" stroke="#7a5420" stroke-width="0.5" opacity="0.35"/>
<line x1="16.7" y1="66.2" x2="16.9" y2="64.1" stroke="#ecd498" stroke-width="0.7" opacity="0.43"/>
<line x1="70.5" y1="145.6" x2="68.4" y2="141.3" stroke="#dcb870" stroke-width="1.3" opacity="0.61"/>
<line x1="72.7" y1="78.3" x2="72.7" y2="75.8" stroke="#ecd498" stroke-width="0.8" opacity="0.46"/>
<line x1="116.9" y1="58.1" x2="116.4" y2="56.1" stroke="#c89848" stroke-width="0.7" opacity="0.41"/>
<line x1="126.7" y1="56.9" x2="127.7" y2="55.0" stroke="#7a5420" stroke-width="0.7" opacity="0.41"/>
<line x1="161.7" y1="85.9" x2="162.3" y2="83.2" stroke="#7a5420" stroke-width="0.9" opacity="0.48"/>
<line x1="104.9" y1="66.4" x2="105.8" y2="64.2" stroke="#c89848" stroke-width="0.7" opacity="0.43"/>
<line x1="65.0" y1="154.5" x2="67.5" y2="149.9" stroke="#f4e4b8" stroke-width="1.4" opacity="0.64"/>
<line x1="7.5" y1="139.5" x2="6.5" y2="135.4" stroke="#c89848" stroke-width="1.3" opacity="0.60"/>
<line x1="97.5" y1="143.3" x2="98.7" y2="139.1" stroke="#c89848" stroke-width="1.3" opacity="0.61"/>
<line x1="21.2" y1="113.4" x2="22.7" y2="110.0" stroke="#f4e4b8" stroke-width="1.1" opacity="0.54"/>
<line x1="42.1" y1="96.3" x2="42.0" y2="93.4" stroke="#f4e4b8" stroke-width="1.0" opacity="0.50"/>
<line x1="14.1" y1="141.5" x2="12.6" y2="137.4" stroke="#ecd498" stroke-width="1.3" opacity="0.61"/>
<line x1="97.3" y1="144.8" x2="98.5" y2="140.5" stroke="#ecd498" stroke-width="1.3" opacity="0.61"/>
<line x1="55.6" y1="152.2" x2="58.0" y2="147.7" stroke="#9a7028" stroke-width="1.3" opacity="0.63"/>
<line x1="104.5" y1="129.3" x2="103.1" y2="125.4" stroke="#c89848" stroke-width="1.2" opacity="0.58"/>
<line x1="81.0" y1="74.1" x2="82.2" y2="71.7" stroke="#9a7028" stroke-width="0.8" opacity="0.45"/>
<line x1="36.1" y1="142.3" x2="34.9" y2="138.1" stroke="#9a7028" stroke-width="1.3" opacity="0.61"/>
<line x1="147.8" y1="59.0" x2="147.4" y2="57.0" stroke="#7a5420" stroke-width="0.7" opacity="0.42"/>
<line x1="161.0" y1="38.3" x2="161.0" y2="36.8" stroke="#f4e4b8" stroke-width="0.6" opacity="0.37"/>
<line x1="138.5" y1="88.1" x2="138.2" y2="85.4" stroke="#ecd498" stroke-width="0.9" opacity="0.48"/>
<line x1="76.1" y1="71.0" x2="76.8" y2="68.7" stroke="#ecd498" stroke-width="0.8" opacity="0.44"/>
<line x1="37.6" y1="90.7" x2="39.2" y2="87.9" stroke="#7a5420" stroke-width="0.9" opacity="0.49"/>
<line x1="149.6" y1="51.0" x2="148.8" y2="49.3" stroke="#c89848" stroke-width="0.6" opacity="0.40"/>
<line x1="51.6" y1="146.5" x2="53.6" y2="142.2" stroke="#9a7028" stroke-width="1.3" opacity="0.62"/>
<line x1="76.1" y1="152.3" x2="75.4" y2="147.8" stroke="#7a5420" stroke-width="1.3" opacity="0.63"/>
<line x1="89.8" y1="129.8" x2="89.0" y2="125.9" stroke="#7a5420" stroke-width="1.2" opacity="0.58"/>
<line x1="55.5" y1="42.5" x2="56.4" y2="41.0" stroke="#f4e4b8" stroke-width="0.6" opacity="0.38"/>
<line x1="159.0" y1="48.4" x2="158.6" y2="46.7" stroke="#7a5420" stroke-width="0.6" opacity="0.39"/>
<line x1="53.5" y1="105.7" x2="52.8" y2="102.5" stroke="#9a7028" stroke-width="1.0" opacity="0.52"/>
<line x1="4.6" y1="56.8" x2="5.7" y2="54.9" stroke="#ecd498" stroke-width="0.7" opacity="0.41"/>
<line x1="73.8" y1="78.4" x2="74.3" y2="75.9" stroke="#c89848" stroke-width="0.8" opacity="0.46"/>
<line x1="77.9" y1="151.8" x2="78.1" y2="147.3" stroke="#9a7028" stroke-width="1.3" opacity="0.63"/>
<line x1="139.7" y1="117.8" x2="138.4" y2="114.2" stroke="#dcb870" stroke-width="1.1" opacity="0.55"/>
<line x1="30.8" y1="68.4" x2="30.2" y2="66.2" stroke="#c89848" stroke-width="0.8" opacity="0.44"/>
<line x1="157.6" y1="38.4" x2="157.1" y2="37.0" stroke="#ecd498" stroke-width="0.6" opacity="0.37"/>
<line x1="11.5" y1="97.5" x2="10.1" y2="94.5" stroke="#c89848" stroke-width="1.0" opacity="0.50"/>
<line x1="135.6" y1="117.6" x2="134.7" y2="114.1" stroke="#c89848" stroke-width="1.1" opacity="0.55"/>
<line x1="16.3" y1="55.3" x2="16.8" y2="53.4" stroke="#7a5420" stroke-width="0.7" opacity="0.41"/>
<line x1="0.3" y1="36.5" x2="-0.4" y2="35.1" stroke="#f4e4b8" stroke-width="0.5" opacity="0.36"/>
<line x1="45.4" y1="147.3" x2="42.9" y2="142.9" stroke="#c89848" stroke-width="1.3" opacity="0.62"/>
<line x1="67.4" y1="148.2" x2="67.5" y2="143.9" stroke="#7a5420" stroke-width="1.3" opacity="0.62"/>
<line x1="29.3" y1="105.1" x2="30.8" y2="101.9" stroke="#9a7028" stroke-width="1.0" opacity="0.52"/>
<line x1="36.3" y1="57.6" x2="35.8" y2="55.6" stroke="#ecd498" stroke-width="0.7" opacity="0.41"/>
<line x1="142.6" y1="97.5" x2="143.3" y2="94.5" stroke="#dcb870" stroke-width="1.0" opacity="0.50"/>
<line x1="62.2" y1="160.0" x2="59.8" y2="155.4" stroke="#ecd498" stroke-width="1.4" opacity="0.65"/>
<line x1="134.5" y1="158.5" x2="136.4" y2="153.9" stroke="#ecd498" stroke-width="1.4" opacity="0.64"/>
<line x1="144.6" y1="97.4" x2="144.1" y2="94.4" stroke="#f4e4b8" stroke-width="1.0" opacity="0.50"/>
<line x1="107.2" y1="154.9" x2="109.9" y2="150.4" stroke="#ecd498" stroke-width="1.4" opacity="0.64"/>
<line x1="101.0" y1="115.6" x2="100.4" y2="112.1" stroke="#9a7028" stroke-width="1.1" opacity="0.55"/>
<line x1="59.2" y1="47.5" x2="58.7" y2="45.8" stroke="#dcb870" stroke-width="0.6" opacity="0.39"/>
<line x1="22.9" y1="50.7" x2="22.1" y2="49.0" stroke="#9a7028" stroke-width="0.6" opacity="0.40"/>
<line x1="129.1" y1="46.3" x2="129.1" y2="44.7" stroke="#dcb870" stroke-width="0.6" opacity="0.39"/>
<line x1="93.1" y1="103.4" x2="92.9" y2="100.3" stroke="#f4e4b8" stroke-width="1.0" opacity="0.52"/>
<line x1="121.5" y1="125.3" x2="121.2" y2="121.6" stroke="#9a7028" stroke-width="1.2" opacity="0.57"/>
<line x1="38.4" y1="129.1" x2="40.2" y2="125.3" stroke="#9a7028" stroke-width="1.2" opacity="0.58"/>
<line x1="57.9" y1="131.3" x2="58.3" y2="127.4" stroke="#f4e4b8" stroke-width="1.2" opacity="0.58"/>
<line x1="69.6" y1="92.4" x2="68.6" y2="89.5" stroke="#ecd498" stroke-width="0.9" opacity="0.49"/>
<line x1="108.5" y1="139.3" x2="111.0" y2="135.2" stroke="#f4e4b8" stroke-width="1.3" opacity="0.60"/>
<line x1="38.7" y1="34.9" x2="38.2" y2="33.6" stroke="#9a7028" stroke-width="0.5" opacity="0.36"/>
<line x1="42.1" y1="131.4" x2="41.3" y2="127.5" stroke="#ecd498" stroke-width="1.2" opacity="0.58"/>
<line x1="12.8" y1="128.8" x2="12.8" y2="125.0" stroke="#ecd498" stroke-width="1.2" opacity="0.58"/>
<line x1="151.7" y1="62.0" x2="150.9" y2="60.0" stroke="#9a7028" stroke-width="0.7" opacity="0.42"/>
<line x1="70.0" y1="152.0" x2="71.1" y2="147.6" stroke="#ecd498" stroke-width="1.3" opacity="0.63"/>
<line x1="69.5" y1="51.7" x2="69.5" y2="50.0" stroke="#ecd498" stroke-width="0.6" opacity="0.40"/>
<line x1="160.4" y1="126.3" x2="158.8" y2="122.5" stroke="#c89848" stroke-width="1.2" opacity="0.57"/>
<line x1="101.3" y1="37.6" x2="100.5" y2="36.2" stroke="#7a5420" stroke-width="0.6" opacity="0.37"/>
<line x1="7.7" y1="98.2" x2="8.5" y2="95.2" stroke="#c89848" stroke-width="1.0" opacity="0.51"/>
<line x1="82.7" y1="52.0" x2="82.1" y2="50.2" stroke="#c89848" stroke-width="0.7" opacity="0.40"/>
<line x1="42.0" y1="89.5" x2="43.3" y2="86.7" stroke="#9a7028" stroke-width="0.9" opacity="0.49"/>
<line x1="0.6" y1="59.2" x2="-0.4" y2="57.2" stroke="#f4e4b8" stroke-width="0.7" opacity="0.42"/>
<line x1="66.1" y1="100.2" x2="67.9" y2="97.2" stroke="#dcb870" stroke-width="1.0" opacity="0.51"/>
<line x1="54.3" y1="64.9" x2="53.8" y2="62.7" stroke="#c89848" stroke-width="0.7" opacity="0.43"/>
<line x1="6.1" y1="84.6" x2="4.8" y2="81.9" stroke="#f4e4b8" stroke-width="0.9" opacity="0.47"/>
<line x1="13.7" y1="37.4" x2="14.6" y2="36.0" stroke="#9a7028" stroke-width="0.6" opacity="0.37"/>
<line x1="149.0" y1="43.1" x2="149.4" y2="41.5" stroke="#7a5420" stroke-width="0.6" opacity="0.38"/>
<line x1="41.0" y1="43.0" x2="41.1" y2="41.4" stroke="#f4e4b8" stroke-width="0.6" opacity="0.38"/>
<line x1="72.6" y1="38.3" x2="73.1" y2="36.9" stroke="#7a5420" stroke-width="0.6" opacity="0.37"/>
<line x1="76.7" y1="48.5" x2="76.6" y2="46.8" stroke="#f4e4b8" stroke-width="0.6" opacity="0.39"/>
<line x1="106.9" y1="33.3" x2="107.0" y2="32.0" stroke="#9a7028" stroke-width="0.5" opacity="0.36"/>
<line x1="158.2" y1="35.9" x2="158.6" y2="34.6" stroke="#c89848" stroke-width="0.5" opacity="0.36"/>
<line x1="12.1" y1="135.0" x2="10.0" y2="131.0" stroke="#9a7028" stroke-width="1.2" opacity="0.59"/>
<line x1="94.4" y1="124.7" x2="93.0" y2="121.0" stroke="#dcb870" stroke-width="1.2" opacity="0.57"/>
<line x1="134.4" y1="83.3" x2="133.4" y2="80.6" stroke="#dcb870" stroke-width="0.9" opacity="0.47"/>
<line x1="70.9" y1="53.5" x2="70.0" y2="51.7" stroke="#9a7028" stroke-width="0.7" opacity="0.40"/>
<line x1="117.6" y1="143.3" x2="119.7" y2="139.1" stroke="#c89848" stroke-width="1.3" opacity="0.61"/>
<line x1="106.8" y1="64.1" x2="105.8" y2="62.0" stroke="#ecd498" stroke-width="0.7" opacity="0.43"/>
<line x1="61.7" y1="118.0" x2="60.2" y2="114.4" stroke="#ecd498" stroke-width="1.1" opacity="0.55"/>
<line x1="141.6" y1="41.0" x2="142.5" y2="39.5" stroke="#dcb870" stroke-width="0.6" opacity="0.38"/>
<line x1="51.6" y1="149.1" x2="53.5" y2="144.7" stroke="#7a5420" stroke-width="1.3" opacity="0.62"/>
<line x1="95.3" y1="157.0" x2="96.9" y2="152.4" stroke="#c89848" stroke-width="1.4" opacity="0.64"/>
<line x1="136.0" y1="99.8" x2="136.0" y2="96.8" stroke="#dcb870" stroke-width="1.0" opacity="0.51"/>
<line x1="78.2" y1="74.2" x2="77.8" y2="71.8" stroke="#dcb870" stroke-width="0.8" opacity="0.45"/>
<line x1="90.6" y1="159.7" x2="89.3" y2="155.0" stroke="#7a5420" stroke-width="1.4" opacity="0.65"/>
<line x1="81.5" y1="96.0" x2="81.2" y2="93.0" stroke="#f4e4b8" stroke-width="1.0" opacity="0.50"/>
<line x1="96.8" y1="35.7" x2="96.5" y2="34.4" stroke="#dcb870" stroke-width="0.5" opacity="0.36"/>
<line x1="124.7" y1="122.2" x2="124.8" y2="118.5" stroke="#dcb870" stroke-width="1.1" opacity="0.56"/>
<line x1="40.3" y1="151.3" x2="40.6" y2="146.8" stroke="#7a5420" stroke-width="1.3" opacity="0.63"/>
<line x1="88.1" y1="68.4" x2="86.9" y2="66.2" stroke="#c89848" stroke-width="0.8" opacity="0.44"/>
<line x1="41.6" y1="72.0" x2="40.8" y2="69.7" stroke="#c89848" stroke-width="0.8" opacity="0.45"/>
<line x1="73.2" y1="76.9" x2="73.1" y2="74.4" stroke="#dcb870" stroke-width="0.8" opacity="0.46"/>
<line x1="14.0" y1="77.2" x2="13.1" y2="74.7" stroke="#c89848" stroke-width="0.8" opacity="0.46"/>
<line x1="37.9" y1="132.8" x2="39.0" y2="128.8" stroke="#c89848" stroke-width="1.2" opacity="0.59"/>
<line x1="41.4" y1="78.0" x2="40.8" y2="75.5" stroke="#ecd498" stroke-width="0.8" opacity="0.46"/>
<line x1="9.9" y1="77.2" x2="9.7" y2="74.8" stroke="#ecd498" stroke-width="0.8" opacity="0.46"/>
<line x1="98.6" y1="146.6" x2="100.1" y2="142.3" stroke="#dcb870" stroke-width="1.3" opacity="0.62"/>
<line x1="37.1" y1="74.1" x2="37.8" y2="71.8" stroke="#ecd498" stroke-width="0.8" opacity="0.45"/>
<line x1="119.4" y1="54.4" x2="119.1" y2="52.5" stroke="#ecd498" stroke-width="0.7" opacity="0.41"/>
<line x1="43.7" y1="93.8" x2="42.4" y2="90.9" stroke="#c89848" stroke-width="0.9" opacity="0.50"/>
<line x1="54.9" y1="85.0" x2="54.2" y2="82.4" stroke="#f4e4b8" stroke-width="0.9" opacity="0.48"/>
<line x1="25.2" y1="50.2" x2="24.5" y2="48.4" stroke="#c89848" stroke-width="0.6" opacity="0.40"/>
<line x1="25.6" y1="66.8" x2="26.5" y2="64.6" stroke="#c89848" stroke-width="0.8" opacity="0.43"/>
<line x1="53.7" y1="141.6" x2="53.3" y2="137.4" stroke="#ecd498" stroke-width="1.3" opacity="0.61"/>
<line x1="31.2" y1="131.2" x2="31.2" y2="127.3" stroke="#dcb870" stroke-width="1.2" opacity="0.58"/>
<line x1="18.0" y1="65.6" x2="17.8" y2="63.4" stroke="#7a5420" stroke-width="0.7" opacity="0.43"/>
<line x1="96.4" y1="63.4" x2="96.2" y2="61.3" stroke="#ecd498" stroke-width="0.7" opacity="0.43"/>
<line x1="30.1" y1="132.5" x2="29.5" y2="128.5" stroke="#c89848" stroke-width="1.2" opacity="0.58"/>
<line x1="123.3" y1="73.6" x2="122.0" y2="71.3" stroke="#c89848" stroke-width="0.8" opacity="0.45"/>
<line x1="116.1" y1="57.1" x2="116.5" y2="55.2" stroke="#7a5420" stroke-width="0.7" opacity="0.41"/>
<line x1="99.0" y1="68.5" x2="99.5" y2="66.3" stroke="#9a7028" stroke-width="0.8" opacity="0.44"/>
<line x1="137.5" y1="61.5" x2="137.7" y2="59.5" stroke="#f4e4b8" stroke-width="0.7" opacity="0.42"/>
<line x1="93.1" y1="72.2" x2="93.3" y2="69.9" stroke="#ecd498" stroke-width="0.8" opacity="0.45"/>
<line x1="83.6" y1="141.4" x2="83.6" y2="137.2" stroke="#ecd498" stroke-width="1.3" opacity="0.61"/>
<line x1="19.8" y1="57.9" x2="21.0" y2="55.9" stroke="#dcb870" stroke-width="0.7" opacity="0.41"/>
<line x1="148.3" y1="32.0" x2="147.7" y2="30.8" stroke="#9a7028" stroke-width="0.5" opacity="0.35"/>
<line x1="159.8" y1="61.5" x2="159.2" y2="59.4" stroke="#f4e4b8" stroke-width="0.7" opacity="0.42"/>
<line x1="95.1" y1="79.4" x2="95.2" y2="76.9" stroke="#ecd498" stroke-width="0.8" opacity="0.46"/>
<line x1="89.1" y1="69.8" x2="89.9" y2="67.5" stroke="#f4e4b8" stroke-width="0.8" opacity="0.44"/>
<line x1="77.6" y1="159.3" x2="78.5" y2="154.6" stroke="#ecd498" stroke-width="1.4" opacity="0.65"/>
<line x1="74.8" y1="108.5" x2="75.9" y2="105.2" stroke="#9a7028" stroke-width="1.0" opacity="0.53"/>
<line x1="136.4" y1="101.8" x2="135.2" y2="98.7" stroke="#f4e4b8" stroke-width="1.0" opacity="0.51"/>
<line x1="154.9" y1="158.2" x2="154.6" y2="153.6" stroke="#c89848" stroke-width="1.4" opacity="0.64"/>
<line x1="160.9" y1="41.9" x2="161.5" y2="40.4" stroke="#f4e4b8" stroke-width="0.6" opacity="0.38"/>
<line x1="112.3" y1="38.8" x2="111.7" y2="37.4" stroke="#ecd498" stroke-width="0.6" opacity="0.37"/>
<line x1="0.8" y1="83.8" x2="0.1" y2="81.1" stroke="#f4e4b8" stroke-width="0.9" opacity="0.47"/>
<line x1="113.7" y1="97.6" x2="112.5" y2="94.6" stroke="#c89848" stroke-width="1.0" opacity="0.50"/>
<line x1="82.7" y1="94.7" x2="82.0" y2="91.7" stroke="#dcb870" stroke-width="0.9" opacity="0.50"/>
<line x1="87.7" y1="58.9" x2="87.3" y2="56.9" stroke="#f4e4b8" stroke-width="0.7" opacity="0.42"/>
<line x1="54.3" y1="110.5" x2="53.4" y2="107.2" stroke="#7a5420" stroke-width="1.1" opacity="0.53"/>
<line x1="123.4" y1="111.0" x2="122.8" y2="107.6" stroke="#c89848" stroke-width="1.1" opacity="0.54"/>
<line x1="18.5" y1="116.0" x2="19.1" y2="112.5" stroke="#7a5420" stroke-width="1.1" opacity="0.55"/>
<line x1="22.3" y1="118.3" x2="21.6" y2="114.7" stroke="#ecd498" stroke-width="1.1" opacity="0.55"/>
<line x1="67.6" y1="155.4" x2="66.1" y2="150.8" stroke="#dcb870" stroke-width="1.4" opacity="0.64"/>
<line x1="0.6" y1="160.8" x2="1.5" y2="156.1" stroke="#9a7028" stroke-width="1.4" opacity="0.65"/>
<line x1="72.3" y1="83.2" x2="71.3" y2="80.6" stroke="#9a7028" stroke-width="0.9" opacity="0.47"/>
<line x1="114.1" y1="51.6" x2="114.8" y2="49.8" stroke="#dcb870" stroke-width="0.6" opacity="0.40"/>
<line x1="9.4" y1="79.3" x2="10.0" y2="76.8" stroke="#dcb870" stroke-width="0.8" opacity="0.46"/>
<line x1="109.5" y1="95.1" x2="110.5" y2="92.2" stroke="#f4e4b8" stroke-width="0.9" opacity="0.50"/>
<line x1="87.7" y1="38.8" x2="88.1" y2="37.4" stroke="#9a7028" stroke-width="0.6" opacity="0.37"/>
<line x1="41.9" y1="114.4" x2="42.8" y2="111.0" stroke="#9a7028" stroke-width="1.1" opacity="0.54"/>
<line x1="124.8" y1="116.3" x2="123.9" y2="112.8" stroke="#dcb870" stroke-width="1.1" opacity="0.55"/>
<line x1="86.5" y1="123.9" x2="87.1" y2="120.2" stroke="#c89848" stroke-width="1.1" opacity="0.56"/>
<line x1="21.8" y1="70.4" x2="21.0" y2="68.2" stroke="#c89848" stroke-width="0.8" opacity="0.44"/>
<line x1="157.7" y1="133.2" x2="159.3" y2="129.2" stroke="#7a5420" stroke-width="1.2" opacity="0.59"/>
<line x1="108.8" y1="127.3" x2="109.1" y2="123.5" stroke="#dcb870" stroke-width="1.2" opacity="0.57"/>
<line x1="122.0" y1="77.7" x2="122.2" y2="75.2" stroke="#f4e4b8" stroke-width="0.8" opacity="0.46"/>
<line x1="26.6" y1="37.8" x2="25.9" y2="36.4" stroke="#ecd498" stroke-width="0.6" opacity="0.37"/>
<line x1="101.2" y1="107.5" x2="103.1" y2="104.3" stroke="#c89848" stroke-width="1.0" opacity="0.53"/>
<line x1="118.0" y1="65.1" x2="117.1" y2="62.9" stroke="#ecd498" stroke-width="0.7" opacity="0.43"/>
<line x1="134.1" y1="98.2" x2="134.5" y2="95.2" stroke="#ecd498" stroke-width="1.0" opacity="0.51"/>
<line x1="37.2" y1="41.4" x2="37.1" y2="39.9" stroke="#c89848" stroke-width="0.6" opacity="0.38"/>
<line x1="38.7" y1="53.9" x2="39.5" y2="52.1" stroke="#dcb870" stroke-width="0.7" opacity="0.40"/>
<line x1="54.9" y1="33.4" x2="54.7" y2="32.1" stroke="#dcb870" stroke-width="0.5" opacity="0.36"/>
<line x1="147.4" y1="32.9" x2="146.8" y2="31.7" stroke="#c89848" stroke-width="0.5" opacity="0.36"/>
<line x1="25.9" y1="68.3" x2="25.3" y2="66.1" stroke="#dcb870" stroke-width="0.8" opacity="0.44"/>
<line x1="119.0" y1="41.4" x2="119.9" y2="39.9" stroke="#9a7028" stroke-width="0.6" opacity="0.38"/>
<line x1="71.3" y1="134.3" x2="71.6" y2="130.3" stroke="#dcb870" stroke-width="1.2" opacity="0.59"/>
<line x1="0.9" y1="37.7" x2="0.4" y2="36.3" stroke="#dcb870" stroke-width="0.6" opacity="0.37"/>
<line x1="14.8" y1="151.2" x2="14.7" y2="146.7" stroke="#7a5420" stroke-width="1.3" opacity="0.63"/>
<line x1="97.3" y1="145.7" x2="98.3" y2="141.4" stroke="#f4e4b8" stroke-width="1.3" opacity="0.62"/>
<line x1="75.2" y1="133.0" x2="76.7" y2="129.0" stroke="#f4e4b8" stroke-width="1.2" opacity="0.59"/>
<line x1="152.2" y1="58.9" x2="152.8" y2="56.9" stroke="#dcb870" stroke-width="0.7" opacity="0.42"/>
<line x1="134.7" y1="62.5" x2="134.2" y2="60.4" stroke="#c89848" stroke-width="0.7" opacity="0.42"/>
<line x1="7.4" y1="42.4" x2="8.2" y2="40.9" stroke="#f4e4b8" stroke-width="0.6" opacity="0.38"/>
<line x1="59.7" y1="96.8" x2="59.6" y2="93.8" stroke="#7a5420" stroke-width="1.0" opacity="0.50"/>
<line x1="101.1" y1="130.3" x2="100.5" y2="126.5" stroke="#c89848" stroke-width="1.2" opacity="0.58"/>
<line x1="34.0" y1="75.5" x2="35.2" y2="73.1" stroke="#c89848" stroke-width="0.8" opacity="0.45"/>
<line x1="151.2" y1="50.5" x2="151.0" y2="48.7" stroke="#9a7028" stroke-width="0.6" opacity="0.40"/>
<line x1="29.9" y1="157.1" x2="31.5" y2="152.5" stroke="#9a7028" stroke-width="1.4" opacity="0.64"/>
<line x1="32.1" y1="124.6" x2="32.4" y2="120.9" stroke="#dcb870" stroke-width="1.2" opacity="0.57"/>
<line x1="145.9" y1="64.5" x2="146.3" y2="62.4" stroke="#dcb870" stroke-width="0.7" opacity="0.43"/>
<line x1="78.1" y1="79.4" x2="79.2" y2="76.9" stroke="#7a5420" stroke-width="0.8" opacity="0.46"/>
<line x1="51.1" y1="135.8" x2="50.0" y2="131.8" stroke="#dcb870" stroke-width="1.2" opacity="0.59"/>
<line x1="134.6" y1="102.3" x2="134.8" y2="99.2" stroke="#7a5420" stroke-width="1.0" opacity="0.52"/>
<line x1="145.4" y1="121.8" x2="144.5" y2="118.1" stroke="#9a7028" stroke-width="1.1" opacity="0.56"/>
<line x1="139.8" y1="133.0" x2="139.5" y2="129.1" stroke="#c89848" stroke-width="1.2" opacity="0.59"/>
<line x1="75.7" y1="139.3" x2="77.9" y2="135.2" stroke="#c89848" stroke-width="1.3" opacity="0.60"/>
<line x1="30.6" y1="43.2" x2="30.0" y2="41.6" stroke="#f4e4b8" stroke-width="0.6" opacity="0.38"/>
<line x1="145.3" y1="71.6" x2="146.3" y2="69.3" stroke="#c89848" stroke-width="0.8" opacity="0.45"/>
<line x1="62.9" y1="49.5" x2="63.3" y2="47.8" stroke="#9a7028" stroke-width="0.6" opacity="0.39"/>
<line x1="136.2" y1="51.1" x2="136.3" y2="49.4" stroke="#7a5420" stroke-width="0.6" opacity="0.40"/>
<line x1="71.2" y1="96.0" x2="69.5" y2="93.0" stroke="#ecd498" stroke-width="1.0" opacity="0.50"/>
<line x1="150.7" y1="56.1" x2="151.5" y2="54.2" stroke="#ecd498" stroke-width="0.7" opacity="0.41"/>
<line x1="104.7" y1="43.4" x2="104.1" y2="41.8" stroke="#f4e4b8" stroke-width="0.6" opacity="0.38"/>
<line x1="126.5" y1="70.1" x2="126.8" y2="67.9" stroke="#c89848" stroke-width="0.8" opacity="0.44"/>
<line x1="152.2" y1="52.5" x2="151.9" y2="50.7" stroke="#dcb870" stroke-width="0.7" opacity="0.40"/>
<line x1="77.8" y1="38.5" x2="77.2" y2="37.1" stroke="#c89848" stroke-width="0.6" opacity="0.37"/>
<line x1="49.7" y1="63.1" x2="50.5" y2="61.0" stroke="#c89848" stroke-width="0.7" opacity="0.43"/>
<line x1="9.7" y1="105.0" x2="8.5" y2="101.8" stroke="#ecd498" stroke-width="1.0" opacity="0.52"/>
<line x1="33.3" y1="63.5" x2="32.7" y2="61.4" stroke="#ecd498" stroke-width="0.7" opacity="0.43"/>
<line x1="29.5" y1="30.0" x2="29.1" y2="28.8" stroke="#f4e4b8" stroke-width="0.5" opacity="0.35"/>
<line x1="39.3" y1="145.1" x2="37.3" y2="140.8" stroke="#f4e4b8" stroke-width="1.3" opacity="0.61"/>
<line x1="36.2" y1="31.1" x2="36.6" y2="29.9" stroke="#dcb870" stroke-width="0.5" opacity="0.35"/>
<line x1="73.3" y1="94.2" x2="75.0" y2="91.3" stroke="#ecd498" stroke-width="0.9" opacity="0.50"/>
<line x1="33.9" y1="34.8" x2="33.7" y2="33.5" stroke="#f4e4b8" stroke-width="0.5" opacity="0.36"/>
<line x1="150.8" y1="81.4" x2="150.6" y2="78.8" stroke="#dcb870" stroke-width="0.9" opacity="0.47"/>
<line x1="100.2" y1="135.9" x2="99.9" y2="131.8" stroke="#c89848" stroke-width="1.2" opacity="0.59"/>
<line x1="70.8" y1="130.7" x2="69.8" y2="126.8" stroke="#f4e4b8" stroke-width="1.2" opacity="0.58"/>
<line x1="134.1" y1="148.6" x2="132.6" y2="144.3" stroke="#f4e4b8" stroke-width="1.3" opacity="0.62"/>
<line x1="8.0" y1="58.3" x2="8.9" y2="56.3" stroke="#7a5420" stroke-width="0.7" opacity="0.41"/>
<line x1="161.2" y1="96.6" x2="159.7" y2="93.6" stroke="#ecd498" stroke-width="1.0" opacity="0.50"/>
<line x1="59.8" y1="145.4" x2="57.3" y2="141.1" stroke="#ecd498" stroke-width="1.3" opacity="0.61"/>
<line x1="101.6" y1="112.8" x2="101.5" y2="109.4" stroke="#9a7028" stroke-width="1.1" opacity="0.54"/>
<line x1="21.2" y1="69.3" x2="21.6" y2="67.1" stroke="#c89848" stroke-width="0.8" opacity="0.44"/>
<line x1="151.2" y1="48.7" x2="151.5" y2="47.0" stroke="#f4e4b8" stroke-width="0.6" opacity="0.39"/>
<line x1="106.6" y1="32.9" x2="106.9" y2="31.6" stroke="#f4e4b8" stroke-width="0.5" opacity="0.36"/>
<line x1="84.2" y1="60.3" x2="83.3" y2="58.3" stroke="#ecd498" stroke-width="0.7" opacity="0.42"/>
<line x1="108.6" y1="67.6" x2="108.1" y2="65.4" stroke="#dcb870" stroke-width="0.8" opacity="0.44"/>
<line x1="88.4" y1="135.9" x2="86.5" y2="131.8" stroke="#ecd498" stroke-width="1.2" opacity="0.59"/>
<line x1="104.1" y1="160.4" x2="101.4" y2="155.7" stroke="#dcb870" stroke-width="1.4" opacity="0.65"/>
<line x1="117.3" y1="78.3" x2="117.6" y2="75.8" stroke="#9a7028" stroke-width="0.8" opacity="0.46"/>
<line x1="103.1" y1="126.9" x2="101.4" y2="123.1" stroke="#ecd498" stroke-width="1.2" opacity="0.57"/>
<line x1="75.2" y1="93.8" x2="74.8" y2="90.9" stroke="#f4e4b8" stroke-width="0.9" opacity="0.50"/>
<line x1="70.5" y1="59.9" x2="70.1" y2="57.9" stroke="#9a7028" stroke-width="0.7" opacity="0.42"/>
<line x1="104.7" y1="139.1" x2="104.8" y2="135.0" stroke="#f4e4b8" stroke-width="1.2" opacity="0.60"/>
<line x1="90.1" y1="139.3" x2="87.8" y2="135.1" stroke="#7a5420" stroke-width="1.3" opacity="0.60"/>
<line x1="72.7" y1="144.5" x2="71.0" y2="140.2" stroke="#9a7028" stroke-width="1.3" opacity="0.61"/>
<line x1="63.1" y1="109.9" x2="61.8" y2="106.5" stroke="#dcb870" stroke-width="1.0" opacity="0.53"/>
<line x1="84.1" y1="85.7" x2="85.4" y2="83.0" stroke="#dcb870" stroke-width="0.9" opacity="0.48"/>
<line x1="38.6" y1="103.5" x2="37.0" y2="100.3" stroke="#f4e4b8" stroke-width="1.0" opacity="0.52"/>
<line x1="99.5" y1="116.9" x2="101.2" y2="113.4" stroke="#dcb870" stroke-width="1.1" opacity="0.55"/>
<line x1="71.3" y1="129.9" x2="73.2" y2="126.1" stroke="#ecd498" stroke-width="1.2" opacity="0.58"/>
<line x1="17.7" y1="69.5" x2="18.5" y2="67.2" stroke="#c89848" stroke-width="0.8" opacity="0.44"/>
<line x1="131.3" y1="77.7" x2="130.1" y2="75.2" stroke="#f4e4b8" stroke-width="0.8" opacity="0.46"/>
<line x1="4.4" y1="96.0" x2="2.9" y2="93.0" stroke="#c89848" stroke-width="1.0" opacity="0.50"/>
<line x1="14.7" y1="55.5" x2="13.7" y2="53.6" stroke="#7a5420" stroke-width="0.7" opacity="0.41"/>
<line x1="46.9" y1="156.9" x2="45.6" y2="152.3" stroke="#f4e4b8" stroke-width="1.4" opacity="0.64"/>
<line x1="39.0" y1="140.0" x2="39.4" y2="135.8" stroke="#ecd498" stroke-width="1.3" opacity="0.60"/>
<line x1="158.2" y1="101.2" x2="157.8" y2="98.0" stroke="#c89848" stroke-width="1.0" opacity="0.51"/>
<line x1="96.8" y1="143.1" x2="96.5" y2="138.9" stroke="#ecd498" stroke-width="1.3" opacity="0.61"/>
<line x1="92.7" y1="58.1" x2="93.5" y2="56.2" stroke="#c89848" stroke-width="0.7" opacity="0.41"/>
<line x1="109.8" y1="67.9" x2="109.6" y2="65.7" stroke="#7a5420" stroke-width="0.8" opacity="0.44"/>
<line x1="45.6" y1="106.7" x2="45.8" y2="103.5" stroke="#dcb870" stroke-width="1.0" opacity="0.53"/>
<line x1="103.4" y1="96.7" x2="104.5" y2="93.7" stroke="#ecd498" stroke-width="1.0" opacity="0.50"/>
<line x1="80.3" y1="60.0" x2="79.9" y2="58.0" stroke="#ecd498" stroke-width="0.7" opacity="0.42"/>
<line x1="134.9" y1="68.2" x2="134.5" y2="65.9" stroke="#dcb870" stroke-width="0.8" opacity="0.44"/>
<line x1="66.8" y1="146.9" x2="67.3" y2="142.6" stroke="#dcb870" stroke-width="1.3" opacity="0.62"/>
<line x1="96.9" y1="61.6" x2="98.0" y2="59.5" stroke="#f4e4b8" stroke-width="0.7" opacity="0.42"/>
<line x1="41.7" y1="136.7" x2="43.1" y2="132.6" stroke="#7a5420" stroke-width="1.2" opacity="0.59"/>
<line x1="21.9" y1="101.7" x2="23.0" y2="98.6" stroke="#9a7028" stroke-width="1.0" opacity="0.51"/>
<line x1="90.4" y1="40.4" x2="89.8" y2="38.9" stroke="#c89848" stroke-width="0.6" opacity="0.37"/>
<line x1="42.0" y1="110.7" x2="41.6" y2="107.4" stroke="#9a7028" stroke-width="1.1" opacity="0.53"/>
<line x1="28.2" y1="115.2" x2="28.9" y2="111.8" stroke="#dcb870" stroke-width="1.1" opacity="0.55"/>
<line x1="16.9" y1="92.3" x2="17.0" y2="89.4" stroke="#c89848" stroke-width="0.9" opacity="0.49"/>
<line x1="68.0" y1="147.4" x2="67.4" y2="143.0" stroke="#f4e4b8" stroke-width="1.3" opacity="0.62"/>
<line x1="68.8" y1="79.1" x2="69.0" y2="76.6" stroke="#c89848" stroke-width="0.8" opacity="0.46"/>
<line x1="158.1" y1="67.4" x2="158.3" y2="65.2" stroke="#c89848" stroke-width="0.8" opacity="0.44"/>
<line x1="83.5" y1="54.6" x2="84.5" y2="52.8" stroke="#9a7028" stroke-width="0.7" opacity="0.41"/>
<line x1="125.9" y1="160.0" x2="123.3" y2="155.4" stroke="#f4e4b8" stroke-width="1.4" opacity="0.65"/>
<line x1="13.2" y1="119.5" x2="14.1" y2="115.9" stroke="#ecd498" stroke-width="1.1" opacity="0.55"/>
<line x1="152.0" y1="139.2" x2="154.0" y2="135.1" stroke="#dcb870" stroke-width="1.3" opacity="0.60"/>
<line x1="74.4" y1="73.5" x2="74.0" y2="71.2" stroke="#7a5420" stroke-width="0.8" opacity="0.45"/>
<line x1="129.4" y1="140.4" x2="130.3" y2="136.3" stroke="#7a5420" stroke-width="1.3" opacity="0.60"/>
<line x1="27.6" y1="50.4" x2="27.7" y2="48.6" stroke="#7a5420" stroke-width="0.6" opacity="0.40"/>
<line x1="77.5" y1="143.3" x2="75.8" y2="139.1" stroke="#7a5420" stroke-width="1.3" opacity="0.61"/>
<line x1="116.2" y1="59.3" x2="117.3" y2="57.3" stroke="#dcb870" stroke-width="0.7" opacity="0.42"/>
<line x1="46.8" y1="40.8" x2="46.6" y2="39.3" stroke="#9a7028" stroke-width="0.6" opacity="0.37"/>
<line x1="2.0" y1="87.1" x2="1.8" y2="84.3" stroke="#f4e4b8" stroke-width="0.9" opacity="0.48"/>
<line x1="71.4" y1="112.7" x2="69.7" y2="109.3" stroke="#ecd498" stroke-width="1.1" opacity="0.54"/>
<line x1="153.2" y1="82.8" x2="151.7" y2="80.2" stroke="#9a7028" stroke-width="0.9" opacity="0.47"/>
<line x1="16.1" y1="123.0" x2="16.9" y2="119.3" stroke="#7a5420" stroke-width="1.1" opacity="0.56"/>
<line x1="14.6" y1="88.7" x2="16.2" y2="86.0" stroke="#9a7028" stroke-width="0.9" opacity="0.48"/>
<line x1="60.3" y1="159.6" x2="61.8" y2="155.0" stroke="#ecd498" stroke-width="1.4" opacity="0.65"/>
<line x1="95.7" y1="112.4" x2="97.0" y2="109.0" stroke="#7a5420" stroke-width="1.1" opacity="0.54"/>
<line x1="112.7" y1="102.0" x2="111.4" y2="98.9" stroke="#f4e4b8" stroke-width="1.0" opacity="0.51"/>
<line x1="87.4" y1="64.8" x2="86.6" y2="62.7" stroke="#f4e4b8" stroke-width="0.7" opacity="0.43"/>
<line x1="14.6" y1="158.9" x2="15.3" y2="154.2" stroke="#c89848" stroke-width="1.4" opacity="0.65"/>
<line x1="97.1" y1="150.8" x2="97.4" y2="146.3" stroke="#dcb870" stroke-width="1.3" opacity="0.63"/>
<line x1="52.8" y1="151.5" x2="52.9" y2="147.1" stroke="#dcb870" stroke-width="1.3" opacity="0.63"/>
<line x1="6.2" y1="63.3" x2="7.3" y2="61.2" stroke="#c89848" stroke-width="0.7" opacity="0.43"/>
<line x1="104.6" y1="116.8" x2="105.8" y2="113.3" stroke="#f4e4b8" stroke-width="1.1" opacity="0.55"/>
<line x1="72.2" y1="90.5" x2="71.5" y2="87.7" stroke="#7a5420" stroke-width="0.9" opacity="0.49"/>
<line x1="17.8" y1="111.2" x2="16.8" y2="107.8" stroke="#ecd498" stroke-width="1.1" opacity="0.54"/>
<line x1="110.8" y1="146.9" x2="109.2" y2="142.6" stroke="#9a7028" stroke-width="1.3" opacity="0.62"/>
<line x1="33.9" y1="117.4" x2="35.8" y2="113.9" stroke="#9a7028" stroke-width="1.1" opacity="0.55"/>
<line x1="161.5" y1="88.4" x2="161.9" y2="85.6" stroke="#ecd498" stroke-width="0.9" opacity="0.48"/>
<line x1="28.1" y1="157.3" x2="27.8" y2="152.7" stroke="#9a7028" stroke-width="1.4" opacity="0.64"/>
<line x1="10.9" y1="34.0" x2="11.3" y2="32.7" stroke="#f4e4b8" stroke-width="0.5" opacity="0.36"/>
<line x1="81.7" y1="41.3" x2="82.3" y2="39.8" stroke="#9a7028" stroke-width="0.6" opacity="0.38"/>
</g><use href="#station" transform="translate(1,1)"/>
<rect x="2" y="2" width="158" height="157" rx="10" fill="none" stroke="#1466b4" stroke-width="4"/></g>
<text transform="translate(72.42,426.5) scale(1.0421,1)" font-size="21" font-weight="normal" fill="#111">Monitoring</text>
<text transform="translate(178.43,426.5) scale(1.0326,1)" font-size="21" font-weight="normal" fill="#111">Point</text>
<text transform="translate(232.61,426.5) scale(0.9444,1)" font-size="21" font-weight="normal" fill="#111">1</text>
<text transform="translate(72.42,632.9) scale(1.0421,1)" font-size="21" font-weight="normal" fill="#111">Monitoring</text>
<text transform="translate(178.43,632.9) scale(1.0326,1)" font-size="21" font-weight="normal" fill="#111">Point</text>
<text transform="translate(232.60,632.9) scale(0.9000,1)" font-size="21" font-weight="normal" fill="#111">2</text>
<text transform="translate(72.42,838.4) scale(1.0421,1)" font-size="21" font-weight="normal" fill="#111">Monitoring</text>
<text transform="translate(178.43,838.4) scale(1.0326,1)" font-size="21" font-weight="normal" fill="#111">Point</text>
<text transform="translate(232.60,838.4) scale(0.9000,1)" font-size="21" font-weight="normal" fill="#111">3</text>
<defs><radialGradient id="glow" cx="0.5" cy="0.5" r="0.5"><stop offset="0" stop-color="#d6e6f6" stop-opacity="0.8"/><stop offset="1" stop-color="#ffffff" stop-opacity="0"/></radialGradient></defs><ellipse cx="560" cy="500" rx="70" ry="90" fill="url(#glow)"/>
<g fill="#0a64b4" stroke="none">
  <rect x="238" y="282" width="60" height="5.2"/>
  <path d="M406 282 H460 V319 H454.6 V287.2 H406 Z"/>
  <path d="M449.5 319 H465.5 L457.3 336 Z"/>
  <rect x="238" y="522" width="9.5" height="5.2"/>
  <rect x="354.5" y="522" width="9" height="5.2"/>
  <path d="M362 517.2 L379.5 525 L362 533 Z"/>
  <rect x="237" y="767.5" width="60" height="5.3"/>
  <path d="M407 767.5 H470.6 V708 H476 V772.8 H407 Z"/>
  <path d="M464.7 708.5 H480.9 L472.8 690.6 Z"/>
  <path d="M688 282.5 H544 V343 H550 V288 H688 Z"/>
  <path d="M539.4 343 H555.6 L547.3 361 Z"/>
  <rect x="590" y="522.2" width="47.6" height="5.1"/>
  <path d="M590.6 516 V532 L572.8 524.6 Z"/>
  <path d="M633 765.3 H550.6 V638 H544.9 V771 H633 Z"/>
  <path d="M539.4 638.4 H555.5 L547.4 620.5 Z"/>
</g>

<text transform="translate(305.16,292) scale(0.8432,1)" font-size="25.5" font-weight="normal" fill="#1f67b1">GPRS/4G</text>
<text transform="translate(254.56,530.7) scale(0.8369,1)" font-size="25.5" font-weight="normal" fill="#1f67b1">GPRS/4G</text>
<text transform="translate(305.26,777.1) scale(0.8423,1)" font-size="25.5" font-weight="normal" fill="#1f67b1">GPRS/4G</text>
<defs><linearGradient id="cloudG" x1="0" y1="0" x2="0.3" y2="1"><stop offset="0" stop-color="#3ed0fa"/><stop offset="0.5" stop-color="#45a8f2"/><stop offset="1" stop-color="#5068e0"/></linearGradient>
<radialGradient id="glow" cx="0.5" cy="0.5" r="0.5"><stop offset="0" stop-color="#cfe2f6" stop-opacity="0.9"/><stop offset="1" stop-color="#ffffff" stop-opacity="0"/></radialGradient></defs>
<polygon points="401.0,576.2 472.5,614.2 472.5,649.6 401.0,611.6" fill="#1769c6"/>
<polygon points="472.5,614.2 557.0,568.2 557.0,603.6 472.5,649.6" fill="#1b6fd0"/>
<polygon points="401.0,576.2 472.5,614.2 472.5,618.4 401.0,580.4" fill="#2c86e0"/>
<polygon points="472.5,614.2 557.0,568.2 557.0,572.4 472.5,618.4" fill="#3a92e6"/>
<polyline points="401.0,611.6 472.5,649.6 557.0,603.6" fill="none" stroke="#0f4c9c" stroke-width="1.2"/>
<line x1="472.5" y1="614.2" x2="472.5" y2="649.6" stroke="#0f56b0" stroke-width="1"/>
<polygon points="406.0,590.9 446.8,614.0 446.8,628.1 406.0,606.5" fill="#2a1a5e"/>
<circle cx="408.9" cy="596.3" r="0.95" fill="#c8b8ec"/>
<circle cx="412.9" cy="598.5" r="0.95" fill="#c8b8ec"/>
<circle cx="417.0" cy="600.6" r="0.95" fill="#c8b8ec"/>
<circle cx="421.1" cy="602.8" r="0.95" fill="#c8b8ec"/>
<circle cx="425.2" cy="605.0" r="0.95" fill="#c8b8ec"/>
<circle cx="429.2" cy="607.1" r="0.95" fill="#c8b8ec"/>
<circle cx="433.3" cy="609.3" r="0.95" fill="#c8b8ec"/>
<circle cx="437.4" cy="611.5" r="0.95" fill="#c8b8ec"/>
<circle cx="441.5" cy="613.6" r="0.95" fill="#c8b8ec"/>
<circle cx="445.5" cy="615.8" r="0.95" fill="#c8b8ec"/>
<circle cx="408.9" cy="600.6" r="0.95" fill="#c8b8ec"/>
<circle cx="412.9" cy="602.7" r="0.95" fill="#c8b8ec"/>
<circle cx="417.0" cy="604.9" r="0.95" fill="#c8b8ec"/>
<circle cx="421.1" cy="607.1" r="0.95" fill="#c8b8ec"/>
<circle cx="425.2" cy="609.2" r="0.95" fill="#c8b8ec"/>
<circle cx="429.2" cy="611.4" r="0.95" fill="#c8b8ec"/>
<circle cx="433.3" cy="613.6" r="0.95" fill="#c8b8ec"/>
<circle cx="437.4" cy="615.7" r="0.95" fill="#c8b8ec"/>
<circle cx="441.5" cy="617.9" r="0.95" fill="#c8b8ec"/>
<circle cx="445.5" cy="620.1" r="0.95" fill="#c8b8ec"/>
<circle cx="408.9" cy="604.8" r="0.95" fill="#c8b8ec"/>
<circle cx="412.9" cy="607.0" r="0.95" fill="#c8b8ec"/>
<circle cx="417.0" cy="609.1" r="0.95" fill="#c8b8ec"/>
<circle cx="421.1" cy="611.3" r="0.95" fill="#c8b8ec"/>
<circle cx="425.2" cy="613.5" r="0.95" fill="#c8b8ec"/>
<circle cx="429.2" cy="615.6" r="0.95" fill="#c8b8ec"/>
<circle cx="433.3" cy="617.8" r="0.95" fill="#c8b8ec"/>
<circle cx="437.4" cy="620.0" r="0.95" fill="#c8b8ec"/>
<circle cx="441.5" cy="622.1" r="0.95" fill="#c8b8ec"/>
<circle cx="445.5" cy="624.3" r="0.95" fill="#c8b8ec"/>
<line x1="448.9" y1="615.1" x2="448.9" y2="633.5" stroke="#1a2a80" stroke-width="1.1"/>
<line x1="451.6" y1="616.5" x2="451.6" y2="634.9" stroke="#1a2a80" stroke-width="1.1"/>
<line x1="454.2" y1="617.9" x2="454.2" y2="636.3" stroke="#1a2a80" stroke-width="1.1"/>
<line x1="456.8" y1="619.3" x2="456.8" y2="637.7" stroke="#1a2a80" stroke-width="1.1"/>
<line x1="459.5" y1="620.7" x2="459.5" y2="639.1" stroke="#1a2a80" stroke-width="1.1"/>
<line x1="462.1" y1="622.1" x2="462.1" y2="640.6" stroke="#1a2a80" stroke-width="1.1"/>
<line x1="464.8" y1="623.5" x2="464.8" y2="642.0" stroke="#1a2a80" stroke-width="1.1"/>
<line x1="467.4" y1="625.0" x2="467.4" y2="643.4" stroke="#1a2a80" stroke-width="1.1"/>
<ellipse cx="488.6" cy="626.0" rx="6.9" ry="7.8" fill="#f0da4a"/>
<circle cx="494.2" cy="626.0" r="0.75" fill="#2a5cb0"/>
<circle cx="493.4" cy="629.2" r="0.75" fill="#2a5cb0"/>
<circle cx="491.4" cy="631.6" r="0.75" fill="#2a5cb0"/>
<circle cx="488.6" cy="632.5" r="0.75" fill="#2a5cb0"/>
<circle cx="485.8" cy="631.6" r="0.75" fill="#2a5cb0"/>
<circle cx="483.7" cy="629.2" r="0.75" fill="#2a5cb0"/>
<circle cx="483.0" cy="626.0" r="0.75" fill="#2a5cb0"/>
<circle cx="483.7" cy="622.7" r="0.75" fill="#2a5cb0"/>
<circle cx="485.8" cy="620.4" r="0.75" fill="#2a5cb0"/>
<circle cx="488.6" cy="619.5" r="0.75" fill="#2a5cb0"/>
<circle cx="491.4" cy="620.4" r="0.75" fill="#2a5cb0"/>
<circle cx="493.4" cy="622.7" r="0.75" fill="#2a5cb0"/>
<ellipse cx="488.6" cy="626.0" rx="3.2" ry="3.6" fill="#e4c838" opacity="0.7"/>
<ellipse cx="513.9" cy="612.2" rx="6.9" ry="7.8" fill="#f0da4a"/>
<circle cx="519.5" cy="612.2" r="0.75" fill="#2a5cb0"/>
<circle cx="518.8" cy="615.4" r="0.75" fill="#2a5cb0"/>
<circle cx="516.7" cy="617.8" r="0.75" fill="#2a5cb0"/>
<circle cx="513.9" cy="618.7" r="0.75" fill="#2a5cb0"/>
<circle cx="511.1" cy="617.8" r="0.75" fill="#2a5cb0"/>
<circle cx="509.1" cy="615.4" r="0.75" fill="#2a5cb0"/>
<circle cx="508.3" cy="612.2" r="0.75" fill="#2a5cb0"/>
<circle cx="509.1" cy="608.9" r="0.75" fill="#2a5cb0"/>
<circle cx="511.1" cy="606.6" r="0.75" fill="#2a5cb0"/>
<circle cx="513.9" cy="605.7" r="0.75" fill="#2a5cb0"/>
<circle cx="516.7" cy="606.6" r="0.75" fill="#2a5cb0"/>
<circle cx="518.8" cy="608.9" r="0.75" fill="#2a5cb0"/>
<ellipse cx="513.9" cy="612.2" rx="3.2" ry="3.6" fill="#e4c838" opacity="0.7"/>
<ellipse cx="539.3" cy="598.4" rx="6.9" ry="7.8" fill="#f0da4a"/>
<circle cx="544.9" cy="598.4" r="0.75" fill="#2a5cb0"/>
<circle cx="544.1" cy="601.6" r="0.75" fill="#2a5cb0"/>
<circle cx="542.1" cy="604.0" r="0.75" fill="#2a5cb0"/>
<circle cx="539.3" cy="604.9" r="0.75" fill="#2a5cb0"/>
<circle cx="536.5" cy="604.0" r="0.75" fill="#2a5cb0"/>
<circle cx="534.4" cy="601.6" r="0.75" fill="#2a5cb0"/>
<circle cx="533.7" cy="598.4" r="0.75" fill="#2a5cb0"/>
<circle cx="534.4" cy="595.1" r="0.75" fill="#2a5cb0"/>
<circle cx="536.5" cy="592.8" r="0.75" fill="#2a5cb0"/>
<circle cx="539.3" cy="591.9" r="0.75" fill="#2a5cb0"/>
<circle cx="542.1" cy="592.8" r="0.75" fill="#2a5cb0"/>
<circle cx="544.1" cy="595.1" r="0.75" fill="#2a5cb0"/>
<ellipse cx="539.3" cy="598.4" rx="3.2" ry="3.6" fill="#e4c838" opacity="0.7"/>
<polygon points="401.0,540.8 472.5,578.8 472.5,614.2 401.0,576.2" fill="#1769c6"/>
<polygon points="472.5,578.8 557.0,532.8 557.0,568.2 472.5,614.2" fill="#1b6fd0"/>
<polygon points="401.0,540.8 472.5,578.8 472.5,583.0 401.0,545.0" fill="#2c86e0"/>
<polygon points="472.5,578.8 557.0,532.8 557.0,537.0 472.5,583.0" fill="#3a92e6"/>
<polyline points="401.0,576.2 472.5,614.2 557.0,568.2" fill="none" stroke="#0f4c9c" stroke-width="1.2"/>
<line x1="472.5" y1="578.8" x2="472.5" y2="614.2" stroke="#0f56b0" stroke-width="1"/>
<polygon points="406.0,555.5 446.8,578.6 446.8,592.7 406.0,571.1" fill="#2a1a5e"/>
<circle cx="408.9" cy="560.9" r="0.95" fill="#c8b8ec"/>
<circle cx="412.9" cy="563.1" r="0.95" fill="#c8b8ec"/>
<circle cx="417.0" cy="565.2" r="0.95" fill="#c8b8ec"/>
<circle cx="421.1" cy="567.4" r="0.95" fill="#c8b8ec"/>
<circle cx="425.2" cy="569.6" r="0.95" fill="#c8b8ec"/>
<circle cx="429.2" cy="571.7" r="0.95" fill="#c8b8ec"/>
<circle cx="433.3" cy="573.9" r="0.95" fill="#c8b8ec"/>
<circle cx="437.4" cy="576.1" r="0.95" fill="#c8b8ec"/>
<circle cx="441.5" cy="578.2" r="0.95" fill="#c8b8ec"/>
<circle cx="445.5" cy="580.4" r="0.95" fill="#c8b8ec"/>
<circle cx="408.9" cy="565.2" r="0.95" fill="#c8b8ec"/>
<circle cx="412.9" cy="567.3" r="0.95" fill="#c8b8ec"/>
<circle cx="417.0" cy="569.5" r="0.95" fill="#c8b8ec"/>
<circle cx="421.1" cy="571.7" r="0.95" fill="#c8b8ec"/>
<circle cx="425.2" cy="573.8" r="0.95" fill="#c8b8ec"/>
<circle cx="429.2" cy="576.0" r="0.95" fill="#c8b8ec"/>
<circle cx="433.3" cy="578.2" r="0.95" fill="#c8b8ec"/>
<circle cx="437.4" cy="580.3" r="0.95" fill="#c8b8ec"/>
<circle cx="441.5" cy="582.5" r="0.95" fill="#c8b8ec"/>
<circle cx="445.5" cy="584.7" r="0.95" fill="#c8b8ec"/>
<circle cx="408.9" cy="569.4" r="0.95" fill="#c8b8ec"/>
<circle cx="412.9" cy="571.6" r="0.95" fill="#c8b8ec"/>
<circle cx="417.0" cy="573.7" r="0.95" fill="#c8b8ec"/>
<circle cx="421.1" cy="575.9" r="0.95" fill="#c8b8ec"/>
<circle cx="425.2" cy="578.1" r="0.95" fill="#c8b8ec"/>
<circle cx="429.2" cy="580.2" r="0.95" fill="#c8b8ec"/>
<circle cx="433.3" cy="582.4" r="0.95" fill="#c8b8ec"/>
<circle cx="437.4" cy="584.6" r="0.95" fill="#c8b8ec"/>
<circle cx="441.5" cy="586.7" r="0.95" fill="#c8b8ec"/>
<circle cx="445.5" cy="588.9" r="0.95" fill="#c8b8ec"/>
<line x1="448.9" y1="579.7" x2="448.9" y2="598.1" stroke="#1a2a80" stroke-width="1.1"/>
<line x1="451.6" y1="581.1" x2="451.6" y2="599.5" stroke="#1a2a80" stroke-width="1.1"/>
<line x1="454.2" y1="582.5" x2="454.2" y2="600.9" stroke="#1a2a80" stroke-width="1.1"/>
<line x1="456.8" y1="583.9" x2="456.8" y2="602.3" stroke="#1a2a80" stroke-width="1.1"/>
<line x1="459.5" y1="585.3" x2="459.5" y2="603.7" stroke="#1a2a80" stroke-width="1.1"/>
<line x1="462.1" y1="586.7" x2="462.1" y2="605.1" stroke="#1a2a80" stroke-width="1.1"/>
<line x1="464.8" y1="588.1" x2="464.8" y2="606.6" stroke="#1a2a80" stroke-width="1.1"/>
<line x1="467.4" y1="589.6" x2="467.4" y2="608.0" stroke="#1a2a80" stroke-width="1.1"/>
<ellipse cx="488.6" cy="590.6" rx="6.9" ry="7.8" fill="#f0da4a"/>
<circle cx="494.2" cy="590.6" r="0.75" fill="#2a5cb0"/>
<circle cx="493.4" cy="593.8" r="0.75" fill="#2a5cb0"/>
<circle cx="491.4" cy="596.2" r="0.75" fill="#2a5cb0"/>
<circle cx="488.6" cy="597.1" r="0.75" fill="#2a5cb0"/>
<circle cx="485.8" cy="596.2" r="0.75" fill="#2a5cb0"/>
<circle cx="483.7" cy="593.8" r="0.75" fill="#2a5cb0"/>
<circle cx="483.0" cy="590.6" r="0.75" fill="#2a5cb0"/>
<circle cx="483.7" cy="587.3" r="0.75" fill="#2a5cb0"/>
<circle cx="485.8" cy="585.0" r="0.75" fill="#2a5cb0"/>
<circle cx="488.6" cy="584.1" r="0.75" fill="#2a5cb0"/>
<circle cx="491.4" cy="585.0" r="0.75" fill="#2a5cb0"/>
<circle cx="493.4" cy="587.3" r="0.75" fill="#2a5cb0"/>
<ellipse cx="488.6" cy="590.6" rx="3.2" ry="3.6" fill="#e4c838" opacity="0.7"/>
<ellipse cx="513.9" cy="576.8" rx="6.9" ry="7.8" fill="#f0da4a"/>
<circle cx="519.5" cy="576.8" r="0.75" fill="#2a5cb0"/>
<circle cx="518.8" cy="580.0" r="0.75" fill="#2a5cb0"/>
<circle cx="516.7" cy="582.4" r="0.75" fill="#2a5cb0"/>
<circle cx="513.9" cy="583.3" r="0.75" fill="#2a5cb0"/>
<circle cx="511.1" cy="582.4" r="0.75" fill="#2a5cb0"/>
<circle cx="509.1" cy="580.0" r="0.75" fill="#2a5cb0"/>
<circle cx="508.3" cy="576.8" r="0.75" fill="#2a5cb0"/>
<circle cx="509.1" cy="573.5" r="0.75" fill="#2a5cb0"/>
<circle cx="511.1" cy="571.2" r="0.75" fill="#2a5cb0"/>
<circle cx="513.9" cy="570.3" r="0.75" fill="#2a5cb0"/>
<circle cx="516.7" cy="571.2" r="0.75" fill="#2a5cb0"/>
<circle cx="518.8" cy="573.5" r="0.75" fill="#2a5cb0"/>
<ellipse cx="513.9" cy="576.8" rx="3.2" ry="3.6" fill="#e4c838" opacity="0.7"/>
<ellipse cx="539.3" cy="563.0" rx="6.9" ry="7.8" fill="#f0da4a"/>
<circle cx="544.9" cy="563.0" r="0.75" fill="#2a5cb0"/>
<circle cx="544.1" cy="566.2" r="0.75" fill="#2a5cb0"/>
<circle cx="542.1" cy="568.6" r="0.75" fill="#2a5cb0"/>
<circle cx="539.3" cy="569.5" r="0.75" fill="#2a5cb0"/>
<circle cx="536.5" cy="568.6" r="0.75" fill="#2a5cb0"/>
<circle cx="534.4" cy="566.2" r="0.75" fill="#2a5cb0"/>
<circle cx="533.7" cy="563.0" r="0.75" fill="#2a5cb0"/>
<circle cx="534.4" cy="559.7" r="0.75" fill="#2a5cb0"/>
<circle cx="536.5" cy="557.4" r="0.75" fill="#2a5cb0"/>
<circle cx="539.3" cy="556.5" r="0.75" fill="#2a5cb0"/>
<circle cx="542.1" cy="557.4" r="0.75" fill="#2a5cb0"/>
<circle cx="544.1" cy="559.7" r="0.75" fill="#2a5cb0"/>
<ellipse cx="539.3" cy="563.0" rx="3.2" ry="3.6" fill="#e4c838" opacity="0.7"/>
<polygon points="401.0,505.4 472.5,543.4 472.5,578.8 401.0,540.8" fill="#1769c6"/>
<polygon points="472.5,543.4 557.0,497.4 557.0,532.8 472.5,578.8" fill="#1b6fd0"/>
<polygon points="401.0,505.4 472.5,543.4 472.5,547.6 401.0,509.6" fill="#2c86e0"/>
<polygon points="472.5,543.4 557.0,497.4 557.0,501.6 472.5,547.6" fill="#3a92e6"/>
<polyline points="401.0,540.8 472.5,578.8 557.0,532.8" fill="none" stroke="#0f4c9c" stroke-width="1.2"/>
<line x1="472.5" y1="543.4" x2="472.5" y2="578.8" stroke="#0f56b0" stroke-width="1"/>
<polygon points="406.0,520.1 446.8,543.2 446.8,557.3 406.0,535.7" fill="#2a1a5e"/>
<circle cx="408.9" cy="525.5" r="0.95" fill="#c8b8ec"/>
<circle cx="412.9" cy="527.7" r="0.95" fill="#c8b8ec"/>
<circle cx="417.0" cy="529.8" r="0.95" fill="#c8b8ec"/>
<circle cx="421.1" cy="532.0" r="0.95" fill="#c8b8ec"/>
<circle cx="425.2" cy="534.2" r="0.95" fill="#c8b8ec"/>
<circle cx="429.2" cy="536.3" r="0.95" fill="#c8b8ec"/>
<circle cx="433.3" cy="538.5" r="0.95" fill="#c8b8ec"/>
<circle cx="437.4" cy="540.7" r="0.95" fill="#c8b8ec"/>
<circle cx="441.5" cy="542.8" r="0.95" fill="#c8b8ec"/>
<circle cx="445.5" cy="545.0" r="0.95" fill="#c8b8ec"/>
<circle cx="408.9" cy="529.8" r="0.95" fill="#c8b8ec"/>
<circle cx="412.9" cy="531.9" r="0.95" fill="#c8b8ec"/>
<circle cx="417.0" cy="534.1" r="0.95" fill="#c8b8ec"/>
<circle cx="421.1" cy="536.3" r="0.95" fill="#c8b8ec"/>
<circle cx="425.2" cy="538.4" r="0.95" fill="#c8b8ec"/>
<circle cx="429.2" cy="540.6" r="0.95" fill="#c8b8ec"/>
<circle cx="433.3" cy="542.8" r="0.95" fill="#c8b8ec"/>
<circle cx="437.4" cy="544.9" r="0.95" fill="#c8b8ec"/>
<circle cx="441.5" cy="547.1" r="0.95" fill="#c8b8ec"/>
<circle cx="445.5" cy="549.3" r="0.95" fill="#c8b8ec"/>
<circle cx="408.9" cy="534.0" r="0.95" fill="#c8b8ec"/>
<circle cx="412.9" cy="536.2" r="0.95" fill="#c8b8ec"/>
<circle cx="417.0" cy="538.3" r="0.95" fill="#c8b8ec"/>
<circle cx="421.1" cy="540.5" r="0.95" fill="#c8b8ec"/>
<circle cx="425.2" cy="542.7" r="0.95" fill="#c8b8ec"/>
<circle cx="429.2" cy="544.8" r="0.95" fill="#c8b8ec"/>
<circle cx="433.3" cy="547.0" r="0.95" fill="#c8b8ec"/>
<circle cx="437.4" cy="549.2" r="0.95" fill="#c8b8ec"/>
<circle cx="441.5" cy="551.3" r="0.95" fill="#c8b8ec"/>
<circle cx="445.5" cy="553.5" r="0.95" fill="#c8b8ec"/>
<line x1="448.9" y1="544.3" x2="448.9" y2="562.7" stroke="#1a2a80" stroke-width="1.1"/>
<line x1="451.6" y1="545.7" x2="451.6" y2="564.1" stroke="#1a2a80" stroke-width="1.1"/>
<line x1="454.2" y1="547.1" x2="454.2" y2="565.5" stroke="#1a2a80" stroke-width="1.1"/>
<line x1="456.8" y1="548.5" x2="456.8" y2="566.9" stroke="#1a2a80" stroke-width="1.1"/>
<line x1="459.5" y1="549.9" x2="459.5" y2="568.3" stroke="#1a2a80" stroke-width="1.1"/>
<line x1="462.1" y1="551.3" x2="462.1" y2="569.8" stroke="#1a2a80" stroke-width="1.1"/>
<line x1="464.8" y1="552.7" x2="464.8" y2="571.2" stroke="#1a2a80" stroke-width="1.1"/>
<line x1="467.4" y1="554.2" x2="467.4" y2="572.6" stroke="#1a2a80" stroke-width="1.1"/>
<ellipse cx="488.6" cy="555.2" rx="6.9" ry="7.8" fill="#f0da4a"/>
<circle cx="494.2" cy="555.2" r="0.75" fill="#2a5cb0"/>
<circle cx="493.4" cy="558.4" r="0.75" fill="#2a5cb0"/>
<circle cx="491.4" cy="560.8" r="0.75" fill="#2a5cb0"/>
<circle cx="488.6" cy="561.7" r="0.75" fill="#2a5cb0"/>
<circle cx="485.8" cy="560.8" r="0.75" fill="#2a5cb0"/>
<circle cx="483.7" cy="558.4" r="0.75" fill="#2a5cb0"/>
<circle cx="483.0" cy="555.2" r="0.75" fill="#2a5cb0"/>
<circle cx="483.7" cy="551.9" r="0.75" fill="#2a5cb0"/>
<circle cx="485.8" cy="549.6" r="0.75" fill="#2a5cb0"/>
<circle cx="488.6" cy="548.7" r="0.75" fill="#2a5cb0"/>
<circle cx="491.4" cy="549.6" r="0.75" fill="#2a5cb0"/>
<circle cx="493.4" cy="551.9" r="0.75" fill="#2a5cb0"/>
<ellipse cx="488.6" cy="555.2" rx="3.2" ry="3.6" fill="#e4c838" opacity="0.7"/>
<ellipse cx="513.9" cy="541.4" rx="6.9" ry="7.8" fill="#f0da4a"/>
<circle cx="519.5" cy="541.4" r="0.75" fill="#2a5cb0"/>
<circle cx="518.8" cy="544.6" r="0.75" fill="#2a5cb0"/>
<circle cx="516.7" cy="547.0" r="0.75" fill="#2a5cb0"/>
<circle cx="513.9" cy="547.9" r="0.75" fill="#2a5cb0"/>
<circle cx="511.1" cy="547.0" r="0.75" fill="#2a5cb0"/>
<circle cx="509.1" cy="544.6" r="0.75" fill="#2a5cb0"/>
<circle cx="508.3" cy="541.4" r="0.75" fill="#2a5cb0"/>
<circle cx="509.1" cy="538.1" r="0.75" fill="#2a5cb0"/>
<circle cx="511.1" cy="535.8" r="0.75" fill="#2a5cb0"/>
<circle cx="513.9" cy="534.9" r="0.75" fill="#2a5cb0"/>
<circle cx="516.7" cy="535.8" r="0.75" fill="#2a5cb0"/>
<circle cx="518.8" cy="538.1" r="0.75" fill="#2a5cb0"/>
<ellipse cx="513.9" cy="541.4" rx="3.2" ry="3.6" fill="#e4c838" opacity="0.7"/>
<ellipse cx="539.3" cy="527.6" rx="6.9" ry="7.8" fill="#f0da4a"/>
<circle cx="544.9" cy="527.6" r="0.75" fill="#2a5cb0"/>
<circle cx="544.1" cy="530.8" r="0.75" fill="#2a5cb0"/>
<circle cx="542.1" cy="533.2" r="0.75" fill="#2a5cb0"/>
<circle cx="539.3" cy="534.1" r="0.75" fill="#2a5cb0"/>
<circle cx="536.5" cy="533.2" r="0.75" fill="#2a5cb0"/>
<circle cx="534.4" cy="530.8" r="0.75" fill="#2a5cb0"/>
<circle cx="533.7" cy="527.6" r="0.75" fill="#2a5cb0"/>
<circle cx="534.4" cy="524.3" r="0.75" fill="#2a5cb0"/>
<circle cx="536.5" cy="522.0" r="0.75" fill="#2a5cb0"/>
<circle cx="539.3" cy="521.1" r="0.75" fill="#2a5cb0"/>
<circle cx="542.1" cy="522.0" r="0.75" fill="#2a5cb0"/>
<circle cx="544.1" cy="524.3" r="0.75" fill="#2a5cb0"/>
<ellipse cx="539.3" cy="527.6" rx="3.2" ry="3.6" fill="#e4c838" opacity="0.7"/>
<polygon points="401.0,470.0 472.5,508.0 472.5,543.4 401.0,505.4" fill="#1769c6"/>
<polygon points="472.5,508.0 557.0,462.0 557.0,497.4 472.5,543.4" fill="#1b6fd0"/>
<polygon points="401.0,470.0 472.5,508.0 472.5,512.2 401.0,474.2" fill="#2c86e0"/>
<polygon points="472.5,508.0 557.0,462.0 557.0,466.2 472.5,512.2" fill="#3a92e6"/>
<polyline points="401.0,505.4 472.5,543.4 557.0,497.4" fill="none" stroke="#0f4c9c" stroke-width="1.2"/>
<line x1="472.5" y1="508.0" x2="472.5" y2="543.4" stroke="#0f56b0" stroke-width="1"/>
<polygon points="406.0,484.7 446.8,507.8 446.8,521.9 406.0,500.3" fill="#2a1a5e"/>
<circle cx="408.9" cy="490.1" r="0.95" fill="#c8b8ec"/>
<circle cx="412.9" cy="492.3" r="0.95" fill="#c8b8ec"/>
<circle cx="417.0" cy="494.4" r="0.95" fill="#c8b8ec"/>
<circle cx="421.1" cy="496.6" r="0.95" fill="#c8b8ec"/>
<circle cx="425.2" cy="498.8" r="0.95" fill="#c8b8ec"/>
<circle cx="429.2" cy="500.9" r="0.95" fill="#c8b8ec"/>
<circle cx="433.3" cy="503.1" r="0.95" fill="#c8b8ec"/>
<circle cx="437.4" cy="505.3" r="0.95" fill="#c8b8ec"/>
<circle cx="441.5" cy="507.4" r="0.95" fill="#c8b8ec"/>
<circle cx="445.5" cy="509.6" r="0.95" fill="#c8b8ec"/>
<circle cx="408.9" cy="494.4" r="0.95" fill="#c8b8ec"/>
<circle cx="412.9" cy="496.5" r="0.95" fill="#c8b8ec"/>
<circle cx="417.0" cy="498.7" r="0.95" fill="#c8b8ec"/>
<circle cx="421.1" cy="500.9" r="0.95" fill="#c8b8ec"/>
<circle cx="425.2" cy="503.0" r="0.95" fill="#c8b8ec"/>
<circle cx="429.2" cy="505.2" r="0.95" fill="#c8b8ec"/>
<circle cx="433.3" cy="507.4" r="0.95" fill="#c8b8ec"/>
<circle cx="437.4" cy="509.5" r="0.95" fill="#c8b8ec"/>
<circle cx="441.5" cy="511.7" r="0.95" fill="#c8b8ec"/>
<circle cx="445.5" cy="513.9" r="0.95" fill="#c8b8ec"/>
<circle cx="408.9" cy="498.6" r="0.95" fill="#c8b8ec"/>
<circle cx="412.9" cy="500.8" r="0.95" fill="#c8b8ec"/>
<circle cx="417.0" cy="502.9" r="0.95" fill="#c8b8ec"/>
<circle cx="421.1" cy="505.1" r="0.95" fill="#c8b8ec"/>
<circle cx="425.2" cy="507.3" r="0.95" fill="#c8b8ec"/>
<circle cx="429.2" cy="509.4" r="0.95" fill="#c8b8ec"/>
<circle cx="433.3" cy="511.6" r="0.95" fill="#c8b8ec"/>
<circle cx="437.4" cy="513.8" r="0.95" fill="#c8b8ec"/>
<circle cx="441.5" cy="515.9" r="0.95" fill="#c8b8ec"/>
<circle cx="445.5" cy="518.1" r="0.95" fill="#c8b8ec"/>
<line x1="448.9" y1="508.9" x2="448.9" y2="527.3" stroke="#1a2a80" stroke-width="1.1"/>
<line x1="451.6" y1="510.3" x2="451.6" y2="528.7" stroke="#1a2a80" stroke-width="1.1"/>
<line x1="454.2" y1="511.7" x2="454.2" y2="530.1" stroke="#1a2a80" stroke-width="1.1"/>
<line x1="456.8" y1="513.1" x2="456.8" y2="531.5" stroke="#1a2a80" stroke-width="1.1"/>
<line x1="459.5" y1="514.5" x2="459.5" y2="532.9" stroke="#1a2a80" stroke-width="1.1"/>
<line x1="462.1" y1="515.9" x2="462.1" y2="534.4" stroke="#1a2a80" stroke-width="1.1"/>
<line x1="464.8" y1="517.3" x2="464.8" y2="535.8" stroke="#1a2a80" stroke-width="1.1"/>
<line x1="467.4" y1="518.8" x2="467.4" y2="537.2" stroke="#1a2a80" stroke-width="1.1"/>
<ellipse cx="488.6" cy="519.8" rx="6.9" ry="7.8" fill="#f0da4a"/>
<circle cx="494.2" cy="519.8" r="0.75" fill="#2a5cb0"/>
<circle cx="493.4" cy="523.0" r="0.75" fill="#2a5cb0"/>
<circle cx="491.4" cy="525.4" r="0.75" fill="#2a5cb0"/>
<circle cx="488.6" cy="526.3" r="0.75" fill="#2a5cb0"/>
<circle cx="485.8" cy="525.4" r="0.75" fill="#2a5cb0"/>
<circle cx="483.7" cy="523.0" r="0.75" fill="#2a5cb0"/>
<circle cx="483.0" cy="519.8" r="0.75" fill="#2a5cb0"/>
<circle cx="483.7" cy="516.5" r="0.75" fill="#2a5cb0"/>
<circle cx="485.8" cy="514.2" r="0.75" fill="#2a5cb0"/>
<circle cx="488.6" cy="513.3" r="0.75" fill="#2a5cb0"/>
<circle cx="491.4" cy="514.2" r="0.75" fill="#2a5cb0"/>
<circle cx="493.4" cy="516.5" r="0.75" fill="#2a5cb0"/>
<ellipse cx="488.6" cy="519.8" rx="3.2" ry="3.6" fill="#e4c838" opacity="0.7"/>
<ellipse cx="513.9" cy="506.0" rx="6.9" ry="7.8" fill="#f0da4a"/>
<circle cx="519.5" cy="506.0" r="0.75" fill="#2a5cb0"/>
<circle cx="518.8" cy="509.2" r="0.75" fill="#2a5cb0"/>
<circle cx="516.7" cy="511.6" r="0.75" fill="#2a5cb0"/>
<circle cx="513.9" cy="512.5" r="0.75" fill="#2a5cb0"/>
<circle cx="511.1" cy="511.6" r="0.75" fill="#2a5cb0"/>
<circle cx="509.1" cy="509.2" r="0.75" fill="#2a5cb0"/>
<circle cx="508.3" cy="506.0" r="0.75" fill="#2a5cb0"/>
<circle cx="509.1" cy="502.7" r="0.75" fill="#2a5cb0"/>
<circle cx="511.1" cy="500.4" r="0.75" fill="#2a5cb0"/>
<circle cx="513.9" cy="499.5" r="0.75" fill="#2a5cb0"/>
<circle cx="516.7" cy="500.4" r="0.75" fill="#2a5cb0"/>
<circle cx="518.8" cy="502.7" r="0.75" fill="#2a5cb0"/>
<ellipse cx="513.9" cy="506.0" rx="3.2" ry="3.6" fill="#e4c838" opacity="0.7"/>
<ellipse cx="539.3" cy="492.2" rx="6.9" ry="7.8" fill="#f0da4a"/>
<circle cx="544.9" cy="492.2" r="0.75" fill="#2a5cb0"/>
<circle cx="544.1" cy="495.4" r="0.75" fill="#2a5cb0"/>
<circle cx="542.1" cy="497.8" r="0.75" fill="#2a5cb0"/>
<circle cx="539.3" cy="498.7" r="0.75" fill="#2a5cb0"/>
<circle cx="536.5" cy="497.8" r="0.75" fill="#2a5cb0"/>
<circle cx="534.4" cy="495.4" r="0.75" fill="#2a5cb0"/>
<circle cx="533.7" cy="492.2" r="0.75" fill="#2a5cb0"/>
<circle cx="534.4" cy="488.9" r="0.75" fill="#2a5cb0"/>
<circle cx="536.5" cy="486.6" r="0.75" fill="#2a5cb0"/>
<circle cx="539.3" cy="485.7" r="0.75" fill="#2a5cb0"/>
<circle cx="542.1" cy="486.6" r="0.75" fill="#2a5cb0"/>
<circle cx="544.1" cy="488.9" r="0.75" fill="#2a5cb0"/>
<ellipse cx="539.3" cy="492.2" rx="3.2" ry="3.6" fill="#e4c838" opacity="0.7"/>
<polygon points="401.0,470.0 472.5,508.0 557.0,462.0 485.5,424.0" fill="#1f78d8"/>
<polygon points="412.7,469.4 473.5,501.7 545.3,462.6 484.5,430.3" fill="#0c1a7c"/>
<polygon points="421.7,471.7 421.7,474.2 465.0,501.3 535.8,465.8 535.8,463.3 465.0,498.3" fill="#707078"/>
<polygon points="421.7,471.7 465.0,498.3 535.8,463.3 492.5,436.7" fill="#a4a4aa"/>
<polygon points="427.4,471.3 429.4,472.5 432.7,470.9 430.7,469.7" fill="#f6f6fa"/>
<polygon points="432.1,469.0 434.1,470.2 437.3,468.6 435.3,467.4" fill="#f6f6fa"/>
<polygon points="436.7,466.7 438.7,467.9 442.0,466.3 440.0,465.1" fill="#f6f6fa"/>
<polygon points="441.4,464.4 443.4,465.6 446.6,464.0 444.6,462.8" fill="#f6f6fa"/>
<polygon points="446.0,462.1 448.0,463.3 451.3,461.7 449.3,460.5" fill="#f6f6fa"/>
<polygon points="450.7,459.8 452.7,461.0 455.9,459.4 453.9,458.2" fill="#f6f6fa"/>
<polygon points="455.3,457.5 457.3,458.7 460.6,457.1 458.6,455.9" fill="#f6f6fa"/>
<polygon points="460.0,455.2 462.0,456.4 465.2,454.8 463.2,453.6" fill="#f6f6fa"/>
<polygon points="464.6,452.9 466.6,454.1 469.9,452.5 467.9,451.3" fill="#f6f6fa"/>
<polygon points="469.3,450.6 471.3,451.8 474.5,450.2 472.5,449.0" fill="#f6f6fa"/>
<polygon points="473.9,448.3 475.9,449.5 479.2,447.9 477.2,446.7" fill="#f6f6fa"/>
<polygon points="478.6,446.0 480.6,447.2 483.9,445.6 481.8,444.4" fill="#f6f6fa"/>
<polygon points="483.2,443.7 485.2,444.9 488.5,443.3 486.5,442.1" fill="#f6f6fa"/>
<polygon points="487.9,441.4 489.9,442.6 493.2,441.0 491.1,439.8" fill="#f6f6fa"/>
<polygon points="430.7,473.3 432.7,474.5 435.9,472.9 433.9,471.7" fill="#f6f6fa"/>
<polygon points="435.3,471.0 437.3,472.2 440.6,470.6 438.6,469.4" fill="#f6f6fa"/>
<polygon points="440.0,468.7 442.0,469.9 445.2,468.3 443.2,467.1" fill="#f6f6fa"/>
<polygon points="444.6,466.4 446.6,467.6 449.9,466.0 447.9,464.8" fill="#f6f6fa"/>
<polygon points="449.3,464.1 451.3,465.3 454.5,463.7 452.5,462.5" fill="#f6f6fa"/>
<polygon points="453.9,461.8 455.9,463.0 459.2,461.4 457.2,460.2" fill="#f6f6fa"/>
<polygon points="458.6,459.5 460.6,460.7 463.8,459.1 461.8,457.9" fill="#f6f6fa"/>
<polygon points="463.2,457.2 465.2,458.4 468.5,456.8 466.5,455.6" fill="#f6f6fa"/>
<polygon points="467.9,454.9 469.9,456.1 473.1,454.5 471.1,453.3" fill="#f6f6fa"/>
<polygon points="472.5,452.6 474.5,453.8 477.8,452.2 475.8,451.0" fill="#f6f6fa"/>
<polygon points="477.2,450.3 479.2,451.5 482.4,449.9 480.4,448.7" fill="#f6f6fa"/>
<polygon points="481.8,448.0 483.8,449.2 487.1,447.6 485.1,446.4" fill="#f6f6fa"/>
<polygon points="486.5,445.7 488.5,446.9 491.8,445.3 489.7,444.1" fill="#f6f6fa"/>
<polygon points="491.1,443.4 493.1,444.6 496.4,443.0 494.4,441.8" fill="#f6f6fa"/>
<polygon points="433.9,475.3 435.9,476.5 439.2,474.9 437.2,473.7" fill="#f6f6fa"/>
<polygon points="438.6,473.0 440.6,474.2 443.8,472.6 441.8,471.4" fill="#f6f6fa"/>
<polygon points="443.2,470.7 445.2,471.9 448.5,470.3 446.5,469.1" fill="#f6f6fa"/>
<polygon points="447.9,468.4 449.9,469.6 453.1,468.0 451.1,466.8" fill="#f6f6fa"/>
<polygon points="452.5,466.1 454.5,467.3 457.8,465.7 455.8,464.5" fill="#f6f6fa"/>
<polygon points="457.2,463.8 459.2,465.0 462.4,463.4 460.4,462.2" fill="#f6f6fa"/>
<polygon points="461.8,461.5 463.8,462.7 467.1,461.1 465.1,459.9" fill="#f6f6fa"/>
<polygon points="466.5,459.2 468.5,460.4 471.7,458.8 469.7,457.6" fill="#f6f6fa"/>
<polygon points="471.1,456.9 473.1,458.1 476.4,456.5 474.4,455.3" fill="#f6f6fa"/>
<polygon points="475.8,454.6 477.8,455.8 481.0,454.2 479.0,453.0" fill="#f6f6fa"/>
<polygon points="480.4,452.3 482.4,453.5 485.7,451.9 483.7,450.7" fill="#f6f6fa"/>
<polygon points="485.1,450.0 487.1,451.2 490.3,449.6 488.3,448.4" fill="#f6f6fa"/>
<polygon points="489.7,447.7 491.7,448.9 495.0,447.3 493.0,446.1" fill="#f6f6fa"/>
<polygon points="494.4,445.4 496.4,446.6 499.7,445.0 497.6,443.8" fill="#f6f6fa"/>
<polygon points="437.1,477.3 439.2,478.5 442.4,476.9 440.4,475.7" fill="#f6f6fa"/>
<polygon points="441.8,475.0 443.8,476.2 447.1,474.6 445.1,473.4" fill="#f6f6fa"/>
<polygon points="446.5,472.7 448.5,473.9 451.7,472.3 449.7,471.1" fill="#f6f6fa"/>
<polygon points="451.1,470.4 453.1,471.6 456.4,470.0 454.4,468.8" fill="#f6f6fa"/>
<polygon points="455.8,468.1 457.8,469.3 461.0,467.7 459.0,466.5" fill="#f6f6fa"/>
<polygon points="460.4,465.8 462.4,467.0 465.7,465.4 463.7,464.2" fill="#f6f6fa"/>
<polygon points="465.1,463.5 467.1,464.7 470.3,463.1 468.3,461.9" fill="#f6f6fa"/>
<polygon points="469.7,461.2 471.7,462.4 475.0,460.8 473.0,459.6" fill="#f6f6fa"/>
<polygon points="474.4,458.9 476.4,460.1 479.6,458.5 477.6,457.3" fill="#f6f6fa"/>
<polygon points="479.0,456.6 481.0,457.8 484.3,456.2 482.3,455.0" fill="#f6f6fa"/>
<polygon points="483.7,454.3 485.7,455.5 488.9,453.9 486.9,452.7" fill="#f6f6fa"/>
<polygon points="488.3,452.0 490.3,453.2 493.6,451.6 491.6,450.4" fill="#f6f6fa"/>
<polygon points="493.0,449.7 495.0,450.9 498.2,449.3 496.2,448.1" fill="#f6f6fa"/>
<polygon points="497.6,447.4 499.6,448.6 502.9,447.0 500.9,445.8" fill="#f6f6fa"/>
<polygon points="440.4,479.3 442.4,480.5 445.7,478.9 443.7,477.6" fill="#f6f6fa"/>
<polygon points="445.0,477.0 447.1,478.2 450.3,476.6 448.3,475.3" fill="#f6f6fa"/>
<polygon points="449.7,474.7 451.7,475.9 455.0,474.3 453.0,473.1" fill="#f6f6fa"/>
<polygon points="454.4,472.4 456.4,473.6 459.6,472.0 457.6,470.8" fill="#f6f6fa"/>
<polygon points="459.0,470.1 461.0,471.3 464.3,469.7 462.3,468.4" fill="#f6f6fa"/>
<polygon points="463.7,467.8 465.7,469.0 468.9,467.4 466.9,466.1" fill="#f6f6fa"/>
<polygon points="468.3,465.5 470.3,466.7 473.6,465.1 471.6,463.9" fill="#f6f6fa"/>
<polygon points="473.0,463.2 475.0,464.4 478.2,462.8 476.2,461.6" fill="#f6f6fa"/>
<polygon points="477.6,460.9 479.6,462.1 482.9,460.5 480.9,459.2" fill="#f6f6fa"/>
<polygon points="482.3,458.6 484.3,459.8 487.5,458.2 485.5,456.9" fill="#f6f6fa"/>
<polygon points="486.9,456.3 488.9,457.5 492.2,455.9 490.2,454.6" fill="#f6f6fa"/>
<polygon points="491.6,454.0 493.6,455.2 496.8,453.6 494.8,452.3" fill="#f6f6fa"/>
<polygon points="496.2,451.7 498.2,452.9 501.5,451.3 499.5,450.1" fill="#f6f6fa"/>
<polygon points="500.9,449.4 502.9,450.6 506.1,449.0 504.1,447.8" fill="#f6f6fa"/>
<polygon points="443.6,481.3 445.7,482.5 448.9,480.9 446.9,479.6" fill="#f6f6fa"/>
<polygon points="448.3,479.0 450.3,480.2 453.6,478.6 451.6,477.3" fill="#f6f6fa"/>
<polygon points="452.9,476.7 455.0,477.9 458.2,476.3 456.2,475.0" fill="#f6f6fa"/>
<polygon points="457.6,474.4 459.6,475.6 462.9,474.0 460.9,472.7" fill="#f6f6fa"/>
<polygon points="462.3,472.1 464.3,473.3 467.5,471.7 465.5,470.4" fill="#f6f6fa"/>
<polygon points="466.9,469.8 468.9,471.0 472.2,469.4 470.2,468.1" fill="#f6f6fa"/>
<polygon points="471.6,467.5 473.6,468.7 476.8,467.1 474.8,465.8" fill="#f6f6fa"/>
<polygon points="476.2,465.2 478.2,466.4 481.5,464.8 479.5,463.5" fill="#f6f6fa"/>
<polygon points="480.9,462.9 482.9,464.1 486.1,462.5 484.1,461.2" fill="#f6f6fa"/>
<polygon points="485.5,460.6 487.5,461.8 490.8,460.2 488.8,458.9" fill="#f6f6fa"/>
<polygon points="490.2,458.3 492.2,459.5 495.4,457.9 493.4,456.6" fill="#f6f6fa"/>
<polygon points="494.8,456.0 496.8,457.2 500.1,455.6 498.1,454.3" fill="#f6f6fa"/>
<polygon points="499.5,453.7 501.5,454.9 504.7,453.3 502.7,452.0" fill="#f6f6fa"/>
<polygon points="504.1,451.4 506.1,452.6 509.4,451.0 507.4,449.7" fill="#f6f6fa"/>
<polygon points="446.9,483.2 448.9,484.5 452.2,482.9 450.1,481.6" fill="#f6f6fa"/>
<polygon points="451.5,480.9 453.6,482.2 456.8,480.6 454.8,479.3" fill="#f6f6fa"/>
<polygon points="456.2,478.6 458.2,479.9 461.5,478.3 459.5,477.0" fill="#f6f6fa"/>
<polygon points="460.8,476.4 462.9,477.6 466.1,476.0 464.1,474.7" fill="#f6f6fa"/>
<polygon points="465.5,474.1 467.5,475.3 470.8,473.7 468.8,472.4" fill="#f6f6fa"/>
<polygon points="470.2,471.8 472.2,473.0 475.4,471.4 473.4,470.1" fill="#f6f6fa"/>
<polygon points="474.8,469.4 476.8,470.7 480.1,469.1 478.1,467.8" fill="#f6f6fa"/>
<polygon points="479.5,467.1 481.5,468.4 484.7,466.8 482.7,465.5" fill="#f6f6fa"/>
<polygon points="484.1,464.9 486.1,466.1 489.4,464.5 487.4,463.2" fill="#f6f6fa"/>
<polygon points="488.8,462.6 490.8,463.8 494.0,462.2 492.0,460.9" fill="#f6f6fa"/>
<polygon points="493.4,460.2 495.4,461.5 498.7,459.9 496.7,458.6" fill="#f6f6fa"/>
<polygon points="498.1,457.9 500.1,459.2 503.3,457.6 501.3,456.3" fill="#f6f6fa"/>
<polygon points="502.7,455.6 504.7,456.9 508.0,455.3 506.0,454.0" fill="#f6f6fa"/>
<polygon points="507.4,453.4 509.4,454.6 512.6,453.0 510.6,451.7" fill="#f6f6fa"/>
<polygon points="450.1,485.2 452.2,486.5 455.4,484.9 453.4,483.6" fill="#f6f6fa"/>
<polygon points="454.8,482.9 456.8,484.2 460.1,482.6 458.0,481.3" fill="#f6f6fa"/>
<polygon points="459.4,480.6 461.5,481.9 464.7,480.3 462.7,479.0" fill="#f6f6fa"/>
<polygon points="464.1,478.3 466.1,479.6 469.4,478.0 467.4,476.7" fill="#f6f6fa"/>
<polygon points="468.7,476.0 470.8,477.3 474.0,475.7 472.0,474.4" fill="#f6f6fa"/>
<polygon points="473.4,473.7 475.4,475.0 478.7,473.4 476.7,472.1" fill="#f6f6fa"/>
<polygon points="478.1,471.4 480.1,472.7 483.3,471.1 481.3,469.8" fill="#f6f6fa"/>
<polygon points="482.7,469.1 484.7,470.4 488.0,468.8 486.0,467.5" fill="#f6f6fa"/>
<polygon points="487.4,466.8 489.4,468.1 492.6,466.5 490.6,465.2" fill="#f6f6fa"/>
<polygon points="492.0,464.5 494.0,465.8 497.3,464.2 495.3,462.9" fill="#f6f6fa"/>
<polygon points="496.7,462.2 498.7,463.5 501.9,461.9 499.9,460.6" fill="#f6f6fa"/>
<polygon points="501.3,459.9 503.3,461.2 506.6,459.6 504.6,458.3" fill="#f6f6fa"/>
<polygon points="506.0,457.6 508.0,458.9 511.2,457.3 509.2,456.0" fill="#f6f6fa"/>
<polygon points="510.6,455.3 512.6,456.6 515.9,455.0 513.9,453.7" fill="#f6f6fa"/>
<polygon points="481.4,477.7 490.0,483.1 511.3,472.6 502.6,467.2" fill="#3c3c40"/>
<polygon points="420.0,472.5 420.0,421.7 485.8,384.2 487.0,436.0" fill="#b8b8c0" stroke="#9a9aa2" stroke-width="0.7" stroke-linejoin="round"/>
<polygon points="422.8,468.5 422.8,424.0 483.2,389.0 484.2,433.5" fill="#1c1c8e"/>
<circle cx="453" cy="403.5" r="0.8" fill="#888"/>
<polygon points="428.3,429.8 453.1,415.4 453.4,446.6 428.3,460.9" fill="#8c9ad8"/>
<polygon points="456.7,408.4 479.7,395.1 480.0,411.1 456.9,424.4" fill="#a4bce8"/>
<polygon points="456.9,427.5 480.1,414.2 480.4,428.0 457.1,441.3" fill="#7c8cd0"/>
<path d="M411.7 401 C406 399 405.5 392 407.5 388 C407 380 410 372 416 369 C418 358 426 351 432 352.5 C435 350 440 351 442 354.5 C447 352 452 354 453 358 C458 359 461 364 460 369 C461.5 373 460 378 457.2 379 Z" fill="url(#cloudG)" stroke="#4a90e8" stroke-width="0.6"/>
<path d="M508.3 402.2 C504 400 503.5 392 505.5 387.5 C507 380 513 376 519.5 375.6 C524 371 531 371 535 374 C540 371 548 372 551 376.5 C557 378 561 382 562 387 C569 391 573 398 573 405 C578 410 580 418 578.5 427 C580 434 578 441 572.8 443.3 Z" fill="url(#cloudG)" stroke="#4a90e8" stroke-width="0.6"/>
<g>
<rect x="686.8" y="248" width="89.4" height="180" rx="13" fill="#2a2a2c"/>
<rect x="688.2" y="249.3" width="86.6" height="177.4" rx="12" fill="#141416"/>
<rect x="691.5" y="252" width="80.5" height="172.2" rx="9" fill="#ffffff"/>
<path d="M691.5 262 Q691.5 252 701 252 H712 V258.5 H691.5 Z" fill="#3b78e6"/>
<path d="M772 258.5 H751 V252 H763 Q772 252 772 261 Z" fill="#3b78e6"/>
<path d="M709.5 251 H753.5 V254 Q753.5 258 749.5 258 H713.5 Q709.5 258 709.5 254 Z" fill="#141416"/>
<rect x="696" y="262" width="11" height="1.6" fill="#999" opacity="0.55"/>
<rect x="714" y="262" width="11" height="1.6" fill="#999" opacity="0.55"/>
<rect x="733" y="262" width="11" height="1.6" fill="#999" opacity="0.55"/>
<rect x="752" y="262" width="11" height="1.6" fill="#999" opacity="0.55"/>
<rect x="694.5" y="265.8" width="14" height="0.9" fill="#3b78e6"/>
<rect x="695" y="271.5" width="38" height="1.4" fill="#bbb" opacity="0.6"/>
<rect x="692" y="277" width="80" height="1.2" fill="#ececec"/>
<circle cx="697.8" cy="287" r="4" fill="#c89888"/><circle cx="697.8" cy="287.5" r="2.4" fill="#5a2a22"/>
<rect x="704" y="284.5" width="3" height="2" fill="#333"/><rect x="704" y="289" width="16" height="1" fill="#bbb"/>
<rect x="764" y="284" width="7" height="1.1" fill="#999"/><rect x="764.5" y="287.3" width="6.5" height="3.6" rx="0.8" fill="#55c08e"/>
<rect x="693.5" y="293" width="77" height="27.599999999999998" fill="none" stroke="#eeeeee" stroke-width="0.6"/>
<circle cx="698" cy="297.5" r="1.2" fill="#333"/><rect x="700.5" y="296.3" width="7" height="2.3" fill="#555" opacity="0.7"/>
<circle cx="724" cy="297.5" r="1.2" fill="#333"/><rect x="726.5" y="296.3" width="7" height="2.3" fill="#555" opacity="0.7"/>
<circle cx="750" cy="297.5" r="1.2" fill="#333"/><rect x="752.5" y="296.3" width="8" height="2.3" fill="#555" opacity="0.7"/>
<circle cx="698" cy="305.7" r="1.2" fill="#333"/><rect x="700.5" y="304.5" width="9" height="2.3" fill="#555" opacity="0.7"/>
<circle cx="724" cy="305.7" r="1.2" fill="#333"/><rect x="726.5" y="304.5" width="5" height="2.3" fill="#555" opacity="0.7"/>
<circle cx="750" cy="305.7" r="1.2" fill="#333"/><rect x="752.5" y="304.5" width="5" height="2.3" fill="#555" opacity="0.7"/>
<circle cx="698" cy="313.9" r="1.2" fill="#333"/><rect x="700.5" y="312.7" width="9" height="2.3" fill="#555" opacity="0.7"/>
<rect x="692" y="316.5" width="80" height="3.5" fill="#f2f2f2"/>
<circle cx="697.8" cy="329" r="4" fill="#c89888"/><circle cx="697.8" cy="329.5" r="2.4" fill="#5a2a22"/>
<rect x="704" y="326.5" width="3" height="2" fill="#333"/><rect x="704" y="331" width="16" height="1" fill="#bbb"/>
<rect x="764" y="326" width="7" height="1.1" fill="#999"/><rect x="764.5" y="329.3" width="6.5" height="3.6" rx="0.8" fill="#55c08e"/>
<rect x="693.5" y="335" width="77" height="35.8" fill="none" stroke="#eeeeee" stroke-width="0.6"/>
<circle cx="698" cy="339.5" r="1.2" fill="#333"/><rect x="700.5" y="338.3" width="8" height="2.3" fill="#555" opacity="0.7"/>
<circle cx="724" cy="339.5" r="1.2" fill="#333"/><rect x="726.5" y="338.3" width="7" height="2.3" fill="#555" opacity="0.7"/>
<circle cx="750" cy="339.5" r="1.2" fill="#333"/><rect x="752.5" y="338.3" width="7" height="2.3" fill="#555" opacity="0.7"/>
<circle cx="698" cy="347.7" r="1.2" fill="#333"/><rect x="700.5" y="346.5" width="9" height="2.3" fill="#555" opacity="0.7"/>
<circle cx="724" cy="347.7" r="1.2" fill="#333"/><rect x="726.5" y="346.5" width="9" height="2.3" fill="#555" opacity="0.7"/>
<circle cx="750" cy="347.7" r="1.2" fill="#333"/><rect x="752.5" y="346.5" width="9" height="2.3" fill="#555" opacity="0.7"/>
<circle cx="698" cy="355.9" r="1.2" fill="#333"/><rect x="700.5" y="354.7" width="7" height="2.3" fill="#555" opacity="0.7"/>
<circle cx="724" cy="355.9" r="1.2" fill="#333"/><rect x="726.5" y="354.7" width="7" height="2.3" fill="#555" opacity="0.7"/>
<circle cx="750" cy="355.9" r="1.2" fill="#333"/><rect x="752.5" y="354.7" width="7" height="2.3" fill="#555" opacity="0.7"/>
<circle cx="698" cy="364.1" r="1.2" fill="#333"/><rect x="700.5" y="362.90000000000003" width="9" height="2.3" fill="#555" opacity="0.7"/>
<rect x="692" y="367" width="80" height="3.5" fill="#f2f2f2"/>
<circle cx="697.8" cy="379" r="4" fill="#c89888"/><circle cx="697.8" cy="379.5" r="2.4" fill="#5a2a22"/>
<rect x="704" y="376.5" width="3" height="2" fill="#333"/><rect x="704" y="381" width="16" height="1" fill="#bbb"/>
<rect x="764" y="376" width="7" height="1.1" fill="#999"/><rect x="764.5" y="379.3" width="6.5" height="3.6" rx="0.8" fill="#55c08e"/>
<rect x="693.5" y="385" width="77" height="27.599999999999998" fill="none" stroke="#eeeeee" stroke-width="0.6"/>
<circle cx="698" cy="389.5" r="1.2" fill="#333"/><rect x="700.5" y="388.3" width="5" height="2.3" fill="#555" opacity="0.7"/>
<circle cx="724" cy="389.5" r="1.2" fill="#333"/><rect x="726.5" y="388.3" width="5" height="2.3" fill="#555" opacity="0.7"/>
<circle cx="750" cy="389.5" r="1.2" fill="#333"/><rect x="752.5" y="388.3" width="7" height="2.3" fill="#555" opacity="0.7"/>
<circle cx="698" cy="397.7" r="1.2" fill="#333"/><rect x="700.5" y="396.5" width="5" height="2.3" fill="#555" opacity="0.7"/>
<circle cx="724" cy="397.7" r="1.2" fill="#333"/><rect x="726.5" y="396.5" width="8" height="2.3" fill="#555" opacity="0.7"/>
<circle cx="750" cy="397.7" r="1.2" fill="#333"/><rect x="752.5" y="396.5" width="5" height="2.3" fill="#555" opacity="0.7"/>
<circle cx="698" cy="405.9" r="1.2" fill="#333"/><rect x="700.5" y="404.7" width="8" height="2.3" fill="#555" opacity="0.7"/>
<circle cx="724" cy="405.9" r="1.2" fill="#333"/><rect x="726.5" y="404.7" width="9" height="2.3" fill="#555" opacity="0.7"/>
<circle cx="750" cy="405.9" r="1.2" fill="#333"/><rect x="752.5" y="404.7" width="9" height="2.3" fill="#555" opacity="0.7"/>
<rect x="692" y="411" width="80" height="0.8" fill="#e6e6e6"/>
<circle cx="701" cy="416" r="1.8" fill="#666" opacity="0.75"/><rect x="698" y="419.5" width="6" height="1" fill="#999"/>
<circle cx="718" cy="416" r="1.8" fill="#666" opacity="0.75"/><rect x="715" y="419.5" width="6" height="1" fill="#999"/>
<circle cx="735" cy="416" r="1.8" fill="#666" opacity="0.75"/><rect x="732" y="419.5" width="6" height="1" fill="#999"/>
<circle cx="751" cy="416" r="1.8" fill="#666" opacity="0.75"/><rect x="748" y="419.5" width="6" height="1" fill="#999"/>
<circle cx="767" cy="416" r="1.8" fill="#666" opacity="0.75"/><rect x="764" y="419.5" width="6" height="1" fill="#999"/>
<circle cx="701" cy="416" r="1.9" fill="#3b78e6"/><circle cx="737" cy="413.2" r="1.3" fill="#f07030"/>
</g>
<defs><linearGradient id="tabShadow" x1="0" y1="0" x2="0" y2="1"><stop offset="0" stop-color="#e2e2e2"/><stop offset="1" stop-color="#ffffff" stop-opacity="0"/></linearGradient></defs>
<path d="M645 598 H826 L834 636 H637 Z" fill="url(#tabShadow)" opacity="0.35"/>
<rect x="637.6" y="467.6" width="194.6" height="131" rx="9" fill="#f8f8f8" stroke="#a8a8a8" stroke-width="1.3"/>
<path d="M640 596 Q645 598.6 652 598.6 H818 Q826 598.6 830 594" fill="none" stroke="#777" stroke-width="1.2"/>
<rect x="656.4" y="474" width="156.5" height="118" fill="#ffffff"/>
<circle cx="648" cy="532.5" r="1.6" fill="#111"/>
<circle cx="822.5" cy="532.5" r="3.5" fill="none" stroke="#e8e8e8" stroke-width="0.8"/>
<rect x="656.4" y="474" width="20" height="118" fill="#1b62b4"/>
<rect x="656.4" y="474" width="156.5" height="6.8" fill="#1b62b4"/>
<rect x="656.4" y="480.8" width="20" height="14.2" fill="#1f68ba"/>
<path d="M662 485 L667 489 L671 486 M665 491 L669 489" stroke="#9cc4ee" stroke-width="0.7" fill="none"/>
<rect x="659" y="496.5" width="8" height="1.2" fill="#cfe2fa"/>
<rect x="656.4" y="500.7" width="20" height="24.2" fill="#3d8ce8"/>
<rect x="659" y="503" width="10" height="1.1" fill="#d8e8fa"/>
<rect x="659" y="508" width="10" height="1.1" fill="#d8e8fa"/>
<rect x="659" y="513" width="10" height="1.1" fill="#d8e8fa"/>
<rect x="659" y="518" width="10" height="1.1" fill="#d8e8fa"/>
<rect x="659" y="522" width="10" height="1.1" fill="#d8e8fa"/>
<rect x="659" y="529" width="8" height="1.1" fill="#a8c8ee"/>
<rect x="659" y="537" width="8" height="1.1" fill="#a8c8ee"/>
<rect x="659" y="544" width="8" height="1.1" fill="#a8c8ee"/>
<rect x="659" y="552" width="8" height="1.1" fill="#a8c8ee"/>
<rect x="659" y="559.7" width="8" height="1.1" fill="#a8c8ee"/>
<rect x="672" y="559" width="2" height="2" fill="#e8c840"/>
<rect x="656.4" y="564.7" width="20" height="27.3" fill="#1a5aa8"/>
<rect x="660" y="588" width="12" height="1" fill="#8ab0e0"/>
<rect x="812" y="474" width="1.2" height="118" fill="#1b62b4"/>
<rect x="676.4" y="480.8" width="135.6" height="111.2" fill="#ffffff"/>
<rect x="678.5" y="483.5" width="6" height="1.4" fill="#777"/>
<rect x="762" y="483.5" width="40" height="1.3" fill="#9ab" opacity="0.7"/>
<rect x="678" y="489" width="132" height="5.3" fill="#f4f6f8"/>
<rect x="680" y="491" width="12" height="1.2" fill="#aaa"/><rect x="698" y="490" width="48" height="3" fill="#e4eaf2"/>
<circle cx="806" cy="491.7" r="2.8" fill="#5a9ae6"/>
<rect x="678" y="495.7" width="132" height="5.7" fill="#e6e6e6"/>
<rect x="684" y="497.8" width="6" height="1.2" fill="#999"/>
<rect x="697" y="497.8" width="6" height="1.2" fill="#999"/>
<rect x="712" y="497.8" width="6" height="1.2" fill="#999"/>
<rect x="740" y="497.8" width="6" height="1.2" fill="#999"/>
<rect x="786" y="497.8" width="6" height="1.2" fill="#999"/>
<rect x="798" y="497.8" width="6" height="1.2" fill="#999"/>
<rect x="678" y="502" width="132" height="11.5" fill="#ffffff"/>
<ellipse cx="684.3" cy="507.5" rx="3" ry="2.2" fill="#2464b0"/><circle cx="684.3" cy="507.5" r="0.9" fill="#fff"/>
<rect x="690.5" y="504.5" width="3.4" height="6" rx="1.7" fill="#6a3a20"/>
<rect x="696" y="505.0" width="6" height="1.2" fill="#2a6cbc"/><rect x="696" y="508.0" width="7" height="0.9" fill="#999"/>
<rect x="706" y="506.5" width="3" height="3" fill="none" stroke="#999" stroke-width="0.5"/><circle cx="707.5" cy="510.0" r="1" fill="#5ab040"/>
<rect x="714.0" y="504.3" width="2.3" height="2.6" fill="#e08030"/><rect x="714.0" y="508.1" width="2.3" height="1.3" fill="#666"/>
<rect x="718.4" y="504.3" width="2.3" height="2.6" fill="#e08030"/><rect x="718.4" y="508.1" width="2.3" height="1.3" fill="#666"/>
<rect x="722.8" y="504.3" width="2.3" height="2.6" fill="#9aca50"/><rect x="722.8" y="508.1" width="2.3" height="1.3" fill="#666"/>
<rect x="727.2" y="504.3" width="2.3" height="2.6" fill="#888"/><rect x="727.2" y="508.1" width="2.3" height="1.3" fill="#666"/>
<rect x="764" y="505.5" width="2" height="1" fill="#888"/><rect x="763" y="508.5" width="4" height="1" fill="#888"/>
<rect x="771" y="505.0" width="4" height="1" fill="#4a90e2"/><rect x="770.5" y="507.5" width="8" height="3" rx="1" fill="#2a6cbc"/>
<rect x="784" y="504.5" width="12" height="2" fill="#bbb" opacity="0.8"/><rect x="784" y="507.5" width="12" height="2" fill="#bbb" opacity="0.8"/>
<rect x="798" y="505.0" width="10" height="1.4" fill="#aaa"/><rect x="799" y="508.0" width="8" height="1.2" fill="#aaa"/>
<rect x="678" y="513.5" width="132" height="13.5" fill="#f3f3f3"/>
<ellipse cx="684.3" cy="519.0" rx="3" ry="2.2" fill="#2464b0"/><circle cx="684.3" cy="519.0" r="0.9" fill="#fff"/>
<rect x="688.4" y="513.5" width="20.6" height="10.5" fill="#3c86e0"/>
<rect x="690.5" y="516.0" width="3.4" height="6" rx="1.7" fill="#c8b8a8"/>
<rect x="696" y="516.5" width="6" height="1.2" fill="#2a6cbc"/><rect x="696" y="519.5" width="7" height="0.9" fill="#999"/>
<rect x="706" y="518.0" width="3" height="3" fill="none" stroke="#999" stroke-width="0.5"/><circle cx="707.5" cy="521.5" r="1" fill="#5ab040"/>
<rect x="714.0" y="515.8" width="2.3" height="2.6" fill="#d8a030"/><rect x="714.0" y="519.6" width="2.3" height="1.3" fill="#666"/>
<rect x="718.4" y="515.8" width="2.3" height="2.6" fill="#aaa"/><rect x="718.4" y="519.6" width="2.3" height="1.3" fill="#666"/>
<rect x="722.8" y="515.8" width="2.3" height="2.6" fill="#6aaa3a"/><rect x="722.8" y="519.6" width="2.3" height="1.3" fill="#666"/>
<rect x="727.2" y="515.8" width="2.3" height="2.6" fill="#6aaa3a"/><rect x="727.2" y="519.6" width="2.3" height="1.3" fill="#666"/>
<rect x="731.6" y="515.8" width="2.3" height="2.6" fill="#d8a030"/><rect x="731.6" y="519.6" width="2.3" height="1.3" fill="#666"/>
<rect x="736.0" y="515.8" width="2.3" height="2.6" fill="#e08030"/><rect x="736.0" y="519.6" width="2.3" height="1.3" fill="#666"/>
<rect x="764" y="517.0" width="2" height="1" fill="#888"/><rect x="763" y="520.0" width="4" height="1" fill="#888"/>
<rect x="771" y="516.5" width="4" height="1" fill="#4a90e2"/><rect x="770.5" y="519.0" width="4" height="3" rx="1" fill="#2a6cbc"/>
<rect x="784" y="516.0" width="12" height="2" fill="#bbb" opacity="0.8"/><rect x="784" y="519.0" width="12" height="2" fill="#bbb" opacity="0.8"/>
<rect x="798" y="516.5" width="10" height="1.4" fill="#aaa"/><rect x="799" y="519.5" width="8" height="1.2" fill="#aaa"/>
<rect x="678" y="527" width="132" height="16.4" fill="#ffffff"/>
<ellipse cx="684.3" cy="532.5" rx="3" ry="2.2" fill="#2464b0"/><circle cx="684.3" cy="532.5" r="0.9" fill="#fff"/>
<rect x="690.5" y="529.5" width="3.4" height="6" rx="1.7" fill="#c8b8a8"/>
<rect x="696" y="530.0" width="6" height="1.2" fill="#2a6cbc"/><rect x="696" y="533.0" width="7" height="0.9" fill="#999"/>
<rect x="706" y="531.5" width="3" height="3" fill="none" stroke="#999" stroke-width="0.5"/><circle cx="707.5" cy="535.0" r="1" fill="#5ab040"/>
<rect x="714.0" y="529.3" width="2.3" height="2.6" fill="#d8a030"/><rect x="714.0" y="533.1" width="2.3" height="1.3" fill="#666"/>
<rect x="718.4" y="529.3" width="2.3" height="2.6" fill="#aaa"/><rect x="718.4" y="533.1" width="2.3" height="1.3" fill="#666"/>
<rect x="722.8" y="529.3" width="2.3" height="2.6" fill="#9aca50"/><rect x="722.8" y="533.1" width="2.3" height="1.3" fill="#666"/>
<rect x="727.2" y="529.3" width="2.3" height="2.6" fill="#e08030"/><rect x="727.2" y="533.1" width="2.3" height="1.3" fill="#666"/>
<rect x="731.6" y="529.3" width="2.3" height="2.6" fill="#9aca50"/><rect x="731.6" y="533.1" width="2.3" height="1.3" fill="#666"/>
<rect x="736.0" y="529.3" width="2.3" height="2.6" fill="#aaa"/><rect x="736.0" y="533.1" width="2.3" height="1.3" fill="#666"/>
<rect x="740.4" y="529.3" width="2.3" height="2.6" fill="#e08030"/><rect x="740.4" y="533.1" width="2.3" height="1.3" fill="#666"/>
<rect x="744.8" y="529.3" width="2.3" height="2.6" fill="#888"/><rect x="744.8" y="533.1" width="2.3" height="1.3" fill="#666"/>
<rect x="749.2" y="529.3" width="2.3" height="2.6" fill="#e08030"/><rect x="749.2" y="533.1" width="2.3" height="1.3" fill="#666"/>
<rect x="753.6" y="529.3" width="2.3" height="2.6" fill="#888"/><rect x="753.6" y="533.1" width="2.3" height="1.3" fill="#666"/>
<rect x="758.0" y="529.3" width="2.3" height="2.6" fill="#aaa"/><rect x="758.0" y="533.1" width="2.3" height="1.3" fill="#666"/>
<rect x="764" y="530.5" width="2" height="1" fill="#888"/><rect x="763" y="533.5" width="4" height="1" fill="#888"/>
<rect x="771" y="530.0" width="4" height="1" fill="#4a90e2"/><rect x="770.5" y="532.5" width="4" height="3" rx="1" fill="#2a6cbc"/>
<rect x="784" y="529.5" width="12" height="2" fill="#bbb" opacity="0.8"/><rect x="784" y="532.5" width="12" height="2" fill="#bbb" opacity="0.8"/>
<rect x="798" y="530.0" width="10" height="1.4" fill="#aaa"/><rect x="799" y="533.0" width="8" height="1.2" fill="#aaa"/>
<rect x="678" y="543.4" width="132" height="11.4" fill="#f3f3f3"/>
<ellipse cx="684.3" cy="548.9" rx="3" ry="2.2" fill="#2464b0"/><circle cx="684.3" cy="548.9" r="0.9" fill="#fff"/>
<rect x="690.5" y="545.9" width="3.4" height="6" rx="1.7" fill="#c8b8a8"/>
<rect x="696" y="546.4" width="6" height="1.2" fill="#2a6cbc"/><rect x="696" y="549.4" width="7" height="0.9" fill="#999"/>
<rect x="706" y="547.9" width="3" height="3" fill="none" stroke="#999" stroke-width="0.5"/><circle cx="707.5" cy="551.4" r="1" fill="#5ab040"/>
<rect x="714.0" y="545.6999999999999" width="2.3" height="2.6" fill="#888"/><rect x="714.0" y="549.5" width="2.3" height="1.3" fill="#666"/>
<rect x="718.4" y="545.6999999999999" width="2.3" height="2.6" fill="#e08030"/><rect x="718.4" y="549.5" width="2.3" height="1.3" fill="#666"/>
<rect x="722.8" y="545.6999999999999" width="2.3" height="2.6" fill="#888"/><rect x="722.8" y="549.5" width="2.3" height="1.3" fill="#666"/>
<rect x="727.2" y="545.6999999999999" width="2.3" height="2.6" fill="#d8a030"/><rect x="727.2" y="549.5" width="2.3" height="1.3" fill="#666"/>
<rect x="764" y="546.9" width="2" height="1" fill="#888"/><rect x="763" y="549.9" width="4" height="1" fill="#888"/>
<rect x="771" y="546.4" width="4" height="1" fill="#4a90e2"/><rect x="770.5" y="548.9" width="4" height="3" rx="1" fill="#2a6cbc"/>
<rect x="784" y="545.9" width="12" height="2" fill="#bbb" opacity="0.8"/><rect x="784" y="548.9" width="12" height="2" fill="#bbb" opacity="0.8"/>
<rect x="798" y="546.4" width="10" height="1.4" fill="#aaa"/><rect x="799" y="549.4" width="8" height="1.2" fill="#aaa"/>
<rect x="678" y="554.8" width="132" height="10.6" fill="#ffffff"/>
<ellipse cx="684.3" cy="560.3" rx="3" ry="2.2" fill="#2464b0"/><circle cx="684.3" cy="560.3" r="0.9" fill="#fff"/>
<rect x="690.5" y="557.3" width="3.4" height="6" rx="1.7" fill="#c8b8a8"/>
<rect x="696" y="557.8" width="6" height="1.2" fill="#2a6cbc"/><rect x="696" y="560.8" width="7" height="0.9" fill="#999"/>
<rect x="706" y="559.3" width="3" height="3" fill="none" stroke="#999" stroke-width="0.5"/><circle cx="707.5" cy="562.8" r="1" fill="#e03030"/>
<rect x="714.0" y="557.0999999999999" width="2.3" height="2.6" fill="#9aca50"/><rect x="714.0" y="560.9" width="2.3" height="1.3" fill="#666"/>
<rect x="718.4" y="557.0999999999999" width="2.3" height="2.6" fill="#6aaa3a"/><rect x="718.4" y="560.9" width="2.3" height="1.3" fill="#666"/>
<rect x="722.8" y="557.0999999999999" width="2.3" height="2.6" fill="#aaa"/><rect x="722.8" y="560.9" width="2.3" height="1.3" fill="#666"/>
<rect x="727.2" y="557.0999999999999" width="2.3" height="2.6" fill="#888"/><rect x="727.2" y="560.9" width="2.3" height="1.3" fill="#666"/>
<rect x="731.6" y="557.0999999999999" width="2.3" height="2.6" fill="#9aca50"/><rect x="731.6" y="560.9" width="2.3" height="1.3" fill="#666"/>
<rect x="736.0" y="557.0999999999999" width="2.3" height="2.6" fill="#9aca50"/><rect x="736.0" y="560.9" width="2.3" height="1.3" fill="#666"/>
<rect x="764" y="558.3" width="2" height="1" fill="#888"/><rect x="763" y="561.3" width="4" height="1" fill="#888"/>
<rect x="771" y="557.8" width="4" height="1" fill="#4a90e2"/><rect x="770.5" y="560.3" width="8" height="3" rx="1" fill="#2a6cbc"/>
<rect x="784" y="557.3" width="12" height="2" fill="#bbb" opacity="0.8"/><rect x="784" y="560.3" width="12" height="2" fill="#bbb" opacity="0.8"/>
<rect x="798" y="557.8" width="10" height="1.4" fill="#aaa"/><rect x="799" y="560.8" width="8" height="1.2" fill="#aaa"/>
<rect x="678" y="565.4" width="132" height="11.4" fill="#f3f3f3"/>
<ellipse cx="684.3" cy="570.9" rx="3" ry="2.2" fill="#2464b0"/><circle cx="684.3" cy="570.9" r="0.9" fill="#fff"/>
<rect x="690.5" y="567.9" width="3.4" height="6" rx="1.7" fill="#c8b8a8"/>
<rect x="696" y="568.4" width="6" height="1.2" fill="#2a6cbc"/><rect x="696" y="571.4" width="7" height="0.9" fill="#999"/>
<rect x="706" y="569.9" width="3" height="3" fill="none" stroke="#999" stroke-width="0.5"/><circle cx="707.5" cy="573.4" r="1" fill="#e03030"/>
<rect x="714.0" y="567.6999999999999" width="2.3" height="2.6" fill="#9aca50"/><rect x="714.0" y="571.5" width="2.3" height="1.3" fill="#666"/>
<rect x="718.4" y="567.6999999999999" width="2.3" height="2.6" fill="#aaa"/><rect x="718.4" y="571.5" width="2.3" height="1.3" fill="#666"/>
<rect x="722.8" y="567.6999999999999" width="2.3" height="2.6" fill="#888"/><rect x="722.8" y="571.5" width="2.3" height="1.3" fill="#666"/>
<rect x="727.2" y="567.6999999999999" width="2.3" height="2.6" fill="#888"/><rect x="727.2" y="571.5" width="2.3" height="1.3" fill="#666"/>
<rect x="731.6" y="567.6999999999999" width="2.3" height="2.6" fill="#888"/><rect x="731.6" y="571.5" width="2.3" height="1.3" fill="#666"/>
<rect x="764" y="568.9" width="2" height="1" fill="#888"/><rect x="763" y="571.9" width="4" height="1" fill="#888"/>
<rect x="771" y="568.4" width="4" height="1" fill="#4a90e2"/><rect x="770.5" y="570.9" width="4" height="3" rx="1" fill="#2a6cbc"/>
<rect x="784" y="567.9" width="12" height="2" fill="#bbb" opacity="0.8"/><rect x="784" y="570.9" width="12" height="2" fill="#bbb" opacity="0.8"/>
<rect x="798" y="568.4" width="10" height="1.4" fill="#aaa"/><rect x="799" y="571.4" width="8" height="1.2" fill="#aaa"/>
<rect x="681" y="580" width="3" height="1.2" fill="#999"/><rect x="688" y="580" width="8" height="1.2" fill="#999"/>
<rect x="695.5" y="577.5" width="2.4" height="5" fill="#1d5faf"/><rect x="700" y="580" width="18" height="1.2" fill="#999"/>
<rect x="676.4" y="586" width="135.6" height="5.8" fill="#dadada"/>
<defs><linearGradient id="baseG" x1="0" y1="0" x2="0" y2="1"><stop offset="0" stop-color="#f0f0f2"/><stop offset="0.4" stop-color="#e0e0e2"/><stop offset="0.75" stop-color="#c4c4c8"/><stop offset="1" stop-color="#8e9094"/></linearGradient>
<linearGradient id="refl" x1="0" y1="0" x2="0" y2="1"><stop offset="0" stop-color="#e4e4e4"/><stop offset="1" stop-color="#ffffff" stop-opacity="0"/></linearGradient></defs>
<rect x="612" y="813" width="244" height="12" fill="url(#refl)" opacity="0.6"/>
<path d="M631.8 806 V674 Q631.8 667.2 638.6 667.2 H830.6 Q837.4 667.2 837.4 674 V806 Z" fill="#0a0a0c"/>
<circle cx="734.5" cy="670.5" r="0.9" fill="#333"/>
<rect x="636.8" y="674" width="195.2" height="124.7" fill="#ffffff"/>
<rect x="636.8" y="674" width="195.2" height="3.5" fill="#eeeeee"/>
<rect x="640" y="675" width="45" height="1.4" fill="#999" opacity="0.7"/><rect x="818" y="675" width="10" height="1.4" fill="#aaa"/>
<rect x="636.8" y="677.5" width="195.2" height="3.3" fill="#f8f8f8"/><rect x="650" y="678.5" width="60" height="1.3" fill="#aaa" opacity="0.6"/>
<rect x="636.8" y="680.8" width="195.2" height="3.6" fill="#fbfbfb"/>
<rect x="652" y="682" width="6" height="1.2" fill="#999" opacity="0.6"/>
<rect x="668" y="682" width="10" height="1.2" fill="#999" opacity="0.6"/>
<rect x="684" y="682" width="10" height="1.2" fill="#999" opacity="0.6"/>
<rect x="708" y="682" width="6" height="1.2" fill="#999" opacity="0.6"/>
<rect x="720" y="682" width="10" height="1.2" fill="#999" opacity="0.6"/>
<rect x="745" y="682" width="10" height="1.2" fill="#999" opacity="0.6"/>
<rect x="770" y="682" width="8" height="1.2" fill="#999" opacity="0.6"/>
<rect x="790" y="682" width="8" height="1.2" fill="#999" opacity="0.6"/>
<rect x="805" y="682" width="6" height="1.2" fill="#999" opacity="0.6"/>
<rect x="653" y="681.6" width="1.6" height="1.6" fill="#d04030"/>
<rect x="684" y="681.6" width="1.6" height="1.6" fill="#d04030"/>
<rect x="704" y="681.6" width="1.6" height="1.6" fill="#d04030"/>
<rect x="636.8" y="684.4" width="195.2" height="5.5" fill="#1c69bd"/>
<rect x="639" y="686" width="18" height="2" fill="#cfe0f6" opacity="0.8"/><rect x="797" y="685.6" width="26" height="2.4" fill="#bcd4f2" opacity="0.7"/><rect x="823" y="685.6" width="7" height="3" rx="1" fill="#fff"/>
<rect x="636.8" y="689.9" width="23.5" height="104" fill="#1a66b6"/>
<rect x="636.8" y="689.9" width="23.5" height="11.6" fill="#1d4f86"/>
<rect x="646" y="692.5" width="6" height="1.2" fill="#cde"/><rect x="643" y="695.5" width="10" height="1.2" fill="#cde"/><rect x="645" y="698" width="6" height="1" fill="#cde"/>
<rect x="640" y="704.5" width="11" height="1.2" fill="#c4daf4" opacity="0.9"/>
<rect x="640" y="710.8" width="11" height="1.2" fill="#c4daf4" opacity="0.9"/>
<rect x="640" y="715.5" width="11" height="1.2" fill="#c4daf4" opacity="0.9"/>
<rect x="640" y="720.3" width="11" height="1.2" fill="#c4daf4" opacity="0.9"/>
<rect x="640" y="725" width="11" height="1.2" fill="#c4daf4" opacity="0.9"/>
<rect x="640" y="731" width="9" height="1.2" fill="#c4daf4" opacity="0.9"/>
<rect x="640" y="738" width="9" height="1.2" fill="#c4daf4" opacity="0.9"/>
<rect x="640" y="745.5" width="9" height="1.2" fill="#c4daf4" opacity="0.9"/>
<rect x="640" y="752.5" width="9" height="1.2" fill="#c4daf4" opacity="0.9"/>
<rect x="640" y="759.5" width="9" height="1.2" fill="#c4daf4" opacity="0.9"/>
<rect x="657.5" y="759" width="2" height="2" fill="#e0c040"/>
<rect x="636.8" y="763" width="23.5" height="31" fill="#1a5aa6"/>
<rect x="641" y="789" width="14" height="1.2" fill="#8ab0e0"/>
<rect x="660.3" y="689.9" width="171.7" height="104" fill="#ffffff"/>
<rect x="662" y="692.5" width="5" height="1.6" fill="#555"/><rect x="705" y="693" width="12" height="1.2" fill="#999"/><rect x="719" y="692" width="16" height="2" fill="#777" opacity="0.7"/><rect x="768" y="692.5" width="4" height="1.4" fill="#999"/><rect x="777" y="692" width="14" height="2" fill="#777" opacity="0.6"/><rect x="818" y="692.5" width="10" height="1.3" fill="#999"/>
<rect x="662" y="698.5" width="95" height="5" fill="#4a94e8"/>
<rect x="670" y="698.5" width="0.6" height="5" fill="#ffffff" opacity="0.6"/>
<rect x="678" y="698.5" width="0.6" height="5" fill="#ffffff" opacity="0.6"/>
<rect x="686" y="698.5" width="0.6" height="5" fill="#ffffff" opacity="0.6"/>
<rect x="694" y="698.5" width="0.6" height="5" fill="#ffffff" opacity="0.6"/>
<rect x="702" y="698.5" width="0.6" height="5" fill="#ffffff" opacity="0.6"/>
<rect x="710" y="698.5" width="0.6" height="5" fill="#ffffff" opacity="0.6"/>
<rect x="718" y="698.5" width="0.6" height="5" fill="#ffffff" opacity="0.6"/>
<rect x="726" y="698.5" width="0.6" height="5" fill="#ffffff" opacity="0.6"/>
<rect x="734" y="698.5" width="0.6" height="5" fill="#ffffff" opacity="0.6"/>
<rect x="742" y="698.5" width="0.6" height="5" fill="#ffffff" opacity="0.6"/>
<rect x="750" y="698.5" width="0.6" height="5" fill="#ffffff" opacity="0.6"/>
<rect x="662" y="699.2" width="7" height="3.6" fill="#2a70c8"/>
<rect x="663.4" y="706" width="9" height="4" rx="2" fill="#2a6ac0"/><rect x="674" y="707.3" width="30" height="1.4" fill="#999" opacity="0.7"/><rect x="706" y="706.3" width="34" height="3.4" rx="1.5" fill="none" stroke="#a8c8ee" stroke-width="0.6"/>
<rect x="808.5" y="706" width="11.5" height="4" rx="1" fill="#2a6ac0"/><rect x="821" y="706" width="8" height="4" rx="1" fill="none" stroke="#aac" stroke-width="0.6"/>
<rect x="662.7" y="713" width="49.7" height="34" fill="#ffffff" stroke="#f0f0f0" stroke-width="0.5"/>
<rect x="667.2" y="718" width="42.7" height="26" fill="#eef0f4"/>
<rect x="682.5" y="714.5" width="10" height="1.3" fill="#888"/>
<rect x="716.5" y="713" width="46.9" height="34" fill="#ffffff" stroke="#f0f0f0" stroke-width="0.5"/>
<rect x="721.0" y="718" width="39.9" height="26" fill="#eef0f4"/>
<rect x="735.0" y="714.5" width="10" height="1.3" fill="#888"/>
<rect x="765.8" y="713" width="49.7" height="34" fill="#ffffff" stroke="#f0f0f0" stroke-width="0.5"/>
<rect x="770.3" y="718" width="42.7" height="26" fill="#eef0f4"/>
<rect x="785.6" y="714.5" width="10" height="1.3" fill="#888"/>
<polyline points="667,722 672,724 678,723.5 682,721 688,724 694,724 699,721.5 704,723.5 710,721.5" fill="none" stroke="#3a8ad8" stroke-width="0.9"/>
<circle cx="682" cy="720.5" r="1.2" fill="#d03040"/><circle cx="690" cy="723.5" r="1.2" fill="#30a040"/>
<polyline points="718,728 720,723.5 724,723 728,723.5 733,722.5 738,723 743,722 748,721 752,718.5 757,719 761,720" fill="none" stroke="#d83050" stroke-width="1"/>
<circle cx="756" cy="718.5" r="1.2" fill="#d03040"/><circle cx="762" cy="728" r="1.2" fill="#30a040"/>
<polyline points="770,730 771.5,722.5 773,741 776,742.5 780,742.5 782,726 784.5,722 786,741 790,742.5 795,742.5 797,726 799,722.5 801,742 806,742.5 810,742.5 812,726 813.5,722.5" fill="none" stroke="#f2cc28" stroke-width="1.8"/>
<circle cx="783.5" cy="719.5" r="1.1" fill="#d03040"/><circle cx="777" cy="742.5" r="1.1" fill="#30a040"/><circle cx="810.5" cy="734" r="1" fill="#4a90e2"/>
<rect x="662.7" y="750.5" width="49.7" height="20.3" fill="#ffffff"/><rect x="667" y="755.5" width="45" height="15.3" fill="#eef0f4"/>
<line x1="667" y1="757.5" x2="710" y2="757.5" stroke="#40a860" stroke-width="0.8"/><circle cx="667.5" cy="756" r="1.2" fill="#d03040"/><circle cx="709" cy="757" r="1.3" fill="#30a040"/>
<rect x="716.5" y="750.5" width="46.9" height="20.3" fill="#ffffff"/><rect x="721" y="755.5" width="42" height="15.3" fill="#eef0f4"/>
<line x1="719" y1="769.5" x2="762" y2="769.5" stroke="#e06040" stroke-width="0.9"/><circle cx="719.5" cy="768.5" r="1.2" fill="#d03040"/>
<rect x="765" y="750.5" width="50.5" height="20.3" fill="#e8e8e8"/><path d="M788 766 L790.5 762 L793 766" fill="none" stroke="#bbb" stroke-width="0.5"/>
<rect x="658.8" y="770.8" width="171" height="23.2" fill="#ffffff"/>
<rect x="658.8" y="770.8" width="171" height="0.6" fill="#e4e4e4"/><line x1="715.5" y1="771" x2="715.5" y2="794" stroke="#e0e0e0" stroke-width="0.6"/><line x1="772" y1="771" x2="772" y2="794" stroke="#e0e0e0" stroke-width="0.6"/>
<polyline points="667.5,785.5 667.5,778.5 671,778.5 671,785.5 684,785.5 684,778.5 699,778.5 699,785.5 712,785.5" fill="none" stroke="#8880e8" stroke-width="0.8"/>
<polyline points="723,779 724,783 735,784 748,784 752,782 763,776" fill="none" stroke="#80d880" stroke-width="0.9"/>
<rect x="797" y="778" width="5" height="1.4" fill="#888"/><rect x="791" y="781" width="17" height="1.2" fill="#aaa"/>
<rect x="672" y="790" width="2" height="1" fill="#bbb"/>
<rect x="682" y="790" width="2" height="1" fill="#bbb"/>
<rect x="692" y="790" width="2" height="1" fill="#bbb"/>
<rect x="702" y="790" width="2" height="1" fill="#bbb"/>
<rect x="740" y="790" width="2" height="1" fill="#bbb"/>
<rect x="750" y="790" width="2" height="1" fill="#bbb"/>
<rect x="636.8" y="794" width="195.2" height="4.7" fill="#cdd7e4"/>
<rect x="643" y="795" width="4" height="3" fill="#5a8a3a" opacity="0.85"/>
<rect x="650" y="795" width="4" height="3" fill="#e0a030" opacity="0.85"/>
<rect x="657" y="795" width="4" height="3" fill="#3a70c0" opacity="0.85"/>
<rect x="665" y="795" width="4" height="3" fill="#d04030" opacity="0.85"/>
<rect x="672" y="795" width="4" height="3" fill="#601818" opacity="0.85"/>
<rect x="679" y="795" width="4" height="3" fill="#204a80" opacity="0.85"/>
<rect x="686" y="795" width="4" height="3" fill="#a03030" opacity="0.85"/>
<rect x="693" y="795" width="4" height="3" fill="#333" opacity="0.85"/>
<rect x="700" y="795" width="4" height="3" fill="#3a6aa0" opacity="0.85"/>
<rect x="790" y="795" width="4" height="3" fill="#888" opacity="0.85"/>
<rect x="796" y="795" width="4" height="3" fill="#5a5a8a" opacity="0.85"/>
<rect x="802" y="795" width="4" height="3" fill="#3a8a5a" opacity="0.85"/>
<rect x="808" y="795" width="4" height="3" fill="#777" opacity="0.85"/>
<path d="M607 804.5 H860.5 L859 810.5 Q857 813.5 851 813.5 H617 Q610 813.5 608.5 810.5 Z" fill="url(#baseG)"/>
<path d="M716 804.5 H748 Q746 807 741 807 H723 Q718 807 716 804.5 Z" fill="#c8c8cc"/>
<text transform="translate(697.25,449.7) scale(1.0254,1)" font-size="21" font-weight="normal" fill="#111">Mobile</text>
<text transform="translate(702.90,623.8) scale(1.0393,1)" font-size="21" font-weight="normal" fill="#111">Tablet</text>
<text transform="translate(719.02,839.8) scale(0.8923,1)" font-size="21" font-weight="normal" fill="#111">PC</text>
<text transform="translate(422.67,664.8) scale(1.0131,1)" font-size="21" font-weight="normal" fill="#111">UbiBot</text>
<text transform="translate(490.00,664.8) scale(1.0000,1)" font-size="21" font-weight="normal" fill="#111">IoT</text>
<text transform="translate(431.23,686.3) scale(1.0347,1)" font-size="21" font-weight="normal" fill="#111">Platform</text>
</svg>
</body></html>
